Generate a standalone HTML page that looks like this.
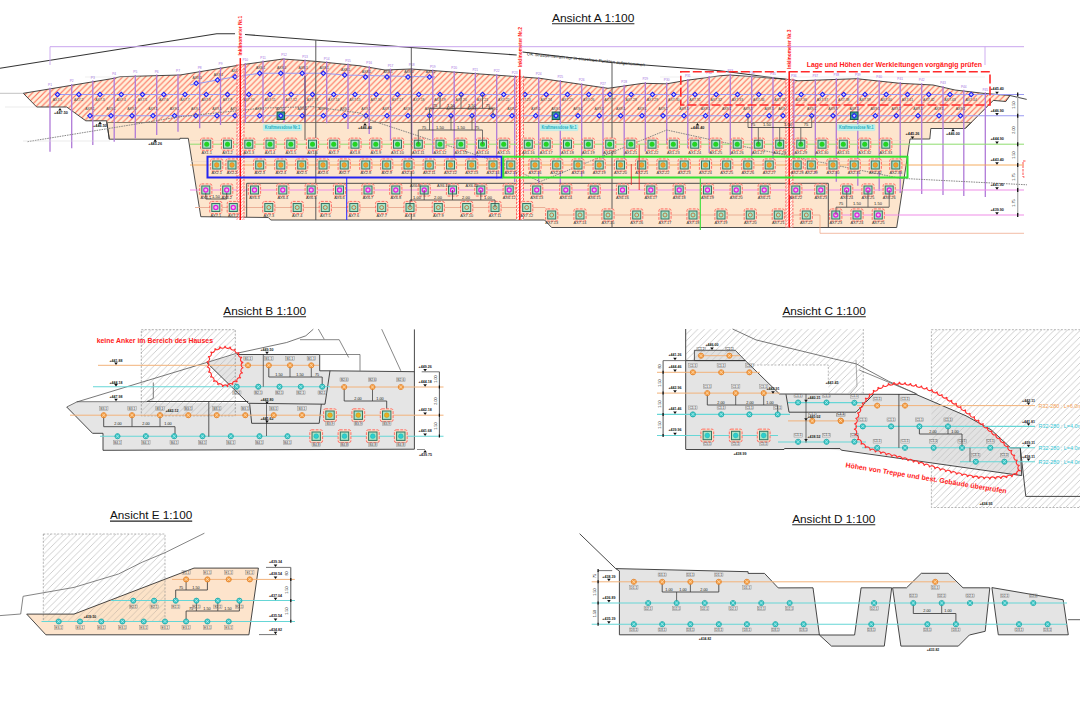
<!DOCTYPE html>
<html><head><meta charset="utf-8"><style>
html,body{margin:0;padding:0;background:#fff;width:1080px;height:720px;overflow:hidden}
svg{display:block}
</style></head><body>
<svg width="1080" height="720" viewBox="0 0 1080 720" font-family="Liberation Sans, sans-serif">
<defs>
<pattern id="hr" patternUnits="userSpaceOnUse" width="5.7" height="5.7">
<rect width="5.7" height="5.7" fill="#fef1dc"/>
<path d="M-1.4,1.4 l2.8,-2.8 M0,5.7 l5.7,-5.7 M4.3,7.1 l2.8,-2.8" stroke="#ff6c58" stroke-width="1.15"/>
</pattern>
<pattern id="hi" patternUnits="userSpaceOnUse" width="3" height="3">
<rect width="3" height="3" fill="#fff"/>
<path d="M-0.75,0.75 l1.5,-1.5 M0,3 l3,-3 M2.25,3.75 l1.5,-1.5" stroke="#ff5a5a" stroke-width="0.7"/>
</pattern>
<pattern id="hg" patternUnits="userSpaceOnUse" width="6.5" height="6.5">
<path d="M-1.6,1.6 l3.2,-3.2 M0,6.5 l6.5,-6.5 M4.9,8.1 l3.2,-3.2" stroke="#b9b9b9" stroke-width="0.7"/>
</pattern>
<pattern id="hgb" patternUnits="userSpaceOnUse" width="6.5" height="6.5">
<rect width="6.5" height="6.5" fill="#e2e2e2"/>
<path d="M-1.6,1.6 l3.2,-3.2 M0,6.5 l6.5,-6.5 M4.9,8.1 l3.2,-3.2" stroke="#bdbdbd" stroke-width="0.7"/>
</pattern>
<pattern id="hrb" patternUnits="userSpaceOnUse" width="6.5" height="6.5">
<rect width="6.5" height="6.5" fill="#fce3c8"/>
<path d="M-1.6,1.6 l3.2,-3.2 M0,6.5 l6.5,-6.5 M4.9,8.1 l3.2,-3.2" stroke="#c9b9a9" stroke-width="0.7"/>
</pattern>
</defs>
<rect width="1080" height="720" fill="#fff"/>
<text x="552.0" y="21.7" font-size="11.6" fill="#111" textLength="82.4" lengthAdjust="spacingAndGlyphs">Ansicht A 1:100</text>
<line x1="552.0" y1="23.7" x2="634.4" y2="23.7" stroke="#222" stroke-width="1.1" />
<polygon points="106.7,122.0 109.3,139.2 180.0,139.2 180.0,138.3 188.3,138.3 200.8,216.7 268.3,217.5 270.8,220.0 544.6,220.0 551.6,227.5 896.7,227.5 910.0,139.0 929.8,139.0 930.8,128.5 965.2,128.5 971.5,122.0" fill="#fde5cd" stroke="#3a3a3a" stroke-width="0.9" />
<polygon points="23.3,93.3 114.0,78.3 120.0,76.7 180.0,75.0 240.0,65.0 283.0,59.0 315.0,61.3 360.0,65.8 385.0,70.0 411.0,69.0 540.0,78.3 608.0,88.3 643.0,83.3 666.7,83.8 686.7,80.3 720.0,75.8 730.0,75.0 791.7,79.7 798.0,80.8 856.7,78.7 900.0,83.3 933.0,85.0 955.0,90.0 983.0,93.3 1010.0,95.5 1005.8,101.5 993.3,100.4 971.5,122.3 106.7,122.3 106.7,120.8 85.8,120.8 66.7,107.0 36.7,107.0" fill="url(#hr)" stroke="none" stroke-width="1" />
<polyline points="23.3,93.3 36.7,107.0 66.7,107.0 85.8,120.8 106.7,120.8 109.3,139.2" fill="none" stroke="#333" stroke-width="0.9" />
<polyline points="23.3,93.3 114.0,78.3 120.0,76.7 180.0,75.0 240.0,65.0 283.0,59.0 315.0,61.3 360.0,65.8 385.0,70.0 411.0,69.0 540.0,78.3 608.0,88.3 643.0,83.3 666.7,83.8 686.7,80.3 720.0,75.8 730.0,75.0 791.7,79.7 798.0,80.8 856.7,78.7 900.0,83.3 933.0,85.0 955.0,90.0 983.0,93.3 1010.0,95.5 1026.7,99.4" fill="none" stroke="#333" stroke-width="0.9" />
<polyline points="1010.0,95.5 1005.8,101.5 993.3,100.4 965.2,128.5" fill="none" stroke="#333" stroke-width="0.9" />
<line x1="106.7" y1="122.5" x2="971.0" y2="122.5" stroke="#8a7a6a" stroke-width="1.0" />
<line x1="0.0" y1="93.3" x2="23.3" y2="93.3" stroke="#999" stroke-width="0.6" />
<line x1="5.0" y1="107.0" x2="36.0" y2="107.0" stroke="#ddd" stroke-width="0.6" />
<polyline points="0.0,68.3 216.7,33.7 235.0,33.7" fill="none" stroke="#333" stroke-width="1.1" />
<polyline points="245.0,34.5 315.0,40.0 411.0,47.5 516.7,55.0" fill="none" stroke="#333" stroke-width="1.1" />
<polyline points="522.5,52.0 612.0,62.5 720.0,70.8 791.7,80.0" fill="none" stroke="#333" stroke-width="1.1" />
<line x1="50.0" y1="46.7" x2="1024.0" y2="46.7" stroke="#c9a6ee" stroke-width="1.0" />
<line x1="50.0" y1="46.7" x2="50.0" y2="65.0" stroke="#c9a6ee" stroke-width="0.9" />
<line x1="985.0" y1="46.7" x2="985.0" y2="65.0" stroke="#c9a6ee" stroke-width="0.9" />
<text x="0" y="0" font-size="4.4" fill="#222" transform="translate(526.7 55.2) rotate(5.4)" textLength="118.5" lengthAdjust="spacingAndGlyphs">OK Strassenterrain nur in einzelnen Punkten aufgenommen</text>
<line x1="85.0" y1="77.0" x2="140.0" y2="77.0" stroke="#ddd" stroke-width="0.5" />
<line x1="660.0" y1="77.0" x2="985.0" y2="77.0" stroke="#ddd" stroke-width="0.5" />
<polyline points="190.0,85.0 235.0,76.7 259.7,73.3 323.0,73.3 344.7,75.0 435.0,77.0" fill="none" stroke="#9a9af2" stroke-width="1.1" />
<line x1="57.0" y1="94.5" x2="1024.0" y2="94.5" stroke="#9a9af2" stroke-width="1.1" />
<line x1="88.0" y1="115.8" x2="1024.0" y2="115.8" stroke="#9a9af2" stroke-width="1.1" />
<line x1="50.0" y1="87.7" x2="50.0" y2="151.7" stroke="#b07ad8" stroke-width="1.3" />
<text x="50.0" y="85.9" font-size="3.2" fill="#a070e0" text-anchor="middle">P1</text>
<line x1="71.7" y1="84.1" x2="71.7" y2="148.3" stroke="#b07ad8" stroke-width="1.3" />
<text x="71.7" y="82.3" font-size="3.2" fill="#a070e0" text-anchor="middle">P2</text>
<line x1="92.8" y1="80.6" x2="92.8" y2="145.0" stroke="#b07ad8" stroke-width="1.3" />
<text x="92.8" y="78.8" font-size="3.2" fill="#a070e0" text-anchor="middle">P3</text>
<line x1="114.2" y1="77.0" x2="114.2" y2="141.7" stroke="#b07ad8" stroke-width="1.3" />
<text x="114.2" y="75.2" font-size="3.2" fill="#a070e0" text-anchor="middle">P4</text>
<line x1="135.3" y1="75.1" x2="135.3" y2="138.4" stroke="#b07ad8" stroke-width="1.3" />
<text x="135.3" y="73.3" font-size="3.2" fill="#a070e0" text-anchor="middle">P5</text>
<line x1="156.7" y1="74.5" x2="156.7" y2="135.0" stroke="#b07ad8" stroke-width="1.3" />
<text x="156.7" y="72.7" font-size="3.2" fill="#a070e0" text-anchor="middle">P6</text>
<line x1="178.0" y1="73.9" x2="178.0" y2="131.7" stroke="#b07ad8" stroke-width="1.3" />
<text x="178.0" y="72.1" font-size="3.2" fill="#a070e0" text-anchor="middle">P7</text>
<line x1="199.7" y1="70.5" x2="199.7" y2="128.3" stroke="#b07ad8" stroke-width="1.3" />
<text x="199.7" y="68.7" font-size="3.2" fill="#a070e0" text-anchor="middle">P8</text>
<line x1="220.5" y1="67.0" x2="220.5" y2="125.0" stroke="#b07ad8" stroke-width="1.3" />
<text x="220.5" y="65.2" font-size="3.2" fill="#a070e0" text-anchor="middle">P9</text>
<line x1="245.3" y1="63.1" x2="245.3" y2="123.0" stroke="#b07ad8" stroke-width="1.3" />
<text x="245.3" y="61.3" font-size="3.2" fill="#a070e0" text-anchor="middle">P10</text>
<line x1="263.0" y1="60.6" x2="263.0" y2="123.0" stroke="#b07ad8" stroke-width="1.3" />
<text x="263.0" y="58.8" font-size="3.2" fill="#a070e0" text-anchor="middle">P11</text>
<line x1="284.0" y1="57.9" x2="284.0" y2="123.0" stroke="#b07ad8" stroke-width="1.3" />
<text x="284.0" y="56.1" font-size="3.2" fill="#a070e0" text-anchor="middle">P12</text>
<line x1="305.0" y1="59.4" x2="305.0" y2="123.0" stroke="#b07ad8" stroke-width="1.3" />
<text x="305.0" y="57.6" font-size="3.2" fill="#a070e0" text-anchor="middle">P13</text>
<line x1="326.7" y1="61.3" x2="326.7" y2="123.2" stroke="#b07ad8" stroke-width="1.3" />
<text x="326.7" y="59.5" font-size="3.2" fill="#a070e0" text-anchor="middle">P14</text>
<line x1="348.0" y1="63.4" x2="348.0" y2="129.0" stroke="#b07ad8" stroke-width="1.3" />
<text x="348.0" y="61.6" font-size="3.2" fill="#a070e0" text-anchor="middle">P15</text>
<line x1="369.2" y1="66.1" x2="369.2" y2="134.1" stroke="#b07ad8" stroke-width="1.3" />
<text x="369.2" y="64.3" font-size="3.2" fill="#a070e0" text-anchor="middle">P16</text>
<line x1="390.5" y1="68.6" x2="390.5" y2="141.0" stroke="#b07ad8" stroke-width="1.3" />
<text x="390.5" y="66.8" font-size="3.2" fill="#a070e0" text-anchor="middle">P17</text>
<line x1="411.7" y1="67.9" x2="411.7" y2="147.5" stroke="#b07ad8" stroke-width="1.3" />
<text x="411.7" y="66.1" font-size="3.2" fill="#a070e0" text-anchor="middle">P18</text>
<line x1="432.8" y1="69.4" x2="432.8" y2="154.0" stroke="#b07ad8" stroke-width="1.3" />
<text x="432.8" y="67.6" font-size="3.2" fill="#a070e0" text-anchor="middle">P19</text>
<line x1="454.2" y1="70.9" x2="454.2" y2="160.9" stroke="#b07ad8" stroke-width="1.3" />
<text x="454.2" y="69.1" font-size="3.2" fill="#a070e0" text-anchor="middle">P20</text>
<line x1="475.3" y1="72.4" x2="475.3" y2="167.7" stroke="#b07ad8" stroke-width="1.3" />
<text x="475.3" y="70.6" font-size="3.2" fill="#a070e0" text-anchor="middle">P21</text>
<line x1="496.7" y1="74.0" x2="496.7" y2="178.8" stroke="#b07ad8" stroke-width="1.3" />
<text x="496.7" y="72.2" font-size="3.2" fill="#a070e0" text-anchor="middle">P22</text>
<line x1="514.7" y1="75.3" x2="514.7" y2="182.0" stroke="#b07ad8" stroke-width="1.3" />
<text x="514.7" y="73.5" font-size="3.2" fill="#a070e0" text-anchor="middle">P23</text>
<line x1="538.7" y1="77.0" x2="538.7" y2="186.0" stroke="#b07ad8" stroke-width="1.3" />
<text x="538.7" y="75.2" font-size="3.2" fill="#a070e0" text-anchor="middle">P24</text>
<line x1="560.3" y1="80.1" x2="560.3" y2="184.9" stroke="#b07ad8" stroke-width="1.3" />
<text x="560.3" y="78.3" font-size="3.2" fill="#a070e0" text-anchor="middle">P25</text>
<line x1="581.7" y1="83.2" x2="581.7" y2="178.3" stroke="#b07ad8" stroke-width="1.3" />
<text x="581.7" y="81.4" font-size="3.2" fill="#a070e0" text-anchor="middle">P26</text>
<line x1="603.0" y1="86.4" x2="603.0" y2="161.7" stroke="#b07ad8" stroke-width="1.3" />
<text x="603.0" y="84.6" font-size="3.2" fill="#a070e0" text-anchor="middle">P27</text>
<line x1="624.2" y1="84.8" x2="624.2" y2="158.9" stroke="#b07ad8" stroke-width="1.3" />
<text x="624.2" y="83.0" font-size="3.2" fill="#a070e0" text-anchor="middle">P28</text>
<line x1="645.3" y1="82.1" x2="645.3" y2="151.6" stroke="#b07ad8" stroke-width="1.3" />
<text x="645.3" y="80.3" font-size="3.2" fill="#a070e0" text-anchor="middle">P29</text>
<line x1="666.7" y1="82.6" x2="666.7" y2="144.3" stroke="#b07ad8" stroke-width="1.3" />
<text x="666.7" y="80.8" font-size="3.2" fill="#a070e0" text-anchor="middle">P30</text>
<line x1="687.8" y1="79.0" x2="687.8" y2="148.3" stroke="#b07ad8" stroke-width="1.3" />
<text x="687.8" y="77.2" font-size="3.2" fill="#a070e0" text-anchor="middle">P31</text>
<line x1="709.2" y1="76.1" x2="709.2" y2="153.3" stroke="#b07ad8" stroke-width="1.3" />
<text x="709.2" y="74.3" font-size="3.2" fill="#a070e0" text-anchor="middle">P32</text>
<line x1="730.3" y1="73.8" x2="730.3" y2="155.1" stroke="#b07ad8" stroke-width="1.3" />
<text x="730.3" y="72.0" font-size="3.2" fill="#a070e0" text-anchor="middle">P33</text>
<line x1="751.7" y1="75.5" x2="751.7" y2="159.9" stroke="#b07ad8" stroke-width="1.3" />
<text x="751.7" y="73.7" font-size="3.2" fill="#a070e0" text-anchor="middle">P34</text>
<line x1="773.0" y1="77.1" x2="773.0" y2="160.0" stroke="#b07ad8" stroke-width="1.3" />
<text x="773.0" y="75.3" font-size="3.2" fill="#a070e0" text-anchor="middle">P35</text>
<line x1="793.8" y1="78.9" x2="793.8" y2="166.6" stroke="#b07ad8" stroke-width="1.3" />
<text x="793.8" y="77.1" font-size="3.2" fill="#a070e0" text-anchor="middle">P36</text>
<line x1="815.3" y1="79.0" x2="815.3" y2="173.4" stroke="#b07ad8" stroke-width="1.3" />
<text x="815.3" y="77.2" font-size="3.2" fill="#a070e0" text-anchor="middle">P37</text>
<line x1="836.3" y1="78.2" x2="836.3" y2="181.8" stroke="#b07ad8" stroke-width="1.3" />
<text x="836.3" y="76.4" font-size="3.2" fill="#a070e0" text-anchor="middle">P38</text>
<line x1="857.8" y1="77.6" x2="857.8" y2="185.8" stroke="#b07ad8" stroke-width="1.3" />
<text x="857.8" y="75.8" font-size="3.2" fill="#a070e0" text-anchor="middle">P39</text>
<line x1="879.2" y1="79.9" x2="879.2" y2="191.0" stroke="#b07ad8" stroke-width="1.3" />
<text x="879.2" y="78.1" font-size="3.2" fill="#a070e0" text-anchor="middle">P40</text>
<line x1="900.2" y1="82.1" x2="900.2" y2="193.0" stroke="#b07ad8" stroke-width="1.3" />
<text x="900.2" y="80.3" font-size="3.2" fill="#a070e0" text-anchor="middle">P41</text>
<line x1="921.7" y1="83.2" x2="921.7" y2="194.0" stroke="#b07ad8" stroke-width="1.3" />
<text x="921.7" y="81.4" font-size="3.2" fill="#a070e0" text-anchor="middle">P42</text>
<line x1="943.0" y1="86.1" x2="943.0" y2="195.0" stroke="#b07ad8" stroke-width="1.3" />
<text x="943.0" y="84.3" font-size="3.2" fill="#a070e0" text-anchor="middle">P43</text>
<line x1="963.8" y1="89.8" x2="963.8" y2="196.0" stroke="#b07ad8" stroke-width="1.3" />
<text x="963.8" y="88.0" font-size="3.2" fill="#a070e0" text-anchor="middle">P44</text>
<line x1="985.3" y1="92.3" x2="985.3" y2="197.0" stroke="#b07ad8" stroke-width="1.3" />
<text x="985.3" y="90.5" font-size="3.2" fill="#a070e0" text-anchor="middle">P45</text>
<rect x="194.6" y="81.7" width="3.2" height="3.2" fill="#c8c8ff" stroke="#1e1ef5" stroke-width="1.1" transform="rotate(45 196.2 83.3)"/>
<text x="197.2" y="78.8" font-size="3.5" fill="#444" text-anchor="middle">AX8.1</text>
<rect x="215.9" y="78.4" width="3.2" height="3.2" fill="#c8c8ff" stroke="#1e1ef5" stroke-width="1.1" transform="rotate(45 217.5 80.0)"/>
<text x="218.5" y="75.5" font-size="3.5" fill="#444" text-anchor="middle">AX8.1</text>
<rect x="233.4" y="75.1" width="3.2" height="3.2" fill="#c8c8ff" stroke="#1e1ef5" stroke-width="1.1" transform="rotate(45 235.0 76.7)"/>
<text x="236.0" y="72.2" font-size="3.5" fill="#444" text-anchor="middle">AX8.1</text>
<rect x="258.1" y="71.7" width="3.2" height="3.2" fill="#c8c8ff" stroke="#1e1ef5" stroke-width="1.1" transform="rotate(45 259.7 73.3)"/>
<text x="260.7" y="68.8" font-size="3.5" fill="#444" text-anchor="middle">AX8.1</text>
<rect x="279.2" y="71.7" width="3.2" height="3.2" fill="#c8c8ff" stroke="#1e1ef5" stroke-width="1.1" transform="rotate(45 280.8 73.3)"/>
<text x="281.8" y="68.8" font-size="3.5" fill="#444" text-anchor="middle">AX8.1</text>
<rect x="300.6" y="71.7" width="3.2" height="3.2" fill="#c8c8ff" stroke="#1e1ef5" stroke-width="1.1" transform="rotate(45 302.2 73.3)"/>
<text x="303.2" y="68.8" font-size="3.5" fill="#444" text-anchor="middle">AX8.1</text>
<rect x="321.7" y="71.7" width="3.2" height="3.2" fill="#c8c8ff" stroke="#1e1ef5" stroke-width="1.1" transform="rotate(45 323.3 73.3)"/>
<text x="324.3" y="68.8" font-size="3.5" fill="#444" text-anchor="middle">AX8.1</text>
<rect x="343.1" y="73.4" width="3.2" height="3.2" fill="#c8c8ff" stroke="#1e1ef5" stroke-width="1.1" transform="rotate(45 344.7 75.0)"/>
<text x="345.7" y="70.5" font-size="3.5" fill="#444" text-anchor="middle">AX8.1</text>
<rect x="363.9" y="75.4" width="3.2" height="3.2" fill="#c8c8ff" stroke="#1e1ef5" stroke-width="1.1" transform="rotate(45 365.5 77.0)"/>
<text x="366.5" y="72.5" font-size="3.5" fill="#444" text-anchor="middle">AX8.1</text>
<rect x="385.4" y="75.4" width="3.2" height="3.2" fill="#c8c8ff" stroke="#1e1ef5" stroke-width="1.1" transform="rotate(45 387.0 77.0)"/>
<text x="388.0" y="72.5" font-size="3.5" fill="#444" text-anchor="middle">AX8.1</text>
<rect x="406.4" y="75.4" width="3.2" height="3.2" fill="#c8c8ff" stroke="#1e1ef5" stroke-width="1.1" transform="rotate(45 408.0 77.0)"/>
<text x="409.0" y="72.5" font-size="3.5" fill="#444" text-anchor="middle">AX8.1</text>
<rect x="427.9" y="75.4" width="3.2" height="3.2" fill="#c8c8ff" stroke="#1e1ef5" stroke-width="1.1" transform="rotate(45 429.5 77.0)"/>
<text x="430.5" y="72.5" font-size="3.5" fill="#444" text-anchor="middle">AX8.1</text>
<rect x="55.9" y="92.9" width="3.2" height="3.2" fill="#c8c8ff" stroke="#1e1ef5" stroke-width="1.1" transform="rotate(45 57.5 94.5)"/>
<text x="57.5" y="101.0" font-size="3.5" fill="#444" text-anchor="middle">AX7.1</text>
<rect x="77.2" y="92.9" width="3.2" height="3.2" fill="#c8c8ff" stroke="#1e1ef5" stroke-width="1.1" transform="rotate(45 78.8 94.5)"/>
<text x="78.8" y="101.0" font-size="3.5" fill="#444" text-anchor="middle">AX7.2</text>
<rect x="98.4" y="92.9" width="3.2" height="3.2" fill="#c8c8ff" stroke="#1e1ef5" stroke-width="1.1" transform="rotate(45 100.0 94.5)"/>
<text x="100.0" y="101.0" font-size="3.5" fill="#444" text-anchor="middle">AX7.3</text>
<rect x="119.7" y="92.9" width="3.2" height="3.2" fill="#c8c8ff" stroke="#1e1ef5" stroke-width="1.1" transform="rotate(45 121.2 94.5)"/>
<text x="121.2" y="101.0" font-size="3.5" fill="#444" text-anchor="middle">AX7.4</text>
<rect x="140.9" y="92.9" width="3.2" height="3.2" fill="#c8c8ff" stroke="#1e1ef5" stroke-width="1.1" transform="rotate(45 142.5 94.5)"/>
<text x="142.5" y="101.0" font-size="3.5" fill="#444" text-anchor="middle">AX7.5</text>
<rect x="162.2" y="92.9" width="3.2" height="3.2" fill="#c8c8ff" stroke="#1e1ef5" stroke-width="1.1" transform="rotate(45 163.8 94.5)"/>
<text x="163.8" y="101.0" font-size="3.5" fill="#444" text-anchor="middle">AX7.6</text>
<rect x="183.4" y="92.9" width="3.2" height="3.2" fill="#c8c8ff" stroke="#1e1ef5" stroke-width="1.1" transform="rotate(45 185.0 94.5)"/>
<text x="185.0" y="101.0" font-size="3.5" fill="#444" text-anchor="middle">AX7.7</text>
<rect x="204.7" y="92.9" width="3.2" height="3.2" fill="#c8c8ff" stroke="#1e1ef5" stroke-width="1.1" transform="rotate(45 206.2 94.5)"/>
<text x="206.2" y="101.0" font-size="3.5" fill="#444" text-anchor="middle">AX7.8</text>
<rect x="225.9" y="92.9" width="3.2" height="3.2" fill="#c8c8ff" stroke="#1e1ef5" stroke-width="1.1" transform="rotate(45 227.5 94.5)"/>
<text x="227.5" y="101.0" font-size="3.5" fill="#444" text-anchor="middle">AX7.9</text>
<rect x="247.2" y="92.9" width="3.2" height="3.2" fill="#c8c8ff" stroke="#1e1ef5" stroke-width="1.1" transform="rotate(45 248.8 94.5)"/>
<text x="248.8" y="101.0" font-size="3.5" fill="#444" text-anchor="middle">AX7.10</text>
<rect x="268.4" y="92.9" width="3.2" height="3.2" fill="#c8c8ff" stroke="#1e1ef5" stroke-width="1.1" transform="rotate(45 270.0 94.5)"/>
<text x="270.0" y="101.0" font-size="3.5" fill="#444" text-anchor="middle">AX7.11</text>
<rect x="289.6" y="92.9" width="3.2" height="3.2" fill="#c8c8ff" stroke="#1e1ef5" stroke-width="1.1" transform="rotate(45 291.2 94.5)"/>
<text x="291.2" y="101.0" font-size="3.5" fill="#444" text-anchor="middle">AX7.12</text>
<rect x="310.9" y="92.9" width="3.2" height="3.2" fill="#c8c8ff" stroke="#1e1ef5" stroke-width="1.1" transform="rotate(45 312.5 94.5)"/>
<text x="312.5" y="101.0" font-size="3.5" fill="#444" text-anchor="middle">AX7.13</text>
<rect x="332.1" y="92.9" width="3.2" height="3.2" fill="#c8c8ff" stroke="#1e1ef5" stroke-width="1.1" transform="rotate(45 333.8 94.5)"/>
<text x="333.8" y="101.0" font-size="3.5" fill="#444" text-anchor="middle">AX7.14</text>
<rect x="353.4" y="92.9" width="3.2" height="3.2" fill="#c8c8ff" stroke="#1e1ef5" stroke-width="1.1" transform="rotate(45 355.0 94.5)"/>
<text x="355.0" y="101.0" font-size="3.5" fill="#444" text-anchor="middle">AX7.15</text>
<rect x="374.6" y="92.9" width="3.2" height="3.2" fill="#c8c8ff" stroke="#1e1ef5" stroke-width="1.1" transform="rotate(45 376.2 94.5)"/>
<text x="376.2" y="101.0" font-size="3.5" fill="#444" text-anchor="middle">AX7.16</text>
<rect x="395.9" y="92.9" width="3.2" height="3.2" fill="#c8c8ff" stroke="#1e1ef5" stroke-width="1.1" transform="rotate(45 397.5 94.5)"/>
<text x="397.5" y="101.0" font-size="3.5" fill="#444" text-anchor="middle">AX7.17</text>
<rect x="417.1" y="92.9" width="3.2" height="3.2" fill="#c8c8ff" stroke="#1e1ef5" stroke-width="1.1" transform="rotate(45 418.8 94.5)"/>
<text x="418.8" y="101.0" font-size="3.5" fill="#444" text-anchor="middle">AX7.18</text>
<rect x="438.4" y="92.9" width="3.2" height="3.2" fill="#c8c8ff" stroke="#1e1ef5" stroke-width="1.1" transform="rotate(45 440.0 94.5)"/>
<text x="440.0" y="101.0" font-size="3.5" fill="#444" text-anchor="middle">AX7.19</text>
<rect x="459.6" y="92.9" width="3.2" height="3.2" fill="#c8c8ff" stroke="#1e1ef5" stroke-width="1.1" transform="rotate(45 461.2 94.5)"/>
<text x="461.2" y="101.0" font-size="3.5" fill="#444" text-anchor="middle">AX7.20</text>
<rect x="480.9" y="92.9" width="3.2" height="3.2" fill="#c8c8ff" stroke="#1e1ef5" stroke-width="1.1" transform="rotate(45 482.5 94.5)"/>
<text x="482.5" y="101.0" font-size="3.5" fill="#444" text-anchor="middle">AX7.21</text>
<rect x="502.1" y="92.9" width="3.2" height="3.2" fill="#c8c8ff" stroke="#1e1ef5" stroke-width="1.1" transform="rotate(45 503.8 94.5)"/>
<text x="503.8" y="101.0" font-size="3.5" fill="#444" text-anchor="middle">AX7.22</text>
<rect x="523.4" y="92.9" width="3.2" height="3.2" fill="#c8c8ff" stroke="#1e1ef5" stroke-width="1.1" transform="rotate(45 525.0 94.5)"/>
<text x="525.0" y="101.0" font-size="3.5" fill="#444" text-anchor="middle">AX7.23</text>
<rect x="544.6" y="92.9" width="3.2" height="3.2" fill="#c8c8ff" stroke="#1e1ef5" stroke-width="1.1" transform="rotate(45 546.2 94.5)"/>
<text x="546.2" y="101.0" font-size="3.5" fill="#444" text-anchor="middle">AX7.24</text>
<rect x="565.9" y="92.9" width="3.2" height="3.2" fill="#c8c8ff" stroke="#1e1ef5" stroke-width="1.1" transform="rotate(45 567.5 94.5)"/>
<text x="567.5" y="101.0" font-size="3.5" fill="#444" text-anchor="middle">AX7.25</text>
<rect x="587.1" y="92.9" width="3.2" height="3.2" fill="#c8c8ff" stroke="#1e1ef5" stroke-width="1.1" transform="rotate(45 588.8 94.5)"/>
<text x="588.8" y="101.0" font-size="3.5" fill="#444" text-anchor="middle">AX7.26</text>
<rect x="608.4" y="92.9" width="3.2" height="3.2" fill="#c8c8ff" stroke="#1e1ef5" stroke-width="1.1" transform="rotate(45 610.0 94.5)"/>
<text x="610.0" y="101.0" font-size="3.5" fill="#444" text-anchor="middle">AX7.27</text>
<rect x="629.6" y="92.9" width="3.2" height="3.2" fill="#c8c8ff" stroke="#1e1ef5" stroke-width="1.1" transform="rotate(45 631.2 94.5)"/>
<text x="631.2" y="101.0" font-size="3.5" fill="#444" text-anchor="middle">AX7.28</text>
<rect x="650.9" y="92.9" width="3.2" height="3.2" fill="#c8c8ff" stroke="#1e1ef5" stroke-width="1.1" transform="rotate(45 652.5 94.5)"/>
<text x="652.5" y="101.0" font-size="3.5" fill="#444" text-anchor="middle">AX7.29</text>
<rect x="672.1" y="92.9" width="3.2" height="3.2" fill="#c8c8ff" stroke="#1e1ef5" stroke-width="1.1" transform="rotate(45 673.8 94.5)"/>
<text x="673.8" y="101.0" font-size="3.5" fill="#444" text-anchor="middle">AX7.30</text>
<rect x="693.4" y="92.9" width="3.2" height="3.2" fill="#c8c8ff" stroke="#1e1ef5" stroke-width="1.1" transform="rotate(45 695.0 94.5)"/>
<text x="695.0" y="101.0" font-size="3.5" fill="#444" text-anchor="middle">AX7.31</text>
<rect x="714.6" y="92.9" width="3.2" height="3.2" fill="#c8c8ff" stroke="#1e1ef5" stroke-width="1.1" transform="rotate(45 716.2 94.5)"/>
<text x="716.2" y="101.0" font-size="3.5" fill="#444" text-anchor="middle">AX7.32</text>
<rect x="735.9" y="92.9" width="3.2" height="3.2" fill="#c8c8ff" stroke="#1e1ef5" stroke-width="1.1" transform="rotate(45 737.5 94.5)"/>
<text x="737.5" y="101.0" font-size="3.5" fill="#444" text-anchor="middle">AX7.33</text>
<rect x="757.1" y="92.9" width="3.2" height="3.2" fill="#c8c8ff" stroke="#1e1ef5" stroke-width="1.1" transform="rotate(45 758.8 94.5)"/>
<text x="758.8" y="101.0" font-size="3.5" fill="#444" text-anchor="middle">AX7.34</text>
<rect x="778.4" y="92.9" width="3.2" height="3.2" fill="#c8c8ff" stroke="#1e1ef5" stroke-width="1.1" transform="rotate(45 780.0 94.5)"/>
<text x="780.0" y="101.0" font-size="3.5" fill="#444" text-anchor="middle">AX7.35</text>
<rect x="799.6" y="92.9" width="3.2" height="3.2" fill="#c8c8ff" stroke="#1e1ef5" stroke-width="1.1" transform="rotate(45 801.2 94.5)"/>
<text x="801.2" y="101.0" font-size="3.5" fill="#444" text-anchor="middle">AX7.36</text>
<rect x="820.9" y="92.9" width="3.2" height="3.2" fill="#c8c8ff" stroke="#1e1ef5" stroke-width="1.1" transform="rotate(45 822.5 94.5)"/>
<text x="822.5" y="101.0" font-size="3.5" fill="#444" text-anchor="middle">AX7.37</text>
<rect x="842.1" y="92.9" width="3.2" height="3.2" fill="#c8c8ff" stroke="#1e1ef5" stroke-width="1.1" transform="rotate(45 843.8 94.5)"/>
<text x="843.8" y="101.0" font-size="3.5" fill="#444" text-anchor="middle">AX7.38</text>
<rect x="863.4" y="92.9" width="3.2" height="3.2" fill="#c8c8ff" stroke="#1e1ef5" stroke-width="1.1" transform="rotate(45 865.0 94.5)"/>
<text x="865.0" y="101.0" font-size="3.5" fill="#444" text-anchor="middle">AX7.39</text>
<rect x="884.6" y="92.9" width="3.2" height="3.2" fill="#c8c8ff" stroke="#1e1ef5" stroke-width="1.1" transform="rotate(45 886.2 94.5)"/>
<text x="886.2" y="101.0" font-size="3.5" fill="#444" text-anchor="middle">AX7.40</text>
<rect x="905.9" y="92.9" width="3.2" height="3.2" fill="#c8c8ff" stroke="#1e1ef5" stroke-width="1.1" transform="rotate(45 907.5 94.5)"/>
<text x="907.5" y="101.0" font-size="3.5" fill="#444" text-anchor="middle">AX7.41</text>
<rect x="927.1" y="92.9" width="3.2" height="3.2" fill="#c8c8ff" stroke="#1e1ef5" stroke-width="1.1" transform="rotate(45 928.8 94.5)"/>
<text x="928.8" y="101.0" font-size="3.5" fill="#444" text-anchor="middle">AX7.42</text>
<rect x="948.4" y="92.9" width="3.2" height="3.2" fill="#c8c8ff" stroke="#1e1ef5" stroke-width="1.1" transform="rotate(45 950.0 94.5)"/>
<text x="950.0" y="101.0" font-size="3.5" fill="#444" text-anchor="middle">AX7.43</text>
<rect x="969.6" y="92.9" width="3.2" height="3.2" fill="#c8c8ff" stroke="#1e1ef5" stroke-width="1.1" transform="rotate(45 971.2 94.5)"/>
<text x="971.2" y="101.0" font-size="3.5" fill="#444" text-anchor="middle">AX7.44</text>
<rect x="88.4" y="114.2" width="3.2" height="3.2" fill="#c8c8ff" stroke="#1e1ef5" stroke-width="1.1" transform="rotate(45 90.0 115.8)"/>
<text x="90.0" y="109.5" font-size="3.5" fill="#444" text-anchor="middle">AX9.1</text>
<rect x="109.4" y="114.2" width="3.2" height="3.2" fill="#c8c8ff" stroke="#1e1ef5" stroke-width="1.1" transform="rotate(45 111.0 115.8)"/>
<text x="111.0" y="109.5" font-size="3.5" fill="#444" text-anchor="middle">AX9.1</text>
<rect x="130.4" y="114.2" width="3.2" height="3.2" fill="#c8c8ff" stroke="#1e1ef5" stroke-width="1.1" transform="rotate(45 132.0 115.8)"/>
<text x="132.0" y="109.5" font-size="3.5" fill="#444" text-anchor="middle">AX9.1</text>
<rect x="151.4" y="114.2" width="3.2" height="3.2" fill="#c8c8ff" stroke="#1e1ef5" stroke-width="1.1" transform="rotate(45 153.0 115.8)"/>
<text x="153.0" y="109.5" font-size="3.5" fill="#444" text-anchor="middle">AX9.1</text>
<rect x="172.9" y="114.2" width="3.2" height="3.2" fill="#c8c8ff" stroke="#1e1ef5" stroke-width="1.1" transform="rotate(45 174.5 115.8)"/>
<text x="174.5" y="109.5" font-size="3.5" fill="#444" text-anchor="middle">AX9.1</text>
<rect x="194.2" y="114.2" width="3.2" height="3.2" fill="#c8c8ff" stroke="#1e1ef5" stroke-width="1.1" transform="rotate(45 195.8 115.8)"/>
<text x="195.8" y="109.5" font-size="3.5" fill="#444" text-anchor="middle">AX9.1</text>
<rect x="215.4" y="114.2" width="3.2" height="3.2" fill="#c8c8ff" stroke="#1e1ef5" stroke-width="1.1" transform="rotate(45 217.0 115.8)"/>
<text x="217.0" y="109.5" font-size="3.5" fill="#444" text-anchor="middle">AX9.1</text>
<rect x="233.4" y="114.2" width="3.2" height="3.2" fill="#c8c8ff" stroke="#1e1ef5" stroke-width="1.1" transform="rotate(45 235.0 115.8)"/>
<text x="235.0" y="109.5" font-size="3.5" fill="#444" text-anchor="middle">AX9.1</text>
<rect x="258.1" y="114.2" width="3.2" height="3.2" fill="#c8c8ff" stroke="#1e1ef5" stroke-width="1.1" transform="rotate(45 259.7 115.8)"/>
<text x="259.7" y="109.5" font-size="3.5" fill="#444" text-anchor="middle">AX9.1</text>
<rect x="277.1" y="112.0" width="7.5" height="7.5" fill="#3a9a9a" stroke="#1f5f50" stroke-width="1"/>
<rect x="279.2" y="114.2" width="3.2" height="3.2" fill="#c8c8ff" stroke="#1e1ef5" stroke-width="1.1" transform="rotate(45 280.8 115.8)"/>
<text x="280.8" y="109.5" font-size="3.5" fill="#444" text-anchor="middle">AX9.1</text>
<rect x="300.6" y="114.2" width="3.2" height="3.2" fill="#c8c8ff" stroke="#1e1ef5" stroke-width="1.1" transform="rotate(45 302.2 115.8)"/>
<text x="302.2" y="109.5" font-size="3.5" fill="#444" text-anchor="middle">AX9.1</text>
<rect x="321.7" y="114.2" width="3.2" height="3.2" fill="#c8c8ff" stroke="#1e1ef5" stroke-width="1.1" transform="rotate(45 323.3 115.8)"/>
<text x="323.3" y="109.5" font-size="3.5" fill="#444" text-anchor="middle">AX9.1</text>
<rect x="343.1" y="114.2" width="3.2" height="3.2" fill="#c8c8ff" stroke="#1e1ef5" stroke-width="1.1" transform="rotate(45 344.7 115.8)"/>
<text x="344.7" y="109.5" font-size="3.5" fill="#444" text-anchor="middle">AX9.1</text>
<rect x="364.4" y="114.2" width="3.2" height="3.2" fill="#c8c8ff" stroke="#1e1ef5" stroke-width="1.1" transform="rotate(45 366.0 115.8)"/>
<text x="366.0" y="109.5" font-size="3.5" fill="#444" text-anchor="middle">AX9.1</text>
<rect x="385.4" y="114.2" width="3.2" height="3.2" fill="#c8c8ff" stroke="#1e1ef5" stroke-width="1.1" transform="rotate(45 387.0 115.8)"/>
<text x="387.0" y="109.5" font-size="3.5" fill="#444" text-anchor="middle">AX9.1</text>
<rect x="406.4" y="114.2" width="3.2" height="3.2" fill="#c8c8ff" stroke="#1e1ef5" stroke-width="1.1" transform="rotate(45 408.0 115.8)"/>
<text x="408.0" y="109.5" font-size="3.5" fill="#444" text-anchor="middle">AX9.1</text>
<rect x="427.9" y="114.2" width="3.2" height="3.2" fill="#c8c8ff" stroke="#1e1ef5" stroke-width="1.1" transform="rotate(45 429.5 115.8)"/>
<text x="429.5" y="109.5" font-size="3.5" fill="#444" text-anchor="middle">AX9.1</text>
<rect x="449.4" y="114.2" width="3.2" height="3.2" fill="#c8c8ff" stroke="#1e1ef5" stroke-width="1.1" transform="rotate(45 451.0 115.8)"/>
<text x="451.0" y="109.5" font-size="3.5" fill="#444" text-anchor="middle">AX9.1</text>
<rect x="470.4" y="114.2" width="3.2" height="3.2" fill="#c8c8ff" stroke="#1e1ef5" stroke-width="1.1" transform="rotate(45 472.0 115.8)"/>
<text x="472.0" y="109.5" font-size="3.5" fill="#444" text-anchor="middle">AX9.1</text>
<rect x="491.4" y="114.2" width="3.2" height="3.2" fill="#c8c8ff" stroke="#1e1ef5" stroke-width="1.1" transform="rotate(45 493.0 115.8)"/>
<text x="493.0" y="109.5" font-size="3.5" fill="#444" text-anchor="middle">AX9.1</text>
<rect x="510.4" y="114.2" width="3.2" height="3.2" fill="#c8c8ff" stroke="#1e1ef5" stroke-width="1.1" transform="rotate(45 512.0 115.8)"/>
<text x="512.0" y="109.5" font-size="3.5" fill="#444" text-anchor="middle">AX9.1</text>
<rect x="534.1" y="114.2" width="3.2" height="3.2" fill="#c8c8ff" stroke="#1e1ef5" stroke-width="1.1" transform="rotate(45 535.7 115.8)"/>
<text x="535.7" y="109.5" font-size="3.5" fill="#444" text-anchor="middle">AX9.1</text>
<rect x="552.2" y="112.0" width="7.5" height="7.5" fill="#3a9a9a" stroke="#1f5f50" stroke-width="1"/>
<rect x="554.4" y="114.2" width="3.2" height="3.2" fill="#c8c8ff" stroke="#1e1ef5" stroke-width="1.1" transform="rotate(45 556.0 115.8)"/>
<text x="556.0" y="109.5" font-size="3.5" fill="#444" text-anchor="middle">AX9.1</text>
<rect x="576.4" y="114.2" width="3.2" height="3.2" fill="#c8c8ff" stroke="#1e1ef5" stroke-width="1.1" transform="rotate(45 578.0 115.8)"/>
<text x="578.0" y="109.5" font-size="3.5" fill="#444" text-anchor="middle">AX9.1</text>
<rect x="597.7" y="114.2" width="3.2" height="3.2" fill="#c8c8ff" stroke="#1e1ef5" stroke-width="1.1" transform="rotate(45 599.3 115.8)"/>
<text x="599.3" y="109.5" font-size="3.5" fill="#444" text-anchor="middle">AX9.1</text>
<rect x="619.1" y="114.2" width="3.2" height="3.2" fill="#c8c8ff" stroke="#1e1ef5" stroke-width="1.1" transform="rotate(45 620.7 115.8)"/>
<text x="620.7" y="109.5" font-size="3.5" fill="#444" text-anchor="middle">AX9.1</text>
<rect x="640.4" y="114.2" width="3.2" height="3.2" fill="#c8c8ff" stroke="#1e1ef5" stroke-width="1.1" transform="rotate(45 642.0 115.8)"/>
<text x="642.0" y="109.5" font-size="3.5" fill="#444" text-anchor="middle">AX9.1</text>
<rect x="661.4" y="114.2" width="3.2" height="3.2" fill="#c8c8ff" stroke="#1e1ef5" stroke-width="1.1" transform="rotate(45 663.0 115.8)"/>
<text x="663.0" y="109.5" font-size="3.5" fill="#444" text-anchor="middle">AX9.1</text>
<rect x="682.4" y="114.2" width="3.2" height="3.2" fill="#c8c8ff" stroke="#1e1ef5" stroke-width="1.1" transform="rotate(45 684.0 115.8)"/>
<text x="684.0" y="109.5" font-size="3.5" fill="#444" text-anchor="middle">AX9.1</text>
<rect x="703.9" y="114.2" width="3.2" height="3.2" fill="#c8c8ff" stroke="#1e1ef5" stroke-width="1.1" transform="rotate(45 705.5 115.8)"/>
<text x="705.5" y="109.5" font-size="3.5" fill="#444" text-anchor="middle">AX9.1</text>
<rect x="725.1" y="114.2" width="3.2" height="3.2" fill="#c8c8ff" stroke="#1e1ef5" stroke-width="1.1" transform="rotate(45 726.7 115.8)"/>
<text x="726.7" y="109.5" font-size="3.5" fill="#444" text-anchor="middle">AX9.1</text>
<rect x="746.4" y="114.2" width="3.2" height="3.2" fill="#c8c8ff" stroke="#1e1ef5" stroke-width="1.1" transform="rotate(45 748.0 115.8)"/>
<text x="748.0" y="109.5" font-size="3.5" fill="#444" text-anchor="middle">AX9.1</text>
<rect x="767.6" y="114.2" width="3.2" height="3.2" fill="#c8c8ff" stroke="#1e1ef5" stroke-width="1.1" transform="rotate(45 769.2 115.8)"/>
<text x="769.2" y="109.5" font-size="3.5" fill="#444" text-anchor="middle">AX9.1</text>
<rect x="781.4" y="114.2" width="3.2" height="3.2" fill="#c8c8ff" stroke="#1e1ef5" stroke-width="1.1" transform="rotate(45 783.0 115.8)"/>
<text x="783.0" y="109.5" font-size="3.5" fill="#444" text-anchor="middle">AX9.1</text>
<rect x="810.1" y="114.2" width="3.2" height="3.2" fill="#c8c8ff" stroke="#1e1ef5" stroke-width="1.1" transform="rotate(45 811.7 115.8)"/>
<text x="811.7" y="109.5" font-size="3.5" fill="#444" text-anchor="middle">AX9.1</text>
<rect x="831.4" y="114.2" width="3.2" height="3.2" fill="#c8c8ff" stroke="#1e1ef5" stroke-width="1.1" transform="rotate(45 833.0 115.8)"/>
<text x="833.0" y="109.5" font-size="3.5" fill="#444" text-anchor="middle">AX9.1</text>
<rect x="850.5" y="112.0" width="7.5" height="7.5" fill="#3a9a9a" stroke="#1f5f50" stroke-width="1"/>
<rect x="852.6" y="114.2" width="3.2" height="3.2" fill="#c8c8ff" stroke="#1e1ef5" stroke-width="1.1" transform="rotate(45 854.2 115.8)"/>
<text x="854.2" y="109.5" font-size="3.5" fill="#444" text-anchor="middle">AX9.1</text>
<rect x="873.7" y="114.2" width="3.2" height="3.2" fill="#c8c8ff" stroke="#1e1ef5" stroke-width="1.1" transform="rotate(45 875.3 115.8)"/>
<text x="875.3" y="109.5" font-size="3.5" fill="#444" text-anchor="middle">AX9.1</text>
<rect x="894.7" y="114.2" width="3.2" height="3.2" fill="#c8c8ff" stroke="#1e1ef5" stroke-width="1.1" transform="rotate(45 896.3 115.8)"/>
<text x="896.3" y="109.5" font-size="3.5" fill="#444" text-anchor="middle">AX9.1</text>
<rect x="916.4" y="114.2" width="3.2" height="3.2" fill="#c8c8ff" stroke="#1e1ef5" stroke-width="1.1" transform="rotate(45 918.0 115.8)"/>
<text x="918.0" y="109.5" font-size="3.5" fill="#444" text-anchor="middle">AX9.1</text>
<rect x="937.4" y="114.2" width="3.2" height="3.2" fill="#c8c8ff" stroke="#1e1ef5" stroke-width="1.1" transform="rotate(45 939.0 115.8)"/>
<text x="939.0" y="109.5" font-size="3.5" fill="#444" text-anchor="middle">AX9.1</text>
<rect x="958.9" y="114.2" width="3.2" height="3.2" fill="#c8c8ff" stroke="#1e1ef5" stroke-width="1.1" transform="rotate(45 960.5 115.8)"/>
<text x="960.5" y="109.5" font-size="3.5" fill="#444" text-anchor="middle">AX9.1</text>
<rect x="680.8" y="71.7" width="309.2" height="33.3" fill="none" stroke="#ff2a2a" stroke-width="1.6" stroke-dasharray="9,3"/>
<text x="806.7" y="66.8" font-size="7.8" font-weight="bold" fill="#ff2020" textLength="175.3" lengthAdjust="spacingAndGlyphs">Lage und Höhen der Werkleitungen vorgängig prüfen</text>
<polyline points="27.5,141.7 135.0,124.2 180.0,116.7 263.0,108.0 313.0,106.7 360.0,113.0 370.0,120.0 501.7,163.3 540.0,181.7 666.7,130.0 720.0,141.7 900.0,178.3 1027.0,184.8" fill="none" stroke="#7a7a7a" stroke-width="0.9" stroke-dasharray="1.6,0.9"/>
<line x1="23.0" y1="141.0" x2="110.0" y2="141.0" stroke="#ddd" stroke-width="0.6" />
<line x1="190.0" y1="144.2" x2="1024.0" y2="144.2" stroke="#8fdc6f" stroke-width="1.0" />
<line x1="190.0" y1="140.5" x2="905.0" y2="140.5" stroke="#e6d2c2" stroke-width="0.5" />
<line x1="190.0" y1="161.5" x2="905.0" y2="161.5" stroke="#e6d2c2" stroke-width="0.5" />
<line x1="190.0" y1="165.0" x2="1024.0" y2="165.0" stroke="#f3a34f" stroke-width="0.9" />
<line x1="190.0" y1="190.0" x2="1024.0" y2="190.0" stroke="#f08ee8" stroke-width="1.2" />
<polyline points="195.0,207.5 545.0,207.5 552.0,215.0" fill="none" stroke="#e8a890" stroke-width="0.9" />
<line x1="545.0" y1="215.0" x2="820.0" y2="215.0" stroke="#e8a890" stroke-width="0.9" />
<line x1="828.0" y1="215.0" x2="1024.0" y2="215.0" stroke="#f08ee8" stroke-width="1.2" />
<polyline points="820.0,215.0 820.0,233.3 1024.0,233.3" fill="none" stroke="#eea080" stroke-width="0.7" />
<polyline points="246.7,217.0 246.7,183.3 828.3,183.3 828.3,227.5" fill="none" stroke="#4a4a4a" stroke-width="1.0" />
<line x1="315.8" y1="40.0" x2="315.8" y2="220.0" stroke="#5a5a5a" stroke-width="1.0" />
<line x1="411.3" y1="47.5" x2="411.3" y2="220.0" stroke="#4a4a4a" stroke-width="0.9" />
<line x1="612.0" y1="62.5" x2="612.0" y2="227.5" stroke="#5a5a5a" stroke-width="1.0" />
<line x1="346.7" y1="177.5" x2="346.7" y2="220.0" stroke="#3030ff" stroke-width="1.1" />
<line x1="700.3" y1="177.5" x2="700.3" y2="230.0" stroke="#35e035" stroke-width="1.1" />
<rect x="236.8" y="64.0" width="7" height="156.0" fill="url(#hi)" opacity="0.55"/>
<line x1="237.0" y1="64.0" x2="237.0" y2="220.0" stroke="#ff5a5a" stroke-width="0.9" stroke-dasharray="2.5,1.2"/>
<line x1="244.0" y1="64.0" x2="244.0" y2="220.0" stroke="#ff5a5a" stroke-width="0.9" stroke-dasharray="2.5,1.2"/>
<line x1="240.3" y1="58.1" x2="240.3" y2="220.0" stroke="#ff1010" stroke-width="1.5" />
<text x="0" y="0" font-size="5.6" font-weight="bold" fill="#ff1a1a" transform="translate(242.3 55.6) rotate(-90)" textLength="39.8" lengthAdjust="spacingAndGlyphs">Inklinometer Nr.1</text>
<rect x="516.3" y="75.8" width="7" height="144.2" fill="url(#hi)" opacity="0.55"/>
<line x1="516.5" y1="75.8" x2="516.5" y2="220.0" stroke="#ff5a5a" stroke-width="0.9" stroke-dasharray="2.5,1.2"/>
<line x1="523.5" y1="75.8" x2="523.5" y2="220.0" stroke="#ff5a5a" stroke-width="0.9" stroke-dasharray="2.5,1.2"/>
<line x1="519.8" y1="69.5" x2="519.8" y2="220.0" stroke="#ff1010" stroke-width="1.5" />
<text x="0" y="0" font-size="5.6" font-weight="bold" fill="#ff1a1a" transform="translate(521.8 67.0) rotate(-90)" textLength="39.9" lengthAdjust="spacingAndGlyphs">Inklinometer Nr.2</text>
<rect x="785.7" y="78.5" width="7" height="149.0" fill="url(#hi)" opacity="0.55"/>
<line x1="785.9" y1="78.5" x2="785.9" y2="227.5" stroke="#ff5a5a" stroke-width="0.9" stroke-dasharray="2.5,1.2"/>
<line x1="792.9" y1="78.5" x2="792.9" y2="227.5" stroke="#ff5a5a" stroke-width="0.9" stroke-dasharray="2.5,1.2"/>
<line x1="789.2" y1="71.4" x2="789.2" y2="227.5" stroke="#ff1010" stroke-width="1.5" />
<text x="0" y="0" font-size="5.6" font-weight="bold" fill="#ff1a1a" transform="translate(791.2 68.9) rotate(-90)" textLength="39.3" lengthAdjust="spacingAndGlyphs">Inklinometer Nr.3</text>
<rect x="200.6" y="138.1" width="12.2" height="12.2" rx="1.8" fill="#fcdcc6" stroke="#ff6f66" stroke-width="1.0" stroke-dasharray="2.8,1.3"/>
<rect x="202.7" y="140.2" width="8.0" height="8.0" fill="#a6e6c8" stroke="#367565" stroke-width="1.0"/>
<circle cx="206.7" cy="144.2" r="2.5" fill="#22d422"/>
<text x="206.7" y="153.6" font-size="3.9" fill="#333" text-anchor="middle">AX1.1</text>
<rect x="221.4" y="138.1" width="12.2" height="12.2" rx="1.8" fill="#fcdcc6" stroke="#ff6f66" stroke-width="1.0" stroke-dasharray="2.8,1.3"/>
<rect x="223.5" y="140.2" width="8.0" height="8.0" fill="#a6e6c8" stroke="#367565" stroke-width="1.0"/>
<circle cx="227.5" cy="144.2" r="2.5" fill="#22d422"/>
<text x="227.5" y="153.6" font-size="3.9" fill="#333" text-anchor="middle">AX1.2</text>
<rect x="242.7" y="138.1" width="12.2" height="12.2" rx="1.8" fill="#fcdcc6" stroke="#ff6f66" stroke-width="1.0" stroke-dasharray="2.8,1.3"/>
<rect x="244.8" y="140.2" width="8.0" height="8.0" fill="#a6e6c8" stroke="#367565" stroke-width="1.0"/>
<circle cx="248.8" cy="144.2" r="2.5" fill="#22d422"/>
<text x="248.8" y="153.6" font-size="3.9" fill="#333" text-anchor="middle">AX1.3</text>
<rect x="263.9" y="138.1" width="12.2" height="12.2" rx="1.8" fill="#fcdcc6" stroke="#ff6f66" stroke-width="1.0" stroke-dasharray="2.8,1.3"/>
<rect x="266.0" y="140.2" width="8.0" height="8.0" fill="#a6e6c8" stroke="#367565" stroke-width="1.0"/>
<circle cx="270.0" cy="144.2" r="2.5" fill="#22d422"/>
<text x="270.0" y="153.6" font-size="3.9" fill="#333" text-anchor="middle">AX1.4</text>
<rect x="284.7" y="138.1" width="12.2" height="12.2" rx="1.8" fill="#fcdcc6" stroke="#ff6f66" stroke-width="1.0" stroke-dasharray="2.8,1.3"/>
<rect x="286.8" y="140.2" width="8.0" height="8.0" fill="#a6e6c8" stroke="#367565" stroke-width="1.0"/>
<circle cx="290.8" cy="144.2" r="2.5" fill="#22d422"/>
<text x="290.8" y="153.6" font-size="3.9" fill="#333" text-anchor="middle">AX1.5</text>
<rect x="306.4" y="138.1" width="12.2" height="12.2" rx="1.8" fill="#fcdcc6" stroke="#ff6f66" stroke-width="1.0" stroke-dasharray="2.8,1.3"/>
<rect x="308.5" y="140.2" width="8.0" height="8.0" fill="#a6e6c8" stroke="#367565" stroke-width="1.0"/>
<circle cx="312.5" cy="144.2" r="2.5" fill="#22d422"/>
<text x="312.5" y="153.6" font-size="3.9" fill="#333" text-anchor="middle">AX1.6</text>
<rect x="327.6" y="138.1" width="12.2" height="12.2" rx="1.8" fill="#fcdcc6" stroke="#ff6f66" stroke-width="1.0" stroke-dasharray="2.8,1.3"/>
<rect x="329.7" y="140.2" width="8.0" height="8.0" fill="#a6e6c8" stroke="#367565" stroke-width="1.0"/>
<circle cx="333.7" cy="144.2" r="2.5" fill="#22d422"/>
<text x="333.7" y="153.6" font-size="3.9" fill="#333" text-anchor="middle">AX1.7</text>
<rect x="348.9" y="138.1" width="12.2" height="12.2" rx="1.8" fill="#fcdcc6" stroke="#ff6f66" stroke-width="1.0" stroke-dasharray="2.8,1.3"/>
<rect x="351.0" y="140.2" width="8.0" height="8.0" fill="#a6e6c8" stroke="#367565" stroke-width="1.0"/>
<circle cx="355.0" cy="144.2" r="2.5" fill="#22d422"/>
<text x="355.0" y="153.6" font-size="3.9" fill="#333" text-anchor="middle">AX1.8</text>
<rect x="369.7" y="138.1" width="12.2" height="12.2" rx="1.8" fill="#fcdcc6" stroke="#ff6f66" stroke-width="1.0" stroke-dasharray="2.8,1.3"/>
<rect x="371.8" y="140.2" width="8.0" height="8.0" fill="#a6e6c8" stroke="#367565" stroke-width="1.0"/>
<circle cx="375.8" cy="144.2" r="2.5" fill="#22d422"/>
<text x="375.8" y="153.6" font-size="3.9" fill="#333" text-anchor="middle">AX1.9</text>
<rect x="391.4" y="138.1" width="12.2" height="12.2" rx="1.8" fill="#fcdcc6" stroke="#ff6f66" stroke-width="1.0" stroke-dasharray="2.8,1.3"/>
<rect x="393.5" y="140.2" width="8.0" height="8.0" fill="#a6e6c8" stroke="#367565" stroke-width="1.0"/>
<circle cx="397.5" cy="144.2" r="2.5" fill="#22d422"/>
<text x="397.5" y="153.6" font-size="3.9" fill="#333" text-anchor="middle">AX1.10</text>
<rect x="412.2" y="138.1" width="12.2" height="12.2" rx="1.8" fill="#fcdcc6" stroke="#ff6f66" stroke-width="1.0" stroke-dasharray="2.8,1.3"/>
<rect x="414.3" y="140.2" width="8.0" height="8.0" fill="#a6e6c8" stroke="#367565" stroke-width="1.0"/>
<circle cx="418.3" cy="144.2" r="2.5" fill="#22d422"/>
<text x="418.3" y="153.6" font-size="3.9" fill="#333" text-anchor="middle">AX1.11</text>
<rect x="433.9" y="138.1" width="12.2" height="12.2" rx="1.8" fill="#fcdcc6" stroke="#ff6f66" stroke-width="1.0" stroke-dasharray="2.8,1.3"/>
<rect x="436.0" y="140.2" width="8.0" height="8.0" fill="#a6e6c8" stroke="#367565" stroke-width="1.0"/>
<circle cx="440.0" cy="144.2" r="2.5" fill="#22d422"/>
<text x="440.0" y="153.6" font-size="3.9" fill="#333" text-anchor="middle">AX1.12</text>
<rect x="454.7" y="138.1" width="12.2" height="12.2" rx="1.8" fill="#fcdcc6" stroke="#ff6f66" stroke-width="1.0" stroke-dasharray="2.8,1.3"/>
<rect x="456.8" y="140.2" width="8.0" height="8.0" fill="#a6e6c8" stroke="#367565" stroke-width="1.0"/>
<circle cx="460.8" cy="144.2" r="2.5" fill="#22d422"/>
<text x="460.8" y="153.6" font-size="3.9" fill="#333" text-anchor="middle">AX1.13</text>
<rect x="476.4" y="138.1" width="12.2" height="12.2" rx="1.8" fill="#fcdcc6" stroke="#ff6f66" stroke-width="1.0" stroke-dasharray="2.8,1.3"/>
<rect x="478.5" y="140.2" width="8.0" height="8.0" fill="#a6e6c8" stroke="#367565" stroke-width="1.0"/>
<circle cx="482.5" cy="144.2" r="2.5" fill="#22d422"/>
<text x="482.5" y="153.6" font-size="3.9" fill="#333" text-anchor="middle">AX1.14</text>
<rect x="497.6" y="138.1" width="12.2" height="12.2" rx="1.8" fill="#fcdcc6" stroke="#ff6f66" stroke-width="1.0" stroke-dasharray="2.8,1.3"/>
<rect x="499.7" y="140.2" width="8.0" height="8.0" fill="#a6e6c8" stroke="#367565" stroke-width="1.0"/>
<circle cx="503.7" cy="144.2" r="2.5" fill="#22d422"/>
<text x="503.7" y="153.6" font-size="3.9" fill="#333" text-anchor="middle">AX1.15</text>
<rect x="522.2" y="138.1" width="12.2" height="12.2" rx="1.8" fill="#fcdcc6" stroke="#ff6f66" stroke-width="1.0" stroke-dasharray="2.8,1.3"/>
<rect x="524.3" y="140.2" width="8.0" height="8.0" fill="#a6e6c8" stroke="#367565" stroke-width="1.0"/>
<circle cx="528.3" cy="144.2" r="2.5" fill="#22d422"/>
<text x="528.3" y="153.6" font-size="3.9" fill="#333" text-anchor="middle">AX1.16</text>
<rect x="540.1" y="138.1" width="12.2" height="12.2" rx="1.8" fill="#fcdcc6" stroke="#ff6f66" stroke-width="1.0" stroke-dasharray="2.8,1.3"/>
<rect x="542.2" y="140.2" width="8.0" height="8.0" fill="#a6e6c8" stroke="#367565" stroke-width="1.0"/>
<circle cx="546.2" cy="144.2" r="2.5" fill="#22d422"/>
<text x="546.2" y="153.6" font-size="3.9" fill="#333" text-anchor="middle">AX1.17</text>
<rect x="561.4" y="138.1" width="12.2" height="12.2" rx="1.8" fill="#fcdcc6" stroke="#ff6f66" stroke-width="1.0" stroke-dasharray="2.8,1.3"/>
<rect x="563.5" y="140.2" width="8.0" height="8.0" fill="#a6e6c8" stroke="#367565" stroke-width="1.0"/>
<circle cx="567.5" cy="144.2" r="2.5" fill="#22d422"/>
<text x="567.5" y="153.6" font-size="3.9" fill="#333" text-anchor="middle">AX1.18</text>
<rect x="582.2" y="138.1" width="12.2" height="12.2" rx="1.8" fill="#fcdcc6" stroke="#ff6f66" stroke-width="1.0" stroke-dasharray="2.8,1.3"/>
<rect x="584.3" y="140.2" width="8.0" height="8.0" fill="#a6e6c8" stroke="#367565" stroke-width="1.0"/>
<circle cx="588.3" cy="144.2" r="2.5" fill="#22d422"/>
<text x="588.3" y="153.6" font-size="3.9" fill="#333" text-anchor="middle">AX1.19</text>
<rect x="603.6" y="138.1" width="12.2" height="12.2" rx="1.8" fill="#fcdcc6" stroke="#ff6f66" stroke-width="1.0" stroke-dasharray="2.8,1.3"/>
<rect x="605.7" y="140.2" width="8.0" height="8.0" fill="#a6e6c8" stroke="#367565" stroke-width="1.0"/>
<circle cx="609.7" cy="144.2" r="2.5" fill="#22d422"/>
<text x="609.7" y="153.6" font-size="3.9" fill="#333" text-anchor="middle">AX1.20</text>
<rect x="624.7" y="138.1" width="12.2" height="12.2" rx="1.8" fill="#fcdcc6" stroke="#ff6f66" stroke-width="1.0" stroke-dasharray="2.8,1.3"/>
<rect x="626.8" y="140.2" width="8.0" height="8.0" fill="#a6e6c8" stroke="#367565" stroke-width="1.0"/>
<circle cx="630.8" cy="144.2" r="2.5" fill="#22d422"/>
<text x="630.8" y="153.6" font-size="3.9" fill="#333" text-anchor="middle">AX1.21</text>
<rect x="645.9" y="138.1" width="12.2" height="12.2" rx="1.8" fill="#fcdcc6" stroke="#ff6f66" stroke-width="1.0" stroke-dasharray="2.8,1.3"/>
<rect x="648.0" y="140.2" width="8.0" height="8.0" fill="#a6e6c8" stroke="#367565" stroke-width="1.0"/>
<circle cx="652.0" cy="144.2" r="2.5" fill="#22d422"/>
<text x="652.0" y="153.6" font-size="3.9" fill="#333" text-anchor="middle">AX1.22</text>
<rect x="667.2" y="138.1" width="12.2" height="12.2" rx="1.8" fill="#fcdcc6" stroke="#ff6f66" stroke-width="1.0" stroke-dasharray="2.8,1.3"/>
<rect x="669.3" y="140.2" width="8.0" height="8.0" fill="#a6e6c8" stroke="#367565" stroke-width="1.0"/>
<circle cx="673.3" cy="144.2" r="2.5" fill="#22d422"/>
<text x="673.3" y="153.6" font-size="3.9" fill="#333" text-anchor="middle">AX1.23</text>
<rect x="688.6" y="138.1" width="12.2" height="12.2" rx="1.8" fill="#fcdcc6" stroke="#ff6f66" stroke-width="1.0" stroke-dasharray="2.8,1.3"/>
<rect x="690.7" y="140.2" width="8.0" height="8.0" fill="#a6e6c8" stroke="#367565" stroke-width="1.0"/>
<circle cx="694.7" cy="144.2" r="2.5" fill="#22d422"/>
<text x="694.7" y="153.6" font-size="3.9" fill="#333" text-anchor="middle">AX1.24</text>
<rect x="709.7" y="138.1" width="12.2" height="12.2" rx="1.8" fill="#fcdcc6" stroke="#ff6f66" stroke-width="1.0" stroke-dasharray="2.8,1.3"/>
<rect x="711.8" y="140.2" width="8.0" height="8.0" fill="#a6e6c8" stroke="#367565" stroke-width="1.0"/>
<circle cx="715.8" cy="144.2" r="2.5" fill="#22d422"/>
<text x="715.8" y="153.6" font-size="3.9" fill="#333" text-anchor="middle">AX1.25</text>
<rect x="731.1" y="138.1" width="12.2" height="12.2" rx="1.8" fill="#fcdcc6" stroke="#ff6f66" stroke-width="1.0" stroke-dasharray="2.8,1.3"/>
<rect x="733.2" y="140.2" width="8.0" height="8.0" fill="#a6e6c8" stroke="#367565" stroke-width="1.0"/>
<circle cx="737.2" cy="144.2" r="2.5" fill="#22d422"/>
<text x="737.2" y="153.6" font-size="3.9" fill="#333" text-anchor="middle">AX1.26</text>
<rect x="752.2" y="138.1" width="12.2" height="12.2" rx="1.8" fill="#fcdcc6" stroke="#ff6f66" stroke-width="1.0" stroke-dasharray="2.8,1.3"/>
<rect x="754.3" y="140.2" width="8.0" height="8.0" fill="#a6e6c8" stroke="#367565" stroke-width="1.0"/>
<circle cx="758.3" cy="144.2" r="2.5" fill="#22d422"/>
<text x="758.3" y="153.6" font-size="3.9" fill="#333" text-anchor="middle">AX1.27</text>
<rect x="773.6" y="138.1" width="12.2" height="12.2" rx="1.8" fill="#fcdcc6" stroke="#ff6f66" stroke-width="1.0" stroke-dasharray="2.8,1.3"/>
<rect x="775.7" y="140.2" width="8.0" height="8.0" fill="#a6e6c8" stroke="#367565" stroke-width="1.0"/>
<circle cx="779.7" cy="144.2" r="2.5" fill="#22d422"/>
<text x="779.7" y="153.6" font-size="3.9" fill="#333" text-anchor="middle">AX1.28</text>
<rect x="794.7" y="138.1" width="12.2" height="12.2" rx="1.8" fill="#fcdcc6" stroke="#ff6f66" stroke-width="1.0" stroke-dasharray="2.8,1.3"/>
<rect x="796.8" y="140.2" width="8.0" height="8.0" fill="#a6e6c8" stroke="#367565" stroke-width="1.0"/>
<circle cx="800.8" cy="144.2" r="2.5" fill="#22d422"/>
<text x="800.8" y="153.6" font-size="3.9" fill="#333" text-anchor="middle">AX1.29</text>
<rect x="815.9" y="138.1" width="12.2" height="12.2" rx="1.8" fill="#fcdcc6" stroke="#ff6f66" stroke-width="1.0" stroke-dasharray="2.8,1.3"/>
<rect x="818.0" y="140.2" width="8.0" height="8.0" fill="#a6e6c8" stroke="#367565" stroke-width="1.0"/>
<circle cx="822.0" cy="144.2" r="2.5" fill="#22d422"/>
<text x="822.0" y="153.6" font-size="3.9" fill="#333" text-anchor="middle">AX1.30</text>
<rect x="837.2" y="138.1" width="12.2" height="12.2" rx="1.8" fill="#fcdcc6" stroke="#ff6f66" stroke-width="1.0" stroke-dasharray="2.8,1.3"/>
<rect x="839.3" y="140.2" width="8.0" height="8.0" fill="#a6e6c8" stroke="#367565" stroke-width="1.0"/>
<circle cx="843.3" cy="144.2" r="2.5" fill="#22d422"/>
<text x="843.3" y="153.6" font-size="3.9" fill="#333" text-anchor="middle">AX1.31</text>
<rect x="858.6" y="138.1" width="12.2" height="12.2" rx="1.8" fill="#fcdcc6" stroke="#ff6f66" stroke-width="1.0" stroke-dasharray="2.8,1.3"/>
<rect x="860.7" y="140.2" width="8.0" height="8.0" fill="#a6e6c8" stroke="#367565" stroke-width="1.0"/>
<circle cx="864.7" cy="144.2" r="2.5" fill="#22d422"/>
<text x="864.7" y="153.6" font-size="3.9" fill="#333" text-anchor="middle">AX1.32</text>
<rect x="879.7" y="138.1" width="12.2" height="12.2" rx="1.8" fill="#fcdcc6" stroke="#ff6f66" stroke-width="1.0" stroke-dasharray="2.8,1.3"/>
<rect x="881.8" y="140.2" width="8.0" height="8.0" fill="#a6e6c8" stroke="#367565" stroke-width="1.0"/>
<circle cx="885.8" cy="144.2" r="2.5" fill="#22d422"/>
<text x="885.8" y="153.6" font-size="3.9" fill="#333" text-anchor="middle">AX1.33</text>
<rect x="210.6" y="158.9" width="12.2" height="12.2" rx="1.8" fill="#fcdcc6" stroke="#ff6f66" stroke-width="1.0" stroke-dasharray="2.8,1.3"/>
<rect x="212.7" y="161.0" width="8.0" height="8.0" fill="#a6e6c8" stroke="#367565" stroke-width="1.0"/>
<circle cx="216.7" cy="165.0" r="2.4" fill="#eda22a" stroke="#d2691e" stroke-width="0.4"/>
<text x="216.7" y="174.4" font-size="3.9" fill="#333" text-anchor="middle">AX2.1</text>
<rect x="225.9" y="158.9" width="12.2" height="12.2" rx="1.8" fill="#fcdcc6" stroke="#ff6f66" stroke-width="1.0" stroke-dasharray="2.8,1.3"/>
<rect x="228.0" y="161.0" width="8.0" height="8.0" fill="#a6e6c8" stroke="#367565" stroke-width="1.0"/>
<circle cx="232.0" cy="165.0" r="2.4" fill="#eda22a" stroke="#d2691e" stroke-width="0.4"/>
<text x="232.0" y="174.4" font-size="3.9" fill="#333" text-anchor="middle">AX2.2</text>
<rect x="253.6" y="158.9" width="12.2" height="12.2" rx="1.8" fill="#fcdcc6" stroke="#ff6f66" stroke-width="1.0" stroke-dasharray="2.8,1.3"/>
<rect x="255.7" y="161.0" width="8.0" height="8.0" fill="#a6e6c8" stroke="#367565" stroke-width="1.0"/>
<circle cx="259.7" cy="165.0" r="2.4" fill="#eda22a" stroke="#d2691e" stroke-width="0.4"/>
<text x="259.7" y="174.4" font-size="3.9" fill="#333" text-anchor="middle">AX2.3</text>
<rect x="274.7" y="158.9" width="12.2" height="12.2" rx="1.8" fill="#fcdcc6" stroke="#ff6f66" stroke-width="1.0" stroke-dasharray="2.8,1.3"/>
<rect x="276.8" y="161.0" width="8.0" height="8.0" fill="#a6e6c8" stroke="#367565" stroke-width="1.0"/>
<circle cx="280.8" cy="165.0" r="2.4" fill="#eda22a" stroke="#d2691e" stroke-width="0.4"/>
<text x="280.8" y="174.4" font-size="3.9" fill="#333" text-anchor="middle">AX2.4</text>
<rect x="295.6" y="158.9" width="12.2" height="12.2" rx="1.8" fill="#fcdcc6" stroke="#ff6f66" stroke-width="1.0" stroke-dasharray="2.8,1.3"/>
<rect x="297.7" y="161.0" width="8.0" height="8.0" fill="#a6e6c8" stroke="#367565" stroke-width="1.0"/>
<circle cx="301.7" cy="165.0" r="2.4" fill="#eda22a" stroke="#d2691e" stroke-width="0.4"/>
<text x="301.7" y="174.4" font-size="3.9" fill="#333" text-anchor="middle">AX2.5</text>
<rect x="316.9" y="158.9" width="12.2" height="12.2" rx="1.8" fill="#fcdcc6" stroke="#ff6f66" stroke-width="1.0" stroke-dasharray="2.8,1.3"/>
<rect x="319.0" y="161.0" width="8.0" height="8.0" fill="#a6e6c8" stroke="#367565" stroke-width="1.0"/>
<circle cx="323.0" cy="165.0" r="2.4" fill="#eda22a" stroke="#d2691e" stroke-width="0.4"/>
<text x="323.0" y="174.4" font-size="3.9" fill="#333" text-anchor="middle">AX2.6</text>
<rect x="338.1" y="158.9" width="12.2" height="12.2" rx="1.8" fill="#fcdcc6" stroke="#ff6f66" stroke-width="1.0" stroke-dasharray="2.8,1.3"/>
<rect x="340.2" y="161.0" width="8.0" height="8.0" fill="#a6e6c8" stroke="#367565" stroke-width="1.0"/>
<circle cx="344.2" cy="165.0" r="2.4" fill="#eda22a" stroke="#d2691e" stroke-width="0.4"/>
<text x="344.2" y="174.4" font-size="3.9" fill="#333" text-anchor="middle">AX2.7</text>
<rect x="359.7" y="158.9" width="12.2" height="12.2" rx="1.8" fill="#fcdcc6" stroke="#ff6f66" stroke-width="1.0" stroke-dasharray="2.8,1.3"/>
<rect x="361.8" y="161.0" width="8.0" height="8.0" fill="#a6e6c8" stroke="#367565" stroke-width="1.0"/>
<circle cx="365.8" cy="165.0" r="2.4" fill="#eda22a" stroke="#d2691e" stroke-width="0.4"/>
<text x="365.8" y="174.4" font-size="3.9" fill="#333" text-anchor="middle">AX2.8</text>
<rect x="380.6" y="158.9" width="12.2" height="12.2" rx="1.8" fill="#fcdcc6" stroke="#ff6f66" stroke-width="1.0" stroke-dasharray="2.8,1.3"/>
<rect x="382.7" y="161.0" width="8.0" height="8.0" fill="#a6e6c8" stroke="#367565" stroke-width="1.0"/>
<circle cx="386.7" cy="165.0" r="2.4" fill="#eda22a" stroke="#d2691e" stroke-width="0.4"/>
<text x="386.7" y="174.4" font-size="3.9" fill="#333" text-anchor="middle">AX2.9</text>
<rect x="401.9" y="158.9" width="12.2" height="12.2" rx="1.8" fill="#fcdcc6" stroke="#ff6f66" stroke-width="1.0" stroke-dasharray="2.8,1.3"/>
<rect x="404.0" y="161.0" width="8.0" height="8.0" fill="#a6e6c8" stroke="#367565" stroke-width="1.0"/>
<circle cx="408.0" cy="165.0" r="2.4" fill="#eda22a" stroke="#d2691e" stroke-width="0.4"/>
<text x="408.0" y="174.4" font-size="3.9" fill="#333" text-anchor="middle">AX2.10</text>
<rect x="423.1" y="158.9" width="12.2" height="12.2" rx="1.8" fill="#fcdcc6" stroke="#ff6f66" stroke-width="1.0" stroke-dasharray="2.8,1.3"/>
<rect x="425.2" y="161.0" width="8.0" height="8.0" fill="#a6e6c8" stroke="#367565" stroke-width="1.0"/>
<circle cx="429.2" cy="165.0" r="2.4" fill="#eda22a" stroke="#d2691e" stroke-width="0.4"/>
<text x="429.2" y="174.4" font-size="3.9" fill="#333" text-anchor="middle">AX2.11</text>
<rect x="444.4" y="158.9" width="12.2" height="12.2" rx="1.8" fill="#fcdcc6" stroke="#ff6f66" stroke-width="1.0" stroke-dasharray="2.8,1.3"/>
<rect x="446.5" y="161.0" width="8.0" height="8.0" fill="#a6e6c8" stroke="#367565" stroke-width="1.0"/>
<circle cx="450.5" cy="165.0" r="2.4" fill="#eda22a" stroke="#d2691e" stroke-width="0.4"/>
<text x="450.5" y="174.4" font-size="3.9" fill="#333" text-anchor="middle">AX2.12</text>
<rect x="465.6" y="158.9" width="12.2" height="12.2" rx="1.8" fill="#fcdcc6" stroke="#ff6f66" stroke-width="1.0" stroke-dasharray="2.8,1.3"/>
<rect x="467.7" y="161.0" width="8.0" height="8.0" fill="#a6e6c8" stroke="#367565" stroke-width="1.0"/>
<circle cx="471.7" cy="165.0" r="2.4" fill="#eda22a" stroke="#d2691e" stroke-width="0.4"/>
<text x="471.7" y="174.4" font-size="3.9" fill="#333" text-anchor="middle">AX2.13</text>
<rect x="486.9" y="158.9" width="12.2" height="12.2" rx="1.8" fill="#fcdcc6" stroke="#ff6f66" stroke-width="1.0" stroke-dasharray="2.8,1.3"/>
<rect x="489.0" y="161.0" width="8.0" height="8.0" fill="#a6e6c8" stroke="#367565" stroke-width="1.0"/>
<circle cx="493.0" cy="165.0" r="2.4" fill="#eda22a" stroke="#d2691e" stroke-width="0.4"/>
<text x="493.0" y="174.4" font-size="3.9" fill="#333" text-anchor="middle">AX2.14</text>
<rect x="504.7" y="158.9" width="12.2" height="12.2" rx="1.8" fill="#fcdcc6" stroke="#ff6f66" stroke-width="1.0" stroke-dasharray="2.8,1.3"/>
<rect x="506.8" y="161.0" width="8.0" height="8.0" fill="#a6e6c8" stroke="#367565" stroke-width="1.0"/>
<circle cx="510.8" cy="165.0" r="2.4" fill="#eda22a" stroke="#d2691e" stroke-width="0.4"/>
<text x="510.8" y="174.4" font-size="3.9" fill="#333" text-anchor="middle">AX2.15</text>
<rect x="528.9" y="158.9" width="12.2" height="12.2" rx="1.8" fill="#fcdcc6" stroke="#ff6f66" stroke-width="1.0" stroke-dasharray="2.8,1.3"/>
<rect x="531.0" y="161.0" width="8.0" height="8.0" fill="#a6e6c8" stroke="#367565" stroke-width="1.0"/>
<circle cx="535.0" cy="165.0" r="2.4" fill="#eda22a" stroke="#d2691e" stroke-width="0.4"/>
<text x="535.0" y="174.4" font-size="3.9" fill="#333" text-anchor="middle">AX2.16</text>
<rect x="550.6" y="158.9" width="12.2" height="12.2" rx="1.8" fill="#fcdcc6" stroke="#ff6f66" stroke-width="1.0" stroke-dasharray="2.8,1.3"/>
<rect x="552.7" y="161.0" width="8.0" height="8.0" fill="#a6e6c8" stroke="#367565" stroke-width="1.0"/>
<circle cx="556.7" cy="165.0" r="2.4" fill="#eda22a" stroke="#d2691e" stroke-width="0.4"/>
<text x="556.7" y="174.4" font-size="3.9" fill="#333" text-anchor="middle">AX2.17</text>
<rect x="571.9" y="158.9" width="12.2" height="12.2" rx="1.8" fill="#fcdcc6" stroke="#ff6f66" stroke-width="1.0" stroke-dasharray="2.8,1.3"/>
<rect x="574.0" y="161.0" width="8.0" height="8.0" fill="#a6e6c8" stroke="#367565" stroke-width="1.0"/>
<circle cx="578.0" cy="165.0" r="2.4" fill="#eda22a" stroke="#d2691e" stroke-width="0.4"/>
<text x="578.0" y="174.4" font-size="3.9" fill="#333" text-anchor="middle">AX2.18</text>
<rect x="593.1" y="158.9" width="12.2" height="12.2" rx="1.8" fill="#fcdcc6" stroke="#ff6f66" stroke-width="1.0" stroke-dasharray="2.8,1.3"/>
<rect x="595.2" y="161.0" width="8.0" height="8.0" fill="#a6e6c8" stroke="#367565" stroke-width="1.0"/>
<circle cx="599.2" cy="165.0" r="2.4" fill="#eda22a" stroke="#d2691e" stroke-width="0.4"/>
<text x="599.2" y="174.4" font-size="3.9" fill="#333" text-anchor="middle">AX2.19</text>
<rect x="614.4" y="158.9" width="12.2" height="12.2" rx="1.8" fill="#fcdcc6" stroke="#ff6f66" stroke-width="1.0" stroke-dasharray="2.8,1.3"/>
<rect x="616.5" y="161.0" width="8.0" height="8.0" fill="#a6e6c8" stroke="#367565" stroke-width="1.0"/>
<circle cx="620.5" cy="165.0" r="2.4" fill="#eda22a" stroke="#d2691e" stroke-width="0.4"/>
<text x="620.5" y="174.4" font-size="3.9" fill="#333" text-anchor="middle">AX2.20</text>
<rect x="635.6" y="158.9" width="12.2" height="12.2" rx="1.8" fill="#fcdcc6" stroke="#ff6f66" stroke-width="1.0" stroke-dasharray="2.8,1.3"/>
<rect x="637.7" y="161.0" width="8.0" height="8.0" fill="#a6e6c8" stroke="#367565" stroke-width="1.0"/>
<circle cx="641.7" cy="165.0" r="2.4" fill="#eda22a" stroke="#d2691e" stroke-width="0.4"/>
<text x="641.7" y="174.4" font-size="3.9" fill="#333" text-anchor="middle">AX2.21</text>
<rect x="656.9" y="158.9" width="12.2" height="12.2" rx="1.8" fill="#fcdcc6" stroke="#ff6f66" stroke-width="1.0" stroke-dasharray="2.8,1.3"/>
<rect x="659.0" y="161.0" width="8.0" height="8.0" fill="#a6e6c8" stroke="#367565" stroke-width="1.0"/>
<circle cx="663.0" cy="165.0" r="2.4" fill="#eda22a" stroke="#d2691e" stroke-width="0.4"/>
<text x="663.0" y="174.4" font-size="3.9" fill="#333" text-anchor="middle">AX2.22</text>
<rect x="678.1" y="158.9" width="12.2" height="12.2" rx="1.8" fill="#fcdcc6" stroke="#ff6f66" stroke-width="1.0" stroke-dasharray="2.8,1.3"/>
<rect x="680.2" y="161.0" width="8.0" height="8.0" fill="#a6e6c8" stroke="#367565" stroke-width="1.0"/>
<circle cx="684.2" cy="165.0" r="2.4" fill="#eda22a" stroke="#d2691e" stroke-width="0.4"/>
<text x="684.2" y="174.4" font-size="3.9" fill="#333" text-anchor="middle">AX2.23</text>
<rect x="699.4" y="158.9" width="12.2" height="12.2" rx="1.8" fill="#fcdcc6" stroke="#ff6f66" stroke-width="1.0" stroke-dasharray="2.8,1.3"/>
<rect x="701.5" y="161.0" width="8.0" height="8.0" fill="#a6e6c8" stroke="#367565" stroke-width="1.0"/>
<circle cx="705.5" cy="165.0" r="2.4" fill="#eda22a" stroke="#d2691e" stroke-width="0.4"/>
<text x="705.5" y="174.4" font-size="3.9" fill="#333" text-anchor="middle">AX2.24</text>
<rect x="720.6" y="158.9" width="12.2" height="12.2" rx="1.8" fill="#fcdcc6" stroke="#ff6f66" stroke-width="1.0" stroke-dasharray="2.8,1.3"/>
<rect x="722.7" y="161.0" width="8.0" height="8.0" fill="#a6e6c8" stroke="#367565" stroke-width="1.0"/>
<circle cx="726.7" cy="165.0" r="2.4" fill="#eda22a" stroke="#d2691e" stroke-width="0.4"/>
<text x="726.7" y="174.4" font-size="3.9" fill="#333" text-anchor="middle">AX2.25</text>
<rect x="741.7" y="158.9" width="12.2" height="12.2" rx="1.8" fill="#fcdcc6" stroke="#ff6f66" stroke-width="1.0" stroke-dasharray="2.8,1.3"/>
<rect x="743.8" y="161.0" width="8.0" height="8.0" fill="#a6e6c8" stroke="#367565" stroke-width="1.0"/>
<circle cx="747.8" cy="165.0" r="2.4" fill="#eda22a" stroke="#d2691e" stroke-width="0.4"/>
<text x="747.8" y="174.4" font-size="3.9" fill="#333" text-anchor="middle">AX2.26</text>
<rect x="763.1" y="158.9" width="12.2" height="12.2" rx="1.8" fill="#fcdcc6" stroke="#ff6f66" stroke-width="1.0" stroke-dasharray="2.8,1.3"/>
<rect x="765.2" y="161.0" width="8.0" height="8.0" fill="#a6e6c8" stroke="#367565" stroke-width="1.0"/>
<circle cx="769.2" cy="165.0" r="2.4" fill="#eda22a" stroke="#d2691e" stroke-width="0.4"/>
<text x="769.2" y="174.4" font-size="3.9" fill="#333" text-anchor="middle">AX2.27</text>
<rect x="791.1" y="158.9" width="12.2" height="12.2" rx="1.8" fill="#fcdcc6" stroke="#ff6f66" stroke-width="1.0" stroke-dasharray="2.8,1.3"/>
<rect x="793.2" y="161.0" width="8.0" height="8.0" fill="#a6e6c8" stroke="#367565" stroke-width="1.0"/>
<circle cx="797.2" cy="165.0" r="2.4" fill="#eda22a" stroke="#d2691e" stroke-width="0.4"/>
<text x="797.2" y="174.4" font-size="3.9" fill="#333" text-anchor="middle">AX2.28</text>
<rect x="805.2" y="158.9" width="12.2" height="12.2" rx="1.8" fill="#fcdcc6" stroke="#ff6f66" stroke-width="1.0" stroke-dasharray="2.8,1.3"/>
<rect x="807.3" y="161.0" width="8.0" height="8.0" fill="#a6e6c8" stroke="#367565" stroke-width="1.0"/>
<circle cx="811.3" cy="165.0" r="2.4" fill="#eda22a" stroke="#d2691e" stroke-width="0.4"/>
<text x="811.3" y="174.4" font-size="3.9" fill="#333" text-anchor="middle">AX2.29</text>
<rect x="826.9" y="158.9" width="12.2" height="12.2" rx="1.8" fill="#fcdcc6" stroke="#ff6f66" stroke-width="1.0" stroke-dasharray="2.8,1.3"/>
<rect x="829.0" y="161.0" width="8.0" height="8.0" fill="#a6e6c8" stroke="#367565" stroke-width="1.0"/>
<circle cx="833.0" cy="165.0" r="2.4" fill="#eda22a" stroke="#d2691e" stroke-width="0.4"/>
<text x="833.0" y="174.4" font-size="3.9" fill="#333" text-anchor="middle">AX2.30</text>
<rect x="848.1" y="158.9" width="12.2" height="12.2" rx="1.8" fill="#fcdcc6" stroke="#ff6f66" stroke-width="1.0" stroke-dasharray="2.8,1.3"/>
<rect x="850.2" y="161.0" width="8.0" height="8.0" fill="#a6e6c8" stroke="#367565" stroke-width="1.0"/>
<circle cx="854.2" cy="165.0" r="2.4" fill="#eda22a" stroke="#d2691e" stroke-width="0.4"/>
<text x="854.2" y="174.4" font-size="3.9" fill="#333" text-anchor="middle">AX2.31</text>
<rect x="869.2" y="158.9" width="12.2" height="12.2" rx="1.8" fill="#fcdcc6" stroke="#ff6f66" stroke-width="1.0" stroke-dasharray="2.8,1.3"/>
<rect x="871.3" y="161.0" width="8.0" height="8.0" fill="#a6e6c8" stroke="#367565" stroke-width="1.0"/>
<circle cx="875.3" cy="165.0" r="2.4" fill="#eda22a" stroke="#d2691e" stroke-width="0.4"/>
<text x="875.3" y="174.4" font-size="3.9" fill="#333" text-anchor="middle">AX2.32</text>
<rect x="889.7" y="158.9" width="12.2" height="12.2" rx="1.8" fill="#fcdcc6" stroke="#ff6f66" stroke-width="1.0" stroke-dasharray="2.8,1.3"/>
<rect x="891.8" y="161.0" width="8.0" height="8.0" fill="#a6e6c8" stroke="#367565" stroke-width="1.0"/>
<circle cx="895.8" cy="165.0" r="2.4" fill="#eda22a" stroke="#d2691e" stroke-width="0.4"/>
<text x="895.8" y="174.4" font-size="3.9" fill="#333" text-anchor="middle">AX2.33</text>
<rect x="199.7" y="183.9" width="12.2" height="12.2" rx="1.8" fill="#fcdcc6" stroke="#ff6f66" stroke-width="1.0" stroke-dasharray="2.8,1.3"/>
<rect x="201.8" y="186.0" width="8.0" height="8.0" fill="#a6e6c8" stroke="#367565" stroke-width="1.0"/>
<circle cx="205.8" cy="190.0" r="2.1" fill="#f4b8f0" stroke="#e020e0" stroke-width="1.2"/>
<text x="205.8" y="199.4" font-size="3.9" fill="#333" text-anchor="middle">AX6.1</text>
<rect x="220.6" y="183.9" width="12.2" height="12.2" rx="1.8" fill="#fcdcc6" stroke="#ff6f66" stroke-width="1.0" stroke-dasharray="2.8,1.3"/>
<rect x="222.7" y="186.0" width="8.0" height="8.0" fill="#a6e6c8" stroke="#367565" stroke-width="1.0"/>
<circle cx="226.7" cy="190.0" r="2.1" fill="#f4b8f0" stroke="#e020e0" stroke-width="1.2"/>
<text x="226.7" y="199.4" font-size="3.9" fill="#333" text-anchor="middle">AX6.2</text>
<rect x="248.4" y="183.9" width="12.2" height="12.2" rx="1.8" fill="#fcdcc6" stroke="#ff6f66" stroke-width="1.0" stroke-dasharray="2.8,1.3"/>
<rect x="250.5" y="186.0" width="8.0" height="8.0" fill="#a6e6c8" stroke="#367565" stroke-width="1.0"/>
<circle cx="254.5" cy="190.0" r="2.1" fill="#f4b8f0" stroke="#e020e0" stroke-width="1.2"/>
<text x="254.5" y="199.4" font-size="3.9" fill="#333" text-anchor="middle">AX6.3</text>
<rect x="276.7" y="183.9" width="12.2" height="12.2" rx="1.8" fill="#fcdcc6" stroke="#ff6f66" stroke-width="1.0" stroke-dasharray="2.8,1.3"/>
<rect x="278.8" y="186.0" width="8.0" height="8.0" fill="#a6e6c8" stroke="#367565" stroke-width="1.0"/>
<circle cx="282.8" cy="190.0" r="2.1" fill="#f4b8f0" stroke="#e020e0" stroke-width="1.2"/>
<text x="282.8" y="199.4" font-size="3.9" fill="#333" text-anchor="middle">AX6.4</text>
<rect x="305.1" y="183.9" width="12.2" height="12.2" rx="1.8" fill="#fcdcc6" stroke="#ff6f66" stroke-width="1.0" stroke-dasharray="2.8,1.3"/>
<rect x="307.2" y="186.0" width="8.0" height="8.0" fill="#a6e6c8" stroke="#367565" stroke-width="1.0"/>
<circle cx="311.2" cy="190.0" r="2.1" fill="#f4b8f0" stroke="#e020e0" stroke-width="1.2"/>
<text x="311.2" y="199.4" font-size="3.9" fill="#333" text-anchor="middle">AX6.5</text>
<rect x="333.4" y="183.9" width="12.2" height="12.2" rx="1.8" fill="#fcdcc6" stroke="#ff6f66" stroke-width="1.0" stroke-dasharray="2.8,1.3"/>
<rect x="335.5" y="186.0" width="8.0" height="8.0" fill="#a6e6c8" stroke="#367565" stroke-width="1.0"/>
<circle cx="339.5" cy="190.0" r="2.1" fill="#f4b8f0" stroke="#e020e0" stroke-width="1.2"/>
<text x="339.5" y="199.4" font-size="3.9" fill="#333" text-anchor="middle">AX6.6</text>
<rect x="361.9" y="183.9" width="12.2" height="12.2" rx="1.8" fill="#fcdcc6" stroke="#ff6f66" stroke-width="1.0" stroke-dasharray="2.8,1.3"/>
<rect x="364.0" y="186.0" width="8.0" height="8.0" fill="#a6e6c8" stroke="#367565" stroke-width="1.0"/>
<circle cx="368.0" cy="190.0" r="2.1" fill="#f4b8f0" stroke="#e020e0" stroke-width="1.2"/>
<text x="368.0" y="199.4" font-size="3.9" fill="#333" text-anchor="middle">AX6.7</text>
<rect x="389.7" y="183.9" width="12.2" height="12.2" rx="1.8" fill="#fcdcc6" stroke="#ff6f66" stroke-width="1.0" stroke-dasharray="2.8,1.3"/>
<rect x="391.8" y="186.0" width="8.0" height="8.0" fill="#a6e6c8" stroke="#367565" stroke-width="1.0"/>
<circle cx="395.8" cy="190.0" r="2.1" fill="#f4b8f0" stroke="#e020e0" stroke-width="1.2"/>
<text x="395.8" y="199.4" font-size="3.9" fill="#333" text-anchor="middle">AX6.8</text>
<rect x="418.1" y="183.9" width="12.2" height="12.2" rx="1.8" fill="#fcdcc6" stroke="#ff6f66" stroke-width="1.0" stroke-dasharray="2.8,1.3"/>
<rect x="420.2" y="186.0" width="8.0" height="8.0" fill="#a6e6c8" stroke="#367565" stroke-width="1.0"/>
<circle cx="424.2" cy="190.0" r="2.1" fill="#f4b8f0" stroke="#e020e0" stroke-width="1.2"/>
<text x="415.2" y="187.3" font-size="3.9" fill="#333" text-anchor="middle">AX6.9</text>
<rect x="446.4" y="183.9" width="12.2" height="12.2" rx="1.8" fill="#fcdcc6" stroke="#ff6f66" stroke-width="1.0" stroke-dasharray="2.8,1.3"/>
<rect x="448.5" y="186.0" width="8.0" height="8.0" fill="#a6e6c8" stroke="#367565" stroke-width="1.0"/>
<circle cx="452.5" cy="190.0" r="2.1" fill="#f4b8f0" stroke="#e020e0" stroke-width="1.2"/>
<text x="443.5" y="187.3" font-size="3.9" fill="#333" text-anchor="middle">AX6.10</text>
<rect x="474.7" y="183.9" width="12.2" height="12.2" rx="1.8" fill="#fcdcc6" stroke="#ff6f66" stroke-width="1.0" stroke-dasharray="2.8,1.3"/>
<rect x="476.8" y="186.0" width="8.0" height="8.0" fill="#a6e6c8" stroke="#367565" stroke-width="1.0"/>
<circle cx="480.8" cy="190.0" r="2.1" fill="#f4b8f0" stroke="#e020e0" stroke-width="1.2"/>
<text x="471.8" y="187.3" font-size="3.9" fill="#333" text-anchor="middle">AX6.11</text>
<rect x="503.1" y="183.9" width="12.2" height="12.2" rx="1.8" fill="#fcdcc6" stroke="#ff6f66" stroke-width="1.0" stroke-dasharray="2.8,1.3"/>
<rect x="505.2" y="186.0" width="8.0" height="8.0" fill="#a6e6c8" stroke="#367565" stroke-width="1.0"/>
<circle cx="509.2" cy="190.0" r="2.1" fill="#f4b8f0" stroke="#e020e0" stroke-width="1.2"/>
<text x="509.2" y="199.4" font-size="3.9" fill="#333" text-anchor="middle">AX6.12</text>
<rect x="530.6" y="183.9" width="12.2" height="12.2" rx="1.8" fill="#fcdcc6" stroke="#ff6f66" stroke-width="1.0" stroke-dasharray="2.8,1.3"/>
<rect x="532.7" y="186.0" width="8.0" height="8.0" fill="#a6e6c8" stroke="#367565" stroke-width="1.0"/>
<circle cx="536.7" cy="190.0" r="2.1" fill="#f4b8f0" stroke="#e020e0" stroke-width="1.2"/>
<text x="536.7" y="199.4" font-size="3.9" fill="#333" text-anchor="middle">AX6.13</text>
<rect x="559.7" y="183.9" width="12.2" height="12.2" rx="1.8" fill="#fcdcc6" stroke="#ff6f66" stroke-width="1.0" stroke-dasharray="2.8,1.3"/>
<rect x="561.8" y="186.0" width="8.0" height="8.0" fill="#a6e6c8" stroke="#367565" stroke-width="1.0"/>
<circle cx="565.8" cy="190.0" r="2.1" fill="#f4b8f0" stroke="#e020e0" stroke-width="1.2"/>
<text x="565.8" y="199.4" font-size="3.9" fill="#333" text-anchor="middle">AX6.14</text>
<rect x="588.1" y="183.9" width="12.2" height="12.2" rx="1.8" fill="#fcdcc6" stroke="#ff6f66" stroke-width="1.0" stroke-dasharray="2.8,1.3"/>
<rect x="590.2" y="186.0" width="8.0" height="8.0" fill="#a6e6c8" stroke="#367565" stroke-width="1.0"/>
<circle cx="594.2" cy="190.0" r="2.1" fill="#f4b8f0" stroke="#e020e0" stroke-width="1.2"/>
<text x="594.2" y="199.4" font-size="3.9" fill="#333" text-anchor="middle">AX6.15</text>
<rect x="616.4" y="183.9" width="12.2" height="12.2" rx="1.8" fill="#fcdcc6" stroke="#ff6f66" stroke-width="1.0" stroke-dasharray="2.8,1.3"/>
<rect x="618.5" y="186.0" width="8.0" height="8.0" fill="#a6e6c8" stroke="#367565" stroke-width="1.0"/>
<circle cx="622.5" cy="190.0" r="2.1" fill="#f4b8f0" stroke="#e020e0" stroke-width="1.2"/>
<text x="622.5" y="199.4" font-size="3.9" fill="#333" text-anchor="middle">AX6.16</text>
<rect x="644.7" y="183.9" width="12.2" height="12.2" rx="1.8" fill="#fcdcc6" stroke="#ff6f66" stroke-width="1.0" stroke-dasharray="2.8,1.3"/>
<rect x="646.8" y="186.0" width="8.0" height="8.0" fill="#a6e6c8" stroke="#367565" stroke-width="1.0"/>
<circle cx="650.8" cy="190.0" r="2.1" fill="#f4b8f0" stroke="#e020e0" stroke-width="1.2"/>
<text x="650.8" y="199.4" font-size="3.9" fill="#333" text-anchor="middle">AX6.17</text>
<rect x="673.1" y="183.9" width="12.2" height="12.2" rx="1.8" fill="#fcdcc6" stroke="#ff6f66" stroke-width="1.0" stroke-dasharray="2.8,1.3"/>
<rect x="675.2" y="186.0" width="8.0" height="8.0" fill="#a6e6c8" stroke="#367565" stroke-width="1.0"/>
<circle cx="679.2" cy="190.0" r="2.1" fill="#f4b8f0" stroke="#e020e0" stroke-width="1.2"/>
<text x="679.2" y="199.4" font-size="3.9" fill="#333" text-anchor="middle">AX6.18</text>
<rect x="701.4" y="183.9" width="12.2" height="12.2" rx="1.8" fill="#fcdcc6" stroke="#ff6f66" stroke-width="1.0" stroke-dasharray="2.8,1.3"/>
<rect x="703.5" y="186.0" width="8.0" height="8.0" fill="#a6e6c8" stroke="#367565" stroke-width="1.0"/>
<circle cx="707.5" cy="190.0" r="2.1" fill="#f4b8f0" stroke="#e020e0" stroke-width="1.2"/>
<text x="707.5" y="199.4" font-size="3.9" fill="#333" text-anchor="middle">AX6.19</text>
<rect x="730.1" y="183.9" width="12.2" height="12.2" rx="1.8" fill="#fcdcc6" stroke="#ff6f66" stroke-width="1.0" stroke-dasharray="2.8,1.3"/>
<rect x="732.2" y="186.0" width="8.0" height="8.0" fill="#a6e6c8" stroke="#367565" stroke-width="1.0"/>
<circle cx="736.2" cy="190.0" r="2.1" fill="#f4b8f0" stroke="#e020e0" stroke-width="1.2"/>
<text x="736.2" y="199.4" font-size="3.9" fill="#333" text-anchor="middle">AX6.20</text>
<rect x="758.1" y="183.9" width="12.2" height="12.2" rx="1.8" fill="#fcdcc6" stroke="#ff6f66" stroke-width="1.0" stroke-dasharray="2.8,1.3"/>
<rect x="760.2" y="186.0" width="8.0" height="8.0" fill="#a6e6c8" stroke="#367565" stroke-width="1.0"/>
<circle cx="764.2" cy="190.0" r="2.1" fill="#f4b8f0" stroke="#e020e0" stroke-width="1.2"/>
<text x="764.2" y="199.4" font-size="3.9" fill="#333" text-anchor="middle">AX6.21</text>
<rect x="789.7" y="183.9" width="12.2" height="12.2" rx="1.8" fill="#fcdcc6" stroke="#ff6f66" stroke-width="1.0" stroke-dasharray="2.8,1.3"/>
<rect x="791.8" y="186.0" width="8.0" height="8.0" fill="#a6e6c8" stroke="#367565" stroke-width="1.0"/>
<circle cx="795.8" cy="190.0" r="2.1" fill="#f4b8f0" stroke="#e020e0" stroke-width="1.2"/>
<text x="795.8" y="199.4" font-size="3.9" fill="#333" text-anchor="middle">AX6.22</text>
<rect x="814.7" y="183.9" width="12.2" height="12.2" rx="1.8" fill="#fcdcc6" stroke="#ff6f66" stroke-width="1.0" stroke-dasharray="2.8,1.3"/>
<rect x="816.8" y="186.0" width="8.0" height="8.0" fill="#a6e6c8" stroke="#367565" stroke-width="1.0"/>
<circle cx="820.8" cy="190.0" r="2.1" fill="#f4b8f0" stroke="#e020e0" stroke-width="1.2"/>
<text x="820.8" y="199.4" font-size="3.9" fill="#333" text-anchor="middle">AX6.23</text>
<rect x="840.6" y="183.9" width="12.2" height="12.2" rx="1.8" fill="#fcdcc6" stroke="#ff6f66" stroke-width="1.0" stroke-dasharray="2.8,1.3"/>
<rect x="842.7" y="186.0" width="8.0" height="8.0" fill="#a6e6c8" stroke="#367565" stroke-width="1.0"/>
<circle cx="846.7" cy="190.0" r="2.1" fill="#f4b8f0" stroke="#e020e0" stroke-width="1.2"/>
<text x="846.7" y="199.4" font-size="3.9" fill="#333" text-anchor="middle">AX6.24</text>
<rect x="861.9" y="183.9" width="12.2" height="12.2" rx="1.8" fill="#fcdcc6" stroke="#ff6f66" stroke-width="1.0" stroke-dasharray="2.8,1.3"/>
<rect x="864.0" y="186.0" width="8.0" height="8.0" fill="#a6e6c8" stroke="#367565" stroke-width="1.0"/>
<circle cx="868.0" cy="190.0" r="2.1" fill="#f4b8f0" stroke="#e020e0" stroke-width="1.2"/>
<text x="868.0" y="199.4" font-size="3.9" fill="#333" text-anchor="middle">AX6.25</text>
<rect x="883.1" y="183.9" width="12.2" height="12.2" rx="1.8" fill="#fcdcc6" stroke="#ff6f66" stroke-width="1.0" stroke-dasharray="2.8,1.3"/>
<rect x="885.2" y="186.0" width="8.0" height="8.0" fill="#a6e6c8" stroke="#367565" stroke-width="1.0"/>
<circle cx="889.2" cy="190.0" r="2.1" fill="#f4b8f0" stroke="#e020e0" stroke-width="1.2"/>
<text x="889.2" y="199.4" font-size="3.9" fill="#333" text-anchor="middle">AX6.26</text>
<rect x="209.7" y="201.4" width="12.2" height="12.2" rx="1.8" fill="#fcdcc6" stroke="#ff6f66" stroke-width="1.0" stroke-dasharray="2.8,1.3"/>
<rect x="211.8" y="203.5" width="8.0" height="8.0" fill="#a6e6c8" stroke="#367565" stroke-width="1.0"/>
<circle cx="215.8" cy="207.5" r="2.1" fill="#f4b8f0" stroke="#e020e0" stroke-width="1.2"/>
<text x="215.8" y="216.9" font-size="3.9" fill="#333" text-anchor="middle">AX7.1</text>
<rect x="227.2" y="201.4" width="12.2" height="12.2" rx="1.8" fill="#fcdcc6" stroke="#ff6f66" stroke-width="1.0" stroke-dasharray="2.8,1.3"/>
<rect x="229.3" y="203.5" width="8.0" height="8.0" fill="#a6e6c8" stroke="#367565" stroke-width="1.0"/>
<circle cx="233.3" cy="207.5" r="2.1" fill="#f4b8f0" stroke="#e020e0" stroke-width="1.2"/>
<text x="233.3" y="216.9" font-size="3.9" fill="#333" text-anchor="middle">AX7.2</text>
<rect x="262.7" y="201.4" width="12.2" height="12.2" rx="1.8" fill="#fcdcc6" stroke="#ff6f66" stroke-width="1.0" stroke-dasharray="2.8,1.3"/>
<rect x="264.8" y="203.5" width="8.0" height="8.0" fill="#a6e6c8" stroke="#367565" stroke-width="1.0"/>
<circle cx="268.8" cy="207.5" r="2" fill="none" stroke="#b8642c" stroke-width="0.8"/>
<text x="268.8" y="216.9" font-size="3.9" fill="#333" text-anchor="middle">AX7.3</text>
<rect x="291.1" y="201.4" width="12.2" height="12.2" rx="1.8" fill="#fcdcc6" stroke="#ff6f66" stroke-width="1.0" stroke-dasharray="2.8,1.3"/>
<rect x="293.2" y="203.5" width="8.0" height="8.0" fill="#a6e6c8" stroke="#367565" stroke-width="1.0"/>
<circle cx="297.2" cy="207.5" r="2" fill="none" stroke="#b8642c" stroke-width="0.8"/>
<text x="297.2" y="216.9" font-size="3.9" fill="#333" text-anchor="middle">AX7.4</text>
<rect x="319.2" y="201.4" width="12.2" height="12.2" rx="1.8" fill="#fcdcc6" stroke="#ff6f66" stroke-width="1.0" stroke-dasharray="2.8,1.3"/>
<rect x="321.3" y="203.5" width="8.0" height="8.0" fill="#a6e6c8" stroke="#367565" stroke-width="1.0"/>
<circle cx="325.3" cy="207.5" r="2" fill="none" stroke="#b8642c" stroke-width="0.8"/>
<text x="325.3" y="216.9" font-size="3.9" fill="#333" text-anchor="middle">AX7.5</text>
<rect x="347.7" y="201.4" width="12.2" height="12.2" rx="1.8" fill="#fcdcc6" stroke="#ff6f66" stroke-width="1.0" stroke-dasharray="2.8,1.3"/>
<rect x="349.8" y="203.5" width="8.0" height="8.0" fill="#a6e6c8" stroke="#367565" stroke-width="1.0"/>
<circle cx="353.8" cy="207.5" r="2" fill="none" stroke="#b8642c" stroke-width="0.8"/>
<text x="353.8" y="216.9" font-size="3.9" fill="#333" text-anchor="middle">AX7.6</text>
<rect x="375.6" y="201.4" width="12.2" height="12.2" rx="1.8" fill="#fcdcc6" stroke="#ff6f66" stroke-width="1.0" stroke-dasharray="2.8,1.3"/>
<rect x="377.7" y="203.5" width="8.0" height="8.0" fill="#a6e6c8" stroke="#367565" stroke-width="1.0"/>
<circle cx="381.7" cy="207.5" r="2" fill="none" stroke="#b8642c" stroke-width="0.8"/>
<text x="381.7" y="216.9" font-size="3.9" fill="#333" text-anchor="middle">AX7.7</text>
<rect x="403.9" y="201.4" width="12.2" height="12.2" rx="1.8" fill="#fcdcc6" stroke="#ff6f66" stroke-width="1.0" stroke-dasharray="2.8,1.3"/>
<rect x="406.0" y="203.5" width="8.0" height="8.0" fill="#a6e6c8" stroke="#367565" stroke-width="1.0"/>
<circle cx="410.0" cy="207.5" r="2" fill="none" stroke="#b8642c" stroke-width="0.8"/>
<text x="410.0" y="216.9" font-size="3.9" fill="#333" text-anchor="middle">AX7.8</text>
<rect x="432.2" y="201.4" width="12.2" height="12.2" rx="1.8" fill="#fcdcc6" stroke="#ff6f66" stroke-width="1.0" stroke-dasharray="2.8,1.3"/>
<rect x="434.3" y="203.5" width="8.0" height="8.0" fill="#a6e6c8" stroke="#367565" stroke-width="1.0"/>
<circle cx="438.3" cy="207.5" r="2" fill="none" stroke="#b8642c" stroke-width="0.8"/>
<text x="438.3" y="216.9" font-size="3.9" fill="#333" text-anchor="middle">AX7.9</text>
<rect x="460.6" y="201.4" width="12.2" height="12.2" rx="1.8" fill="#fcdcc6" stroke="#ff6f66" stroke-width="1.0" stroke-dasharray="2.8,1.3"/>
<rect x="462.7" y="203.5" width="8.0" height="8.0" fill="#a6e6c8" stroke="#367565" stroke-width="1.0"/>
<circle cx="466.7" cy="207.5" r="2" fill="none" stroke="#b8642c" stroke-width="0.8"/>
<text x="466.7" y="216.9" font-size="3.9" fill="#333" text-anchor="middle">AX7.10</text>
<rect x="488.9" y="201.4" width="12.2" height="12.2" rx="1.8" fill="#fcdcc6" stroke="#ff6f66" stroke-width="1.0" stroke-dasharray="2.8,1.3"/>
<rect x="491.0" y="203.5" width="8.0" height="8.0" fill="#a6e6c8" stroke="#367565" stroke-width="1.0"/>
<circle cx="495.0" cy="207.5" r="2" fill="none" stroke="#b8642c" stroke-width="0.8"/>
<text x="495.0" y="216.9" font-size="3.9" fill="#333" text-anchor="middle">AX7.11</text>
<rect x="520.6" y="201.4" width="12.2" height="12.2" rx="1.8" fill="#fcdcc6" stroke="#ff6f66" stroke-width="1.0" stroke-dasharray="2.8,1.3"/>
<rect x="522.7" y="203.5" width="8.0" height="8.0" fill="#a6e6c8" stroke="#367565" stroke-width="1.0"/>
<circle cx="526.7" cy="207.5" r="2" fill="none" stroke="#b8642c" stroke-width="0.8"/>
<text x="526.7" y="216.9" font-size="3.9" fill="#333" text-anchor="middle">AX7.12</text>
<rect x="545.6" y="208.9" width="12.2" height="12.2" rx="1.8" fill="#fcdcc6" stroke="#ff6f66" stroke-width="1.0" stroke-dasharray="2.8,1.3"/>
<rect x="547.7" y="211.0" width="8.0" height="8.0" fill="#a6e6c8" stroke="#367565" stroke-width="1.0"/>
<circle cx="551.7" cy="215.0" r="2" fill="none" stroke="#b8642c" stroke-width="0.8"/>
<text x="551.7" y="224.4" font-size="3.9" fill="#333" text-anchor="middle">AX7.13</text>
<rect x="573.9" y="208.9" width="12.2" height="12.2" rx="1.8" fill="#fcdcc6" stroke="#ff6f66" stroke-width="1.0" stroke-dasharray="2.8,1.3"/>
<rect x="576.0" y="211.0" width="8.0" height="8.0" fill="#a6e6c8" stroke="#367565" stroke-width="1.0"/>
<circle cx="580.0" cy="215.0" r="2" fill="none" stroke="#b8642c" stroke-width="0.8"/>
<text x="580.0" y="224.4" font-size="3.9" fill="#333" text-anchor="middle">AX7.14</text>
<rect x="601.9" y="208.9" width="12.2" height="12.2" rx="1.8" fill="#fcdcc6" stroke="#ff6f66" stroke-width="1.0" stroke-dasharray="2.8,1.3"/>
<rect x="604.0" y="211.0" width="8.0" height="8.0" fill="#a6e6c8" stroke="#367565" stroke-width="1.0"/>
<circle cx="608.0" cy="215.0" r="2" fill="none" stroke="#b8642c" stroke-width="0.8"/>
<text x="608.0" y="224.4" font-size="3.9" fill="#333" text-anchor="middle">AX7.15</text>
<rect x="630.6" y="208.9" width="12.2" height="12.2" rx="1.8" fill="#fcdcc6" stroke="#ff6f66" stroke-width="1.0" stroke-dasharray="2.8,1.3"/>
<rect x="632.7" y="211.0" width="8.0" height="8.0" fill="#a6e6c8" stroke="#367565" stroke-width="1.0"/>
<circle cx="636.7" cy="215.0" r="2" fill="none" stroke="#b8642c" stroke-width="0.8"/>
<text x="636.7" y="224.4" font-size="3.9" fill="#333" text-anchor="middle">AX7.16</text>
<rect x="658.9" y="208.9" width="12.2" height="12.2" rx="1.8" fill="#fcdcc6" stroke="#ff6f66" stroke-width="1.0" stroke-dasharray="2.8,1.3"/>
<rect x="661.0" y="211.0" width="8.0" height="8.0" fill="#a6e6c8" stroke="#367565" stroke-width="1.0"/>
<circle cx="665.0" cy="215.0" r="2" fill="none" stroke="#b8642c" stroke-width="0.8"/>
<text x="665.0" y="224.4" font-size="3.9" fill="#333" text-anchor="middle">AX7.17</text>
<rect x="686.9" y="208.9" width="12.2" height="12.2" rx="1.8" fill="#fcdcc6" stroke="#ff6f66" stroke-width="1.0" stroke-dasharray="2.8,1.3"/>
<rect x="689.0" y="211.0" width="8.0" height="8.0" fill="#a6e6c8" stroke="#367565" stroke-width="1.0"/>
<circle cx="693.0" cy="215.0" r="2" fill="none" stroke="#b8642c" stroke-width="0.8"/>
<text x="693.0" y="224.4" font-size="3.9" fill="#333" text-anchor="middle">AX7.18</text>
<rect x="714.9" y="208.9" width="12.2" height="12.2" rx="1.8" fill="#fcdcc6" stroke="#ff6f66" stroke-width="1.0" stroke-dasharray="2.8,1.3"/>
<rect x="717.0" y="211.0" width="8.0" height="8.0" fill="#a6e6c8" stroke="#367565" stroke-width="1.0"/>
<circle cx="721.0" cy="215.0" r="2" fill="none" stroke="#b8642c" stroke-width="0.8"/>
<text x="721.0" y="224.4" font-size="3.9" fill="#333" text-anchor="middle">AX7.19</text>
<rect x="744.2" y="208.9" width="12.2" height="12.2" rx="1.8" fill="#fcdcc6" stroke="#ff6f66" stroke-width="1.0" stroke-dasharray="2.8,1.3"/>
<rect x="746.3" y="211.0" width="8.0" height="8.0" fill="#a6e6c8" stroke="#367565" stroke-width="1.0"/>
<circle cx="750.3" cy="215.0" r="2" fill="none" stroke="#b8642c" stroke-width="0.8"/>
<text x="750.3" y="224.4" font-size="3.9" fill="#333" text-anchor="middle">AX7.20</text>
<rect x="772.2" y="208.9" width="12.2" height="12.2" rx="1.8" fill="#fcdcc6" stroke="#ff6f66" stroke-width="1.0" stroke-dasharray="2.8,1.3"/>
<rect x="774.3" y="211.0" width="8.0" height="8.0" fill="#a6e6c8" stroke="#367565" stroke-width="1.0"/>
<circle cx="778.3" cy="215.0" r="2" fill="none" stroke="#b8642c" stroke-width="0.8"/>
<text x="778.3" y="224.4" font-size="3.9" fill="#333" text-anchor="middle">AX7.21</text>
<rect x="800.2" y="208.9" width="12.2" height="12.2" rx="1.8" fill="#fcdcc6" stroke="#ff6f66" stroke-width="1.0" stroke-dasharray="2.8,1.3"/>
<rect x="802.3" y="211.0" width="8.0" height="8.0" fill="#a6e6c8" stroke="#367565" stroke-width="1.0"/>
<circle cx="806.3" cy="215.0" r="2" fill="none" stroke="#b8642c" stroke-width="0.8"/>
<text x="806.3" y="224.4" font-size="3.9" fill="#333" text-anchor="middle">AX7.22</text>
<rect x="829.7" y="208.9" width="12.2" height="12.2" rx="1.8" fill="#fcdcc6" stroke="#ff6f66" stroke-width="1.0" stroke-dasharray="2.8,1.3"/>
<rect x="831.8" y="211.0" width="8.0" height="8.0" fill="#a6e6c8" stroke="#367565" stroke-width="1.0"/>
<circle cx="835.8" cy="215.0" r="2.1" fill="#f4b8f0" stroke="#e020e0" stroke-width="1.2"/>
<text x="835.8" y="224.4" font-size="3.9" fill="#333" text-anchor="middle">AX7.23</text>
<rect x="850.9" y="208.9" width="12.2" height="12.2" rx="1.8" fill="#fcdcc6" stroke="#ff6f66" stroke-width="1.0" stroke-dasharray="2.8,1.3"/>
<rect x="853.0" y="211.0" width="8.0" height="8.0" fill="#a6e6c8" stroke="#367565" stroke-width="1.0"/>
<circle cx="857.0" cy="215.0" r="2.1" fill="#f4b8f0" stroke="#e020e0" stroke-width="1.2"/>
<text x="857.0" y="224.4" font-size="3.9" fill="#333" text-anchor="middle">AX7.24</text>
<rect x="872.2" y="208.9" width="12.2" height="12.2" rx="1.8" fill="#fcdcc6" stroke="#ff6f66" stroke-width="1.0" stroke-dasharray="2.8,1.3"/>
<rect x="874.3" y="211.0" width="8.0" height="8.0" fill="#a6e6c8" stroke="#367565" stroke-width="1.0"/>
<circle cx="878.3" cy="215.0" r="2.1" fill="#f4b8f0" stroke="#e020e0" stroke-width="1.2"/>
<text x="878.3" y="224.4" font-size="3.9" fill="#333" text-anchor="middle">AX7.25</text>
<rect x="207.5" y="156.7" width="294.2" height="20.8" fill="none" stroke="#2424f0" stroke-width="2"/>
<rect x="503.3" y="156.7" width="404.2" height="20.8" fill="none" stroke="#33e033" stroke-width="2"/>
<rect x="263.3" y="124.4" width="38.4" height="6.2" rx="0.8" fill="#bff2ee" stroke="#a8ecea" stroke-width="0.5"/>
<text x="264.8" y="129.3" font-size="4.6" font-weight="bold" fill="#1aaabb" textLength="35.4" lengthAdjust="spacingAndGlyphs">Kraftmessdose Nr.1</text>
<rect x="540.0" y="124.4" width="38.0" height="6.2" rx="0.8" fill="#bff2ee" stroke="#a8ecea" stroke-width="0.5"/>
<text x="541.5" y="129.3" font-size="4.6" font-weight="bold" fill="#1aaabb" textLength="35.0" lengthAdjust="spacingAndGlyphs">Kraftmessdose Nr.1</text>
<rect x="837.5" y="124.4" width="37.5" height="6.2" rx="0.8" fill="#bff2ee" stroke="#a8ecea" stroke-width="0.5"/>
<text x="839.0" y="129.3" font-size="4.6" font-weight="bold" fill="#1aaabb" textLength="34.5" lengthAdjust="spacingAndGlyphs">Kraftmessdose Nr.1</text>
<line x1="429.5" y1="108.3" x2="493.0" y2="108.3" stroke="#333" stroke-width="0.8" />
<line x1="440.0" y1="94.5" x2="440.0" y2="108.3" stroke="#555" stroke-width="0.8" />
<line x1="461.0" y1="94.5" x2="461.0" y2="108.3" stroke="#555" stroke-width="0.8" />
<line x1="482.5" y1="94.5" x2="482.5" y2="108.3" stroke="#555" stroke-width="0.8" />
<line x1="429.5" y1="108.3" x2="429.5" y2="115.8" stroke="#555" stroke-width="0.8" />
<line x1="493.0" y1="108.3" x2="493.0" y2="115.8" stroke="#555" stroke-width="0.8" />
<text x="435.0" y="106.8" font-size="4" fill="#222" text-anchor="middle">75</text>
<text x="451.0" y="106.8" font-size="4" fill="#222" text-anchor="middle">1.50</text>
<text x="472.0" y="106.8" font-size="4" fill="#222" text-anchor="middle">1.50</text>
<text x="488.0" y="106.8" font-size="4" fill="#222" text-anchor="middle">75</text>
<line x1="418.3" y1="130.0" x2="482.5" y2="130.0" stroke="#333" stroke-width="0.8" />
<line x1="429.5" y1="115.8" x2="429.5" y2="130.0" stroke="#555" stroke-width="0.8" />
<line x1="451.0" y1="115.8" x2="451.0" y2="130.0" stroke="#555" stroke-width="0.8" />
<line x1="472.0" y1="115.8" x2="472.0" y2="130.0" stroke="#555" stroke-width="0.8" />
<line x1="418.3" y1="130.0" x2="418.3" y2="144.2" stroke="#555" stroke-width="0.8" />
<line x1="482.5" y1="130.0" x2="482.5" y2="144.2" stroke="#555" stroke-width="0.8" />
<text x="424.0" y="128.5" font-size="4" fill="#222" text-anchor="middle">75</text>
<text x="440.0" y="128.5" font-size="4" fill="#222" text-anchor="middle">1.50</text>
<text x="461.0" y="128.5" font-size="4" fill="#222" text-anchor="middle">1.50</text>
<text x="477.0" y="128.5" font-size="4" fill="#222" text-anchor="middle">75</text>
<line x1="748.0" y1="127.5" x2="811.7" y2="127.5" stroke="#333" stroke-width="0.8" />
<line x1="758.3" y1="144.2" x2="758.3" y2="127.5" stroke="#555" stroke-width="0.8" />
<line x1="779.7" y1="144.2" x2="779.7" y2="127.5" stroke="#555" stroke-width="0.8" />
<line x1="800.8" y1="144.2" x2="800.8" y2="127.5" stroke="#555" stroke-width="0.8" />
<line x1="748.0" y1="127.5" x2="748.0" y2="115.8" stroke="#555" stroke-width="0.8" />
<line x1="811.7" y1="127.5" x2="811.7" y2="115.8" stroke="#555" stroke-width="0.8" />
<text x="753.0" y="126.0" font-size="4" fill="#222" text-anchor="middle">75</text>
<text x="767.0" y="126.0" font-size="4" fill="#222" text-anchor="middle">1.50</text>
<text x="788.0" y="126.0" font-size="4" fill="#222" text-anchor="middle">1.50</text>
<text x="806.0" y="126.0" font-size="4" fill="#222" text-anchor="middle">75</text>
<line x1="410.0" y1="200.0" x2="495.0" y2="200.0" stroke="#333" stroke-width="0.8" />
<line x1="424.2" y1="190.0" x2="424.2" y2="200.0" stroke="#444" stroke-width="0.8" />
<line x1="452.5" y1="190.0" x2="452.5" y2="200.0" stroke="#444" stroke-width="0.8" />
<line x1="480.8" y1="190.0" x2="480.8" y2="200.0" stroke="#444" stroke-width="0.8" />
<line x1="410.0" y1="200.0" x2="410.0" y2="207.5" stroke="#444" stroke-width="0.8" />
<line x1="495.0" y1="200.0" x2="495.0" y2="207.5" stroke="#444" stroke-width="0.8" />
<text x="417.0" y="198.5" font-size="4" fill="#222" text-anchor="middle">1.00</text>
<text x="438.0" y="198.5" font-size="4" fill="#222" text-anchor="middle">2.00</text>
<text x="466.0" y="198.5" font-size="4" fill="#222" text-anchor="middle">2.00</text>
<text x="488.0" y="198.5" font-size="4" fill="#222" text-anchor="middle">1.00</text>
<line x1="205.8" y1="199.0" x2="226.7" y2="199.0" stroke="#222" stroke-width="0.7" />
<line x1="205.8" y1="199.0" x2="205.8" y2="193.0" stroke="#222" stroke-width="0.6" />
<line x1="226.7" y1="199.0" x2="226.7" y2="193.0" stroke="#222" stroke-width="0.6" />
<text x="216.0" y="197.5" font-size="4" fill="#222" text-anchor="middle">1.50</text>
<line x1="836.0" y1="207.2" x2="889.0" y2="207.2" stroke="#333" stroke-width="0.8" />
<line x1="846.7" y1="190.0" x2="846.7" y2="207.2" stroke="#555" stroke-width="0.8" />
<line x1="868.0" y1="190.0" x2="868.0" y2="207.2" stroke="#555" stroke-width="0.8" />
<line x1="889.2" y1="190.0" x2="889.2" y2="207.2" stroke="#555" stroke-width="0.8" />
<line x1="836.0" y1="207.2" x2="836.0" y2="215.0" stroke="#555" stroke-width="0.8" />
<text x="841.0" y="205.0" font-size="4" fill="#222" text-anchor="middle">75</text>
<text x="857.0" y="205.0" font-size="4" fill="#222" text-anchor="middle">1.50</text>
<text x="878.0" y="205.0" font-size="4" fill="#222" text-anchor="middle">1.50</text>
<line x1="305.0" y1="76.0" x2="305.0" y2="140.0" stroke="#222" stroke-width="0.7" />
<line x1="639.2" y1="144.7" x2="639.2" y2="190.0" stroke="#e02020" stroke-width="0.8" />
<line x1="631.3" y1="164.0" x2="631.3" y2="185.0" stroke="#e02020" stroke-width="0.8" />
<line x1="1017.7" y1="95.2" x2="1017.7" y2="215.0" stroke="#b0b0b0" stroke-width="1.3" />
<line x1="1017.7" y1="92.5" x2="1017.7" y2="96.5" stroke="#111" stroke-width="1.3" />
<line x1="1017.7" y1="113.8" x2="1017.7" y2="117.8" stroke="#111" stroke-width="1.3" />
<line x1="1017.7" y1="142.2" x2="1017.7" y2="146.2" stroke="#111" stroke-width="1.3" />
<line x1="1017.7" y1="163.0" x2="1017.7" y2="167.0" stroke="#111" stroke-width="1.3" />
<line x1="1017.7" y1="188.0" x2="1017.7" y2="192.0" stroke="#111" stroke-width="1.3" />
<line x1="1017.7" y1="213.0" x2="1017.7" y2="217.0" stroke="#111" stroke-width="1.3" />
<text x="0" y="0" font-size="3.8" fill="#222" transform="translate(1014.5 105.0) rotate(-90)" text-anchor="middle">1.50</text>
<text x="0" y="0" font-size="3.8" fill="#222" transform="translate(1014.5 130.0) rotate(-90)" text-anchor="middle">2.00</text>
<text x="0" y="0" font-size="3.8" fill="#222" transform="translate(1014.5 155.0) rotate(-90)" text-anchor="middle">1.50</text>
<text x="0" y="0" font-size="3.8" fill="#222" transform="translate(1014.5 177.0) rotate(-90)" text-anchor="middle">1.75</text>
<text x="0" y="0" font-size="3.8" fill="#222" transform="translate(1014.5 203.0) rotate(-90)" text-anchor="middle">1.75</text>
<polyline points="1025.5,161.0 1023.0,161.0 1023.0,177.0 1025.5,177.0" fill="none" stroke="#ff3a3a" stroke-width="0.9" stroke-dasharray="2.5,1"/>
<text x="997.2" y="90.3" font-size="3.7" font-weight="bold" fill="#222" text-anchor="middle">+445.40</text>
<polygon points="995.2,91.7 998.8,91.7 997.0,94.2" fill="#111"/>
<text x="997.2" y="111.6" font-size="3.7" font-weight="bold" fill="#222" text-anchor="middle">+446.90</text>
<polygon points="995.2,113.0 998.8,113.0 997.0,115.5" fill="#111"/>
<text x="997.2" y="140.0" font-size="3.7" font-weight="bold" fill="#222" text-anchor="middle">+444.90</text>
<polygon points="995.2,141.4 998.8,141.4 997.0,143.9" fill="#111"/>
<text x="997.2" y="160.8" font-size="3.7" font-weight="bold" fill="#222" text-anchor="middle">+443.40</text>
<polygon points="995.2,162.2 998.8,162.2 997.0,164.7" fill="#111"/>
<text x="997.2" y="185.8" font-size="3.7" font-weight="bold" fill="#222" text-anchor="middle">+441.90</text>
<polygon points="995.2,187.2 998.8,187.2 997.0,189.7" fill="#111"/>
<text x="997.2" y="210.8" font-size="3.7" font-weight="bold" fill="#222" text-anchor="middle">+439.90</text>
<polygon points="995.2,212.2 998.8,212.2 997.0,214.7" fill="#111"/>
<text x="61.0" y="113.5" font-size="3.8" fill="#222" text-anchor="middle" font-weight="bold">+447.50</text>
<text x="100.0" y="127.0" font-size="3.8" fill="#222" text-anchor="middle" font-weight="bold">+446.50</text>
<text x="155.2" y="144.5" font-size="3.8" fill="#222" text-anchor="middle" font-weight="bold">+445.26</text>
<text x="365.0" y="129.0" font-size="3.8" fill="#222" text-anchor="middle" font-weight="bold">+446.40</text>
<text x="697.5" y="129.0" font-size="3.8" fill="#222" text-anchor="middle" font-weight="bold">+446.40</text>
<text x="912.5" y="134.5" font-size="3.8" fill="#222" text-anchor="middle" font-weight="bold">+445.26</text>
<text x="953.0" y="135.0" font-size="3.8" fill="#222" text-anchor="middle" font-weight="bold">+446.00</text>
<polygon points="58.2,110.5 61.8,110.5 60.0,108.0" fill="#111"/>
<polygon points="98.2,124.0 101.8,124.0 100.0,121.5" fill="#111"/>
<polygon points="153.4,141.7 157.0,141.7 155.2,139.2" fill="#111"/>
<polygon points="363.2,125.5 366.8,125.5 365.0,123.0" fill="#111"/>
<polygon points="695.7,125.5 699.3,125.5 697.5,123.0" fill="#111"/>
<polygon points="951.2,131.3 954.8,131.3 953.0,128.8" fill="#111"/>
<polygon points="910.7,136.5 914.3,136.5 912.5,139.0" fill="#111"/>
<text x="223.3" y="314.8" font-size="11.6" fill="#111" textLength="82.8" lengthAdjust="spacingAndGlyphs">Ansicht B 1:100</text>
<line x1="223.3" y1="316.8" x2="306.1" y2="316.8" stroke="#222" stroke-width="1.1" />
<polygon points="66.7,407.0 76.7,402.0 248.3,403.3 206.7,362.5 236.7,354.5 319.7,354.5 319.7,370.8 414.4,371.7 414.4,449.2 103.0,450.3 103.0,433.3 92.5,433.3" fill="#e5e5e5" stroke="none" stroke-width="1" />
<rect x="141.3" y="329.7" width="94" height="86.1" fill="url(#hg)" stroke="#777" stroke-width="0.6" stroke-dasharray="2,1.5"/>
<polyline points="66.7,407.0 92.5,433.3 103.0,433.3 103.0,450.3 414.4,449.2 414.4,329.4" fill="none" stroke="#333" stroke-width="0.9" />
<polyline points="66.7,407.0 76.7,402.0 206.7,362.5 236.7,353.3 286.7,342.5 305.8,335.8 313.3,329.2" fill="none" stroke="#555" stroke-width="0.8" />
<polyline points="76.7,401.7 146.7,401.7 153.3,398.3 153.3,382.5" fill="none" stroke="#444" stroke-width="0.7" />
<line x1="146.7" y1="401.5" x2="248.3" y2="401.5" stroke="#333" stroke-width="0.9" />
<polyline points="206.7,362.5 248.3,403.3 325.0,404.2 330.0,370.8 414.4,371.7" fill="none" stroke="#333" stroke-width="0.9" />
<polyline points="236.7,354.5 319.7,354.5 319.7,370.8 330.0,370.8" fill="none" stroke="#333" stroke-width="0.9" />
<polyline points="249.7,404.2 251.7,423.3 319.2,423.3 321.3,404.2" fill="none" stroke="#333" stroke-width="0.9" />
<polyline points="300.0,339.7 339.2,339.7 348.7,357.5" fill="none" stroke="#555" stroke-width="0.7" />
<polyline points="318.3,329.0 324.2,339.2" fill="none" stroke="#555" stroke-width="0.7" />
<polyline points="320.0,354.5 360.0,354.5 360.0,370.8" fill="none" stroke="#555" stroke-width="0.7" />
<polyline points="381.7,329.2 400.8,370.8" fill="none" stroke="#555" stroke-width="0.7" />
<line x1="98.0" y1="365.3" x2="319.0" y2="365.3" stroke="#f2b27a" stroke-width="1.0" />
<line x1="93.0" y1="386.7" x2="330.0" y2="386.7" stroke="#66d6d6" stroke-width="1.1" />
<line x1="330.0" y1="387.0" x2="443.5" y2="387.0" stroke="#f2b27a" stroke-width="1.0" />
<line x1="70.0" y1="415.2" x2="443.5" y2="415.2" stroke="#f2b27a" stroke-width="1.0" />
<line x1="100.0" y1="436.2" x2="443.5" y2="436.2" stroke="#66d6d6" stroke-width="1.1" />
<path d="M206.70 361.70 A2.75 2.75 0 0 0 208.03 356.48 A2.74 2.74 0 0 0 210.57 351.76 A2.73 2.73 0 0 0 214.74 348.40 A2.74 2.74 0 0 0 219.77 346.48 A2.74 2.74 0 0 0 225.09 345.70 A2.74 2.74 0 0 0 230.37 346.67 A2.74 2.74 0 0 0 235.23 348.97 A2.74 2.74 0 0 0 239.24 352.54 A2.74 2.74 0 0 0 242.03 357.13 A2.74 2.74 0 0 0 243.30 362.34 A2.75 2.75 0 0 0 243.32 367.73 A2.75 2.75 0 0 0 242.80 373.09 A2.73 2.73 0 0 0 240.92 378.11 A2.74 2.74 0 0 0 237.27 382.05 A2.74 2.74 0 0 0 232.63 384.74 A2.74 2.74 0 0 0 227.75 387.02 A2.65 2.65 0 0 0 222.56 387.01 A2.75 2.75 0 0 0 217.63 384.85 A2.74 2.74 0 0 0 213.29 381.69 A2.74 2.74 0 0 0 210.33 377.20 A2.75 2.75 0 0 0 208.26 372.23 A2.75 2.75 0 0 0 206.72 367.07 A2.74 2.74 0 0 0 206.70 361.70" fill="none" stroke="#ff3030" stroke-width="1.1"/>
<text x="96.7" y="343.3" font-size="7.2" font-weight="bold" fill="#ff2020" textLength="116.3" lengthAdjust="spacingAndGlyphs">keine Anker im Bereich des Hauses</text>
<line x1="439.4" y1="371.8" x2="439.4" y2="436.1" stroke="#444" stroke-width="0.9" />
<line x1="208.8" y1="401.7" x2="208.8" y2="436.7" stroke="#333" stroke-width="0.8" />
<line x1="263.3" y1="354.5" x2="263.3" y2="386.7" stroke="#333" stroke-width="0.7" />
<line x1="266.5" y1="404.2" x2="266.5" y2="436.0" stroke="#333" stroke-width="0.7" />
<polyline points="103.7,415.0 103.7,426.7 175.0,426.7 175.0,436.0" fill="none" stroke="#444" stroke-width="0.9" />
<line x1="132.0" y1="415.0" x2="132.0" y2="426.7" stroke="#444" stroke-width="0.8" />
<line x1="160.0" y1="415.0" x2="160.0" y2="426.7" stroke="#444" stroke-width="0.8" />
<text x="118.0" y="425.0" font-size="3.8" fill="#222" text-anchor="middle">2.00</text>
<text x="146.0" y="425.0" font-size="3.8" fill="#222" text-anchor="middle">2.00</text>
<text x="168.0" y="425.0" font-size="3.8" fill="#222" text-anchor="middle">1.00</text>
<polyline points="268.8,365.3 268.8,377.0 322.2,377.0 322.2,386.7" fill="none" stroke="#444" stroke-width="0.9" />
<line x1="290.0" y1="365.3" x2="290.0" y2="377.0" stroke="#444" stroke-width="0.8" />
<line x1="311.3" y1="365.3" x2="311.3" y2="377.0" stroke="#444" stroke-width="0.8" />
<text x="279.0" y="375.5" font-size="3.8" fill="#222" text-anchor="middle">1.50</text>
<text x="300.0" y="375.5" font-size="3.8" fill="#222" text-anchor="middle">1.50</text>
<text x="317.0" y="375.5" font-size="3.8" fill="#222" text-anchor="middle">75</text>
<polyline points="344.2,387.0 344.2,401.0 386.7,401.0 386.7,415.0" fill="none" stroke="#444" stroke-width="0.9" />
<line x1="372.5" y1="387.0" x2="372.5" y2="401.0" stroke="#444" stroke-width="0.8" />
<text x="358.0" y="399.5" font-size="3.8" fill="#222" text-anchor="middle">2.00</text>
<text x="380.0" y="399.5" font-size="3.8" fill="#222" text-anchor="middle">1.00</text>
<text x="116.0" y="362.3" font-size="3.6" fill="#222" text-anchor="middle" font-weight="bold">+441.88</text>
<text x="116.0" y="383.5" font-size="3.6" fill="#222" text-anchor="middle" font-weight="bold">+444.18</text>
<text x="116.0" y="398.0" font-size="3.6" fill="#222" text-anchor="middle" font-weight="bold">+447.98</text>
<text x="267.0" y="350.8" font-size="3.6" fill="#222" text-anchor="middle" font-weight="bold">+449.50</text>
<text x="267.0" y="400.5" font-size="3.6" fill="#222" text-anchor="middle" font-weight="bold">+442.80</text>
<text x="267.0" y="419.5" font-size="3.6" fill="#222" text-anchor="middle" font-weight="bold">+441.62</text>
<text x="425.1" y="367.6" font-size="3.6" fill="#222" text-anchor="middle" font-weight="bold">+449.26</text>
<text x="425.1" y="383.0" font-size="3.6" fill="#222" text-anchor="middle" font-weight="bold">+444.18</text>
<text x="425.1" y="411.0" font-size="3.6" fill="#222" text-anchor="middle" font-weight="bold">+442.18</text>
<text x="425.1" y="432.0" font-size="3.6" fill="#222" text-anchor="middle" font-weight="bold">+441.68</text>
<text x="425.5" y="455.5" font-size="3.6" fill="#222" text-anchor="middle" font-weight="bold">+439.75</text>
<text x="172.0" y="412.0" font-size="3.6" fill="#222" text-anchor="middle" font-weight="bold">+442.12</text>
<polygon points="114.2,362.5 117.8,362.5 116.0,365.0" fill="#111"/>
<polygon points="114.2,383.9 117.8,383.9 116.0,386.4" fill="#111"/>
<polygon points="114.2,398.7 117.8,398.7 116.0,401.2" fill="#111"/>
<polygon points="265.2,351.7 268.8,351.7 267.0,354.2" fill="#111"/>
<polygon points="265.2,401.4 268.8,401.4 267.0,403.9" fill="#111"/>
<polygon points="265.2,420.5 268.8,420.5 267.0,423.0" fill="#111"/>
<polygon points="423.3,369.0 426.9,369.0 425.1,371.5" fill="#111"/>
<polygon points="423.3,384.2 426.9,384.2 425.1,386.7" fill="#111"/>
<polygon points="423.3,412.4 426.9,412.4 425.1,414.9" fill="#111"/>
<polygon points="423.3,433.4 426.9,433.4 425.1,435.9" fill="#111"/>
<polygon points="423.3,452.5 426.9,452.5 425.1,450.0" fill="#111"/>
<line x1="417.0" y1="449.5" x2="425.0" y2="449.5" stroke="#555" stroke-width="0.7" />
<line x1="421.7" y1="371.8" x2="439.4" y2="371.8" stroke="#555" stroke-width="0.8" />
<line x1="439.4" y1="385.5" x2="439.4" y2="388.5" stroke="#111" stroke-width="1.2" />
<line x1="439.4" y1="413.7" x2="439.4" y2="416.7" stroke="#111" stroke-width="1.2" />
<line x1="439.4" y1="434.6" x2="439.4" y2="437.6" stroke="#111" stroke-width="1.2" />
<text x="0" y="0" font-size="3.8" fill="#222" transform="translate(437 379.0) rotate(-90)" text-anchor="middle">1.00</text>
<text x="0" y="0" font-size="3.8" fill="#222" transform="translate(437 401.0) rotate(-90)" text-anchor="middle">2.00</text>
<text x="0" y="0" font-size="3.8" fill="#222" transform="translate(437 426.0) rotate(-90)" text-anchor="middle">1.50</text>
<circle cx="248.0" cy="365.3" r="2.6" fill="#f5a24a" stroke="#e07a20" stroke-width="0.7"/>
<path d="M246.2 363.5l3.6 3.6M249.8 363.5l-3.6 3.6" stroke="#fff3e0" stroke-width="0.5"/>
<rect x="243.8" y="356.4" width="8.5" height="3.9" fill="none" stroke="#888" stroke-width="0.4"/>
<text x="248.0" y="359.5" font-size="3.4" fill="#444" text-anchor="middle">B1.1</text>
<circle cx="268.8" cy="365.3" r="2.6" fill="#f5a24a" stroke="#e07a20" stroke-width="0.7"/>
<path d="M267.0 363.5l3.6 3.6M270.6 363.5l-3.6 3.6" stroke="#fff3e0" stroke-width="0.5"/>
<rect x="264.6" y="356.4" width="8.5" height="3.9" fill="none" stroke="#888" stroke-width="0.4"/>
<text x="268.8" y="359.5" font-size="3.4" fill="#444" text-anchor="middle">B1.1</text>
<circle cx="290.0" cy="365.3" r="2.6" fill="#f5a24a" stroke="#e07a20" stroke-width="0.7"/>
<path d="M288.2 363.5l3.6 3.6M291.8 363.5l-3.6 3.6" stroke="#fff3e0" stroke-width="0.5"/>
<rect x="285.8" y="356.4" width="8.5" height="3.9" fill="none" stroke="#888" stroke-width="0.4"/>
<text x="290.0" y="359.5" font-size="3.4" fill="#444" text-anchor="middle">B1.1</text>
<circle cx="311.3" cy="365.3" r="2.6" fill="#f5a24a" stroke="#e07a20" stroke-width="0.7"/>
<path d="M309.5 363.5l3.6 3.6M313.1 363.5l-3.6 3.6" stroke="#fff3e0" stroke-width="0.5"/>
<rect x="307.1" y="356.4" width="8.5" height="3.9" fill="none" stroke="#888" stroke-width="0.4"/>
<text x="311.3" y="359.5" font-size="3.4" fill="#444" text-anchor="middle">B1.1</text>
<circle cx="236.7" cy="386.7" r="2.6" fill="#3cc6c6" stroke="#18a0a0" stroke-width="0.7"/>
<path d="M234.9 384.9l3.6 3.6M238.5 384.9l-3.6 3.6" stroke="#e0ffff" stroke-width="0.5"/>
<rect x="232.5" y="390.9" width="8.5" height="3.9" fill="none" stroke="#888" stroke-width="0.4"/>
<text x="236.7" y="394.0" font-size="3.4" fill="#444" text-anchor="middle">B2.1</text>
<circle cx="258.3" cy="386.7" r="2.6" fill="#3cc6c6" stroke="#18a0a0" stroke-width="0.7"/>
<path d="M256.5 384.9l3.6 3.6M260.1 384.9l-3.6 3.6" stroke="#e0ffff" stroke-width="0.5"/>
<rect x="254.1" y="390.9" width="8.5" height="3.9" fill="none" stroke="#888" stroke-width="0.4"/>
<text x="258.3" y="394.0" font-size="3.4" fill="#444" text-anchor="middle">B2.1</text>
<circle cx="279.5" cy="386.7" r="2.6" fill="#3cc6c6" stroke="#18a0a0" stroke-width="0.7"/>
<path d="M277.7 384.9l3.6 3.6M281.3 384.9l-3.6 3.6" stroke="#e0ffff" stroke-width="0.5"/>
<rect x="275.3" y="390.9" width="8.5" height="3.9" fill="none" stroke="#888" stroke-width="0.4"/>
<text x="279.5" y="394.0" font-size="3.4" fill="#444" text-anchor="middle">B2.1</text>
<circle cx="300.8" cy="386.7" r="2.6" fill="#3cc6c6" stroke="#18a0a0" stroke-width="0.7"/>
<path d="M299.0 384.9l3.6 3.6M302.6 384.9l-3.6 3.6" stroke="#e0ffff" stroke-width="0.5"/>
<rect x="296.6" y="390.9" width="8.5" height="3.9" fill="none" stroke="#888" stroke-width="0.4"/>
<text x="300.8" y="394.0" font-size="3.4" fill="#444" text-anchor="middle">B2.1</text>
<circle cx="322.2" cy="386.7" r="2.6" fill="#3cc6c6" stroke="#18a0a0" stroke-width="0.7"/>
<path d="M320.4 384.9l3.6 3.6M324.0 384.9l-3.6 3.6" stroke="#e0ffff" stroke-width="0.5"/>
<rect x="318.0" y="390.9" width="8.5" height="3.9" fill="none" stroke="#888" stroke-width="0.4"/>
<text x="322.2" y="394.0" font-size="3.4" fill="#444" text-anchor="middle">B2.1</text>
<circle cx="344.2" cy="387.0" r="2.6" fill="#f5a24a" stroke="#e07a20" stroke-width="0.7"/>
<path d="M342.4 385.2l3.6 3.6M346.0 385.2l-3.6 3.6" stroke="#fff3e0" stroke-width="0.5"/>
<rect x="340.0" y="377.9" width="8.5" height="3.9" fill="none" stroke="#888" stroke-width="0.4"/>
<text x="344.2" y="381.0" font-size="3.4" fill="#444" text-anchor="middle">B2.6</text>
<circle cx="372.5" cy="387.0" r="2.6" fill="#f5a24a" stroke="#e07a20" stroke-width="0.7"/>
<path d="M370.7 385.2l3.6 3.6M374.3 385.2l-3.6 3.6" stroke="#fff3e0" stroke-width="0.5"/>
<rect x="368.3" y="377.9" width="8.5" height="3.9" fill="none" stroke="#888" stroke-width="0.4"/>
<text x="372.5" y="381.0" font-size="3.4" fill="#444" text-anchor="middle">B2.6</text>
<circle cx="400.8" cy="387.0" r="2.6" fill="#f5a24a" stroke="#e07a20" stroke-width="0.7"/>
<path d="M399.0 385.2l3.6 3.6M402.6 385.2l-3.6 3.6" stroke="#fff3e0" stroke-width="0.5"/>
<rect x="396.6" y="377.9" width="8.5" height="3.9" fill="none" stroke="#888" stroke-width="0.4"/>
<text x="400.8" y="381.0" font-size="3.4" fill="#444" text-anchor="middle">B2.6</text>
<circle cx="103.7" cy="415.2" r="2.6" fill="#f5a24a" stroke="#e07a20" stroke-width="0.7"/>
<path d="M101.9 413.4l3.6 3.6M105.5 413.4l-3.6 3.6" stroke="#fff3e0" stroke-width="0.5"/>
<rect x="99.5" y="406.4" width="8.5" height="3.9" fill="none" stroke="#888" stroke-width="0.4"/>
<text x="103.7" y="409.5" font-size="3.4" fill="#444" text-anchor="middle">B3.1</text>
<circle cx="132.0" cy="415.2" r="2.6" fill="#f5a24a" stroke="#e07a20" stroke-width="0.7"/>
<path d="M130.2 413.4l3.6 3.6M133.8 413.4l-3.6 3.6" stroke="#fff3e0" stroke-width="0.5"/>
<rect x="127.8" y="406.4" width="8.5" height="3.9" fill="none" stroke="#888" stroke-width="0.4"/>
<text x="132.0" y="409.5" font-size="3.4" fill="#444" text-anchor="middle">B3.1</text>
<circle cx="160.0" cy="415.2" r="2.6" fill="#f5a24a" stroke="#e07a20" stroke-width="0.7"/>
<path d="M158.2 413.4l3.6 3.6M161.8 413.4l-3.6 3.6" stroke="#fff3e0" stroke-width="0.5"/>
<rect x="155.8" y="406.4" width="8.5" height="3.9" fill="none" stroke="#888" stroke-width="0.4"/>
<text x="160.0" y="409.5" font-size="3.4" fill="#444" text-anchor="middle">B3.1</text>
<circle cx="188.3" cy="415.2" r="2.6" fill="#f5a24a" stroke="#e07a20" stroke-width="0.7"/>
<path d="M186.5 413.4l3.6 3.6M190.1 413.4l-3.6 3.6" stroke="#fff3e0" stroke-width="0.5"/>
<rect x="184.1" y="406.4" width="8.5" height="3.9" fill="none" stroke="#888" stroke-width="0.4"/>
<text x="188.3" y="409.5" font-size="3.4" fill="#444" text-anchor="middle">B3.1</text>
<circle cx="216.7" cy="415.2" r="2.6" fill="#f5a24a" stroke="#e07a20" stroke-width="0.7"/>
<path d="M214.9 413.4l3.6 3.6M218.5 413.4l-3.6 3.6" stroke="#fff3e0" stroke-width="0.5"/>
<rect x="212.5" y="406.4" width="8.5" height="3.9" fill="none" stroke="#888" stroke-width="0.4"/>
<text x="216.7" y="409.5" font-size="3.4" fill="#444" text-anchor="middle">B3.1</text>
<circle cx="245.3" cy="415.2" r="2.6" fill="#f5a24a" stroke="#e07a20" stroke-width="0.7"/>
<path d="M243.5 413.4l3.6 3.6M247.1 413.4l-3.6 3.6" stroke="#fff3e0" stroke-width="0.5"/>
<rect x="241.1" y="406.4" width="8.5" height="3.9" fill="none" stroke="#888" stroke-width="0.4"/>
<text x="245.3" y="409.5" font-size="3.4" fill="#444" text-anchor="middle">B3.1</text>
<circle cx="273.7" cy="415.2" r="2.6" fill="#f5a24a" stroke="#e07a20" stroke-width="0.7"/>
<path d="M271.9 413.4l3.6 3.6M275.5 413.4l-3.6 3.6" stroke="#fff3e0" stroke-width="0.5"/>
<rect x="269.5" y="406.4" width="8.5" height="3.9" fill="none" stroke="#888" stroke-width="0.4"/>
<text x="273.7" y="409.5" font-size="3.4" fill="#444" text-anchor="middle">B3.1</text>
<circle cx="302.0" cy="415.2" r="2.6" fill="#f5a24a" stroke="#e07a20" stroke-width="0.7"/>
<path d="M300.2 413.4l3.6 3.6M303.8 413.4l-3.6 3.6" stroke="#fff3e0" stroke-width="0.5"/>
<rect x="297.8" y="406.4" width="8.5" height="3.9" fill="none" stroke="#888" stroke-width="0.4"/>
<text x="302.0" y="409.5" font-size="3.4" fill="#444" text-anchor="middle">B3.1</text>
<rect x="323.6" y="408.8" width="12.8" height="12.8" rx="1.8" fill="#fcdcc6" stroke="#ff6f66" stroke-width="1.0" stroke-dasharray="2.8,1.3"/>
<rect x="325.8" y="411.0" width="8.4" height="8.4" fill="#a6e6c8" stroke="#367565" stroke-width="1.0"/>
<circle cx="330.0" cy="415.2" r="2.4" fill="#e8b020" stroke="#c08010" stroke-width="0.4"/>
<rect x="325.8" y="421.4" width="8.5" height="3.9" fill="none" stroke="#888" stroke-width="0.4"/>
<text x="330.0" y="424.5" font-size="3.4" fill="#444" text-anchor="middle">B3.9</text>
<rect x="351.9" y="408.8" width="12.8" height="12.8" rx="1.8" fill="#fcdcc6" stroke="#ff6f66" stroke-width="1.0" stroke-dasharray="2.8,1.3"/>
<rect x="354.1" y="411.0" width="8.4" height="8.4" fill="#a6e6c8" stroke="#367565" stroke-width="1.0"/>
<circle cx="358.3" cy="415.2" r="2.4" fill="#e8b020" stroke="#c08010" stroke-width="0.4"/>
<rect x="354.1" y="421.4" width="8.5" height="3.9" fill="none" stroke="#888" stroke-width="0.4"/>
<text x="358.3" y="424.5" font-size="3.4" fill="#444" text-anchor="middle">B3.9</text>
<rect x="380.3" y="408.8" width="12.8" height="12.8" rx="1.8" fill="#fcdcc6" stroke="#ff6f66" stroke-width="1.0" stroke-dasharray="2.8,1.3"/>
<rect x="382.5" y="411.0" width="8.4" height="8.4" fill="#a6e6c8" stroke="#367565" stroke-width="1.0"/>
<circle cx="386.7" cy="415.2" r="2.4" fill="#e8b020" stroke="#c08010" stroke-width="0.4"/>
<rect x="382.5" y="421.4" width="8.5" height="3.9" fill="none" stroke="#888" stroke-width="0.4"/>
<text x="386.7" y="424.5" font-size="3.4" fill="#444" text-anchor="middle">B3.9</text>
<circle cx="117.5" cy="436.2" r="2.6" fill="#3cc6c6" stroke="#18a0a0" stroke-width="0.7"/>
<path d="M115.7 434.4l3.6 3.6M119.3 434.4l-3.6 3.6" stroke="#e0ffff" stroke-width="0.5"/>
<rect x="113.3" y="440.4" width="8.5" height="3.9" fill="none" stroke="#888" stroke-width="0.4"/>
<text x="117.5" y="443.5" font-size="3.4" fill="#444" text-anchor="middle">B4.1</text>
<circle cx="145.8" cy="436.2" r="2.6" fill="#3cc6c6" stroke="#18a0a0" stroke-width="0.7"/>
<path d="M144.0 434.4l3.6 3.6M147.6 434.4l-3.6 3.6" stroke="#e0ffff" stroke-width="0.5"/>
<rect x="141.6" y="440.4" width="8.5" height="3.9" fill="none" stroke="#888" stroke-width="0.4"/>
<text x="145.8" y="443.5" font-size="3.4" fill="#444" text-anchor="middle">B4.1</text>
<circle cx="174.2" cy="436.2" r="2.6" fill="#3cc6c6" stroke="#18a0a0" stroke-width="0.7"/>
<path d="M172.4 434.4l3.6 3.6M176.0 434.4l-3.6 3.6" stroke="#e0ffff" stroke-width="0.5"/>
<rect x="170.0" y="440.4" width="8.5" height="3.9" fill="none" stroke="#888" stroke-width="0.4"/>
<text x="174.2" y="443.5" font-size="3.4" fill="#444" text-anchor="middle">B4.1</text>
<circle cx="202.5" cy="436.2" r="2.6" fill="#3cc6c6" stroke="#18a0a0" stroke-width="0.7"/>
<path d="M200.7 434.4l3.6 3.6M204.3 434.4l-3.6 3.6" stroke="#e0ffff" stroke-width="0.5"/>
<rect x="198.3" y="440.4" width="8.5" height="3.9" fill="none" stroke="#888" stroke-width="0.4"/>
<text x="202.5" y="443.5" font-size="3.4" fill="#444" text-anchor="middle">B4.1</text>
<circle cx="230.8" cy="436.2" r="2.6" fill="#3cc6c6" stroke="#18a0a0" stroke-width="0.7"/>
<path d="M229.0 434.4l3.6 3.6M232.6 434.4l-3.6 3.6" stroke="#e0ffff" stroke-width="0.5"/>
<rect x="226.6" y="440.4" width="8.5" height="3.9" fill="none" stroke="#888" stroke-width="0.4"/>
<text x="230.8" y="443.5" font-size="3.4" fill="#444" text-anchor="middle">B4.1</text>
<circle cx="259.5" cy="436.2" r="2.6" fill="#3cc6c6" stroke="#18a0a0" stroke-width="0.7"/>
<path d="M257.7 434.4l3.6 3.6M261.3 434.4l-3.6 3.6" stroke="#e0ffff" stroke-width="0.5"/>
<rect x="255.3" y="440.4" width="8.5" height="3.9" fill="none" stroke="#888" stroke-width="0.4"/>
<text x="259.5" y="443.5" font-size="3.4" fill="#444" text-anchor="middle">B4.1</text>
<circle cx="287.5" cy="436.2" r="2.6" fill="#3cc6c6" stroke="#18a0a0" stroke-width="0.7"/>
<path d="M285.7 434.4l3.6 3.6M289.3 434.4l-3.6 3.6" stroke="#e0ffff" stroke-width="0.5"/>
<rect x="283.3" y="440.4" width="8.5" height="3.9" fill="none" stroke="#888" stroke-width="0.4"/>
<text x="287.5" y="443.5" font-size="3.4" fill="#444" text-anchor="middle">B4.1</text>
<rect x="309.8" y="429.8" width="12.8" height="12.8" rx="1.8" fill="#fcdcc6" stroke="#ff6f66" stroke-width="1.0" stroke-dasharray="2.8,1.3"/>
<rect x="312.0" y="432.0" width="8.4" height="8.4" fill="#a6e6c8" stroke="#367565" stroke-width="1.0"/>
<circle cx="316.2" cy="436.2" r="2.4" fill="#2ccfcf" stroke="#1aa" stroke-width="0.4"/>
<rect x="312.0" y="442.4" width="8.5" height="3.9" fill="none" stroke="#888" stroke-width="0.4"/>
<text x="316.2" y="445.5" font-size="3.4" fill="#444" text-anchor="middle">B4.8</text>
<rect x="338.1" y="429.8" width="12.8" height="12.8" rx="1.8" fill="#fcdcc6" stroke="#ff6f66" stroke-width="1.0" stroke-dasharray="2.8,1.3"/>
<rect x="340.3" y="432.0" width="8.4" height="8.4" fill="#a6e6c8" stroke="#367565" stroke-width="1.0"/>
<circle cx="344.5" cy="436.2" r="2.4" fill="#2ccfcf" stroke="#1aa" stroke-width="0.4"/>
<rect x="340.3" y="442.4" width="8.5" height="3.9" fill="none" stroke="#888" stroke-width="0.4"/>
<text x="344.5" y="445.5" font-size="3.4" fill="#444" text-anchor="middle">B4.8</text>
<rect x="366.4" y="429.8" width="12.8" height="12.8" rx="1.8" fill="#fcdcc6" stroke="#ff6f66" stroke-width="1.0" stroke-dasharray="2.8,1.3"/>
<rect x="368.6" y="432.0" width="8.4" height="8.4" fill="#a6e6c8" stroke="#367565" stroke-width="1.0"/>
<circle cx="372.8" cy="436.2" r="2.4" fill="#2ccfcf" stroke="#1aa" stroke-width="0.4"/>
<rect x="368.6" y="442.4" width="8.5" height="3.9" fill="none" stroke="#888" stroke-width="0.4"/>
<text x="372.8" y="445.5" font-size="3.4" fill="#444" text-anchor="middle">B4.8</text>
<rect x="394.4" y="429.8" width="12.8" height="12.8" rx="1.8" fill="#fcdcc6" stroke="#ff6f66" stroke-width="1.0" stroke-dasharray="2.8,1.3"/>
<rect x="396.6" y="432.0" width="8.4" height="8.4" fill="#a6e6c8" stroke="#367565" stroke-width="1.0"/>
<circle cx="400.8" cy="436.2" r="2.4" fill="#2ccfcf" stroke="#1aa" stroke-width="0.4"/>
<rect x="396.6" y="442.4" width="8.5" height="3.9" fill="none" stroke="#888" stroke-width="0.4"/>
<text x="400.8" y="445.5" font-size="3.4" fill="#444" text-anchor="middle">B4.8</text>
<text x="782.4" y="314.8" font-size="11.6" fill="#111" textLength="83.4" lengthAdjust="spacingAndGlyphs">Ansicht C 1:100</text>
<line x1="782.4" y1="316.8" x2="865.8" y2="316.8" stroke="#222" stroke-width="1.1" />
<polygon points="685.7,329 863.3,329 863.3,393.6 828.3,393.6 828.3,365 745,365 685.7,360.6" fill="url(#hg)"/>
<polyline points="863.3,329.0 863.3,393.6" fill="none" stroke="#888" stroke-width="0.6" stroke-dasharray="2,1.5"/>
<polyline points="725.4,365.0 828.3,365.0 828.3,385.0" fill="none" stroke="#888" stroke-width="0.6" stroke-dasharray="2,1.5"/>
<rect x="931.4" y="329.7" width="160" height="177.8" fill="url(#hg)" stroke="#888" stroke-width="0.6" stroke-dasharray="2,1.5"/>
<polygon points="685.7,360.6 745.3,360.6 779.5,394.0 916.0,394.4 966.0,415.8 991.0,429.7 1010.6,447.8 1020.3,447.8 1021.7,475.6 860.0,452.0 830.0,449.5 686.0,449.5" fill="#e4e4e4" stroke="none" stroke-width="1" />
<polygon points="694.4,350.3 735.3,350.3 745.3,360.6 694.4,360.6" fill="url(#hgb)" stroke="#333" stroke-width="0.8"/>
<polygon points="931.4,460 1021.7,475.6 1020.3,447.8 1010.6,447.8 991,429.7 966,415.8 931.4,401" fill="url(#hgb)"/>
<line x1="685.7" y1="329.0" x2="685.7" y2="449.5" stroke="#444" stroke-width="1.0" />
<polyline points="685.7,360.6 745.3,360.6 779.5,394.0 916.0,394.4 966.0,415.8 991.0,429.7 1010.6,447.8 1020.3,447.8 1021.7,475.6" fill="none" stroke="#333" stroke-width="0.9" />
<polyline points="686.0,449.5 784.0,449.5 784.6,448.5 840.0,448.5 841.4,450.2 1021.7,475.6" fill="none" stroke="#333" stroke-width="0.9" />
<polyline points="1020.3,447.8 1025.8,496.4 1080.0,496.4" fill="none" stroke="#333" stroke-width="0.9" />
<polyline points="786.0,394.4 789.0,412.2 856.0,412.2 873.5,394.4" fill="none" stroke="#333" stroke-width="0.9" />
<polyline points="732.6,329.0 756.0,339.9 785.0,347.0 833.7,358.8 856.4,363.9 888.3,381.1 917.5,394.4" fill="none" stroke="#555" stroke-width="0.8" />
<polyline points="859.2,370.0 916.1,393.6" fill="none" stroke="#555" stroke-width="0.7" />
<polyline points="856.0,360.0 857.0,386.0 850.0,394.0" fill="none" stroke="#777" stroke-width="0.6" />
<line x1="657.0" y1="372.3" x2="760.0" y2="372.3" stroke="#f2b27a" stroke-width="1.0" />
<line x1="700.0" y1="355.7" x2="740.0" y2="355.7" stroke="#f2b27a" stroke-width="1.0" />
<line x1="657.0" y1="393.1" x2="780.0" y2="393.1" stroke="#f2b27a" stroke-width="1.0" />
<line x1="657.0" y1="414.4" x2="790.0" y2="414.4" stroke="#66d6d6" stroke-width="1.1" />
<line x1="657.0" y1="435.5" x2="778.0" y2="435.5" stroke="#66d6d6" stroke-width="1.1" />
<line x1="778.0" y1="442.0" x2="866.0" y2="442.0" stroke="#66d6d6" stroke-width="1.1" />
<line x1="788.0" y1="402.6" x2="866.0" y2="402.6" stroke="#66d6d6" stroke-width="1.1" />
<line x1="788.0" y1="420.9" x2="856.0" y2="420.9" stroke="#f2b27a" stroke-width="1.0" />
<line x1="857.0" y1="405.6" x2="1035.0" y2="405.6" stroke="#f2b27a" stroke-width="1.0" />
<line x1="855.0" y1="426.4" x2="1035.0" y2="426.4" stroke="#66d6d6" stroke-width="1.1" />
<line x1="862.0" y1="447.8" x2="1035.0" y2="447.8" stroke="#66d6d6" stroke-width="1.1" />
<line x1="960.0" y1="461.7" x2="1035.0" y2="461.7" stroke="#66d6d6" stroke-width="1.1" />
<text x="1038.6" y="407.5" font-size="5.4" fill="#f5a050">R32-280 ; L=6.0m</text>
<text x="1038.6" y="428.3" font-size="5.4" fill="#33c8d8">R32-280 ; L=4.0m</text>
<text x="1038.6" y="449.7" font-size="5.4" fill="#33c8d8">R32-280 ; L=4.0m</text>
<text x="1038.6" y="463.6" font-size="5.4" fill="#33c8d8">R32-280 ; L=4.0m</text>
<text x="1028.5" y="402.0" font-size="3.6" fill="#222" text-anchor="middle" font-weight="bold">+442.11</text>
<polygon points="1026.7,402.5 1030.3,402.5 1028.5,405.0" fill="#111"/>
<text x="1028.5" y="422.8" font-size="3.6" fill="#222" text-anchor="middle" font-weight="bold">+441.81</text>
<polygon points="1026.7,423.3 1030.3,423.3 1028.5,425.8" fill="#111"/>
<text x="1028.5" y="444.2" font-size="3.6" fill="#222" text-anchor="middle" font-weight="bold">+439.11</text>
<polygon points="1026.7,444.7 1030.3,444.7 1028.5,447.2" fill="#111"/>
<text x="1028.5" y="458.1" font-size="3.6" fill="#222" text-anchor="middle" font-weight="bold">+438.11</text>
<polygon points="1026.7,458.6 1030.3,458.6 1028.5,461.1" fill="#111"/>
<text x="675.0" y="356.0" font-size="3.6" fill="#222" text-anchor="middle" font-weight="bold">+441.26</text>
<text x="675.0" y="367.8" font-size="3.6" fill="#222" text-anchor="middle" font-weight="bold">+444.46</text>
<text x="675.0" y="388.6" font-size="3.6" fill="#222" text-anchor="middle" font-weight="bold">+442.96</text>
<text x="675.0" y="409.7" font-size="3.6" fill="#222" text-anchor="middle" font-weight="bold">+441.46</text>
<text x="675.0" y="431.0" font-size="3.6" fill="#222" text-anchor="middle" font-weight="bold">+439.96</text>
<text x="712.0" y="346.0" font-size="3.6" fill="#222" text-anchor="middle" font-weight="bold">+446.00</text>
<text x="773.0" y="389.5" font-size="3.6" fill="#222" text-anchor="middle" font-weight="bold">+442.91</text>
<text x="814.0" y="399.0" font-size="3.6" fill="#222" text-anchor="middle" font-weight="bold">+440.31</text>
<text x="814.0" y="417.5" font-size="3.6" fill="#222" text-anchor="middle" font-weight="bold">+441.02</text>
<text x="814.0" y="438.0" font-size="3.6" fill="#222" text-anchor="middle" font-weight="bold">+438.52</text>
<text x="832.0" y="384.0" font-size="3.6" fill="#222" text-anchor="middle" font-weight="bold">+441.45</text>
<text x="740.0" y="455.0" font-size="3.6" fill="#222" text-anchor="middle" font-weight="bold">+438.99</text>
<text x="986.0" y="504.5" font-size="3.6" fill="#222" text-anchor="middle" font-weight="bold">+434.95</text>
<path d="M853.90 429.30 A2.86 2.86 0 0 0 854.32 423.71 A2.86 2.86 0 0 0 855.53 418.22 A2.86 2.86 0 0 0 857.23 412.87 A2.86 2.86 0 0 0 859.33 407.66 A2.86 2.86 0 0 0 861.92 402.68 A2.86 2.86 0 0 0 865.17 398.10 A2.86 2.86 0 0 0 868.90 393.90 A2.86 2.86 0 0 0 873.10 390.18 A2.86 2.86 0 0 0 877.83 387.15 A2.86 2.86 0 0 0 882.98 384.91 A2.86 2.86 0 0 0 888.35 383.28 A2.86 2.86 0 0 0 893.86 382.21 A2.86 2.86 0 0 0 899.46 381.85 A2.86 2.86 0 0 0 905.06 382.29 A2.87 2.87 0 0 0 910.60 383.23 A2.87 2.87 0 0 0 916.11 384.34 A2.87 2.87 0 0 0 921.57 385.65 A2.86 2.86 0 0 0 926.95 387.27 A2.86 2.86 0 0 0 932.21 389.24 A2.86 2.86 0 0 0 937.31 391.60 A2.87 2.87 0 0 0 942.24 394.29 A2.87 2.87 0 0 0 947.07 397.16 A2.87 2.87 0 0 0 951.84 400.13 A2.87 2.87 0 0 0 956.53 403.21 A2.87 2.87 0 0 0 961.15 406.42 A2.87 2.87 0 0 0 965.70 409.71 A2.87 2.87 0 0 0 970.21 413.06 A2.87 2.87 0 0 0 974.66 416.49 A2.87 2.87 0 0 0 979.06 419.99 A2.87 2.87 0 0 0 983.42 423.53 A2.87 2.87 0 0 0 987.75 427.11 A2.87 2.87 0 0 0 992.07 430.70 A2.87 2.87 0 0 0 996.37 434.32 A2.87 2.87 0 0 0 1000.57 438.06 A2.87 2.87 0 0 0 1004.59 441.98 A2.87 2.87 0 0 0 1008.51 446.00 A2.86 2.86 0 0 0 1012.08 450.33 A2.86 2.86 0 0 0 1015.02 455.12 A2.86 2.86 0 0 0 1017.56 460.13 A2.86 2.86 0 0 0 1019.67 465.33 A2.85 2.85 0 0 0 1020.61 470.83 A2.74 2.74 0 0 0 1017.40 475.14 A2.86 2.86 0 0 0 1012.10 476.96 A2.86 2.86 0 0 0 1006.61 478.13 A2.86 2.86 0 0 0 1001.03 478.76 A2.87 2.87 0 0 0 995.42 479.12 A2.87 2.87 0 0 0 989.81 479.29 A2.87 2.87 0 0 0 984.19 479.24 A2.86 2.86 0 0 0 978.59 478.81 A2.87 2.87 0 0 0 973.03 478.00 A2.87 2.87 0 0 0 967.50 477.00 A2.87 2.87 0 0 0 962.00 475.85 A2.87 2.87 0 0 0 956.52 474.59 A2.87 2.87 0 0 0 951.07 473.26 A2.87 2.87 0 0 0 945.62 471.88 A2.87 2.87 0 0 0 940.19 470.44 A2.87 2.87 0 0 0 934.79 468.89 A2.87 2.87 0 0 0 929.41 467.26 A2.87 2.87 0 0 0 924.05 465.60 A2.87 2.87 0 0 0 918.67 463.96 A2.87 2.87 0 0 0 913.27 462.40 A2.87 2.87 0 0 0 907.85 460.91 A2.87 2.87 0 0 0 902.42 459.48 A2.87 2.87 0 0 0 896.99 458.06 A2.87 2.87 0 0 0 891.55 456.63 A2.87 2.87 0 0 0 886.13 455.15 A2.87 2.87 0 0 0 880.70 453.72 A2.87 2.87 0 0 0 875.26 452.32 A2.86 2.86 0 0 0 869.92 450.57 A2.86 2.86 0 0 0 864.98 447.92 A2.86 2.86 0 0 0 860.71 444.28 A2.86 2.86 0 0 0 857.25 439.87 A2.86 2.86 0 0 0 854.81 434.83 A2.86 2.86 0 0 0 853.90 429.30" fill="none" stroke="#ff3030" stroke-width="1.15"/>
<text x="0" y="0" font-size="7" font-weight="bold" fill="#ff2020" transform="translate(845.3 467.2) rotate(9.3)" textLength="163" lengthAdjust="spacingAndGlyphs">Höhen von Treppe und best. Gebäude überprüfen</text>
<line x1="663.1" y1="360.6" x2="663.1" y2="435.5" stroke="#444" stroke-width="0.9" />
<line x1="663.1" y1="360.6" x2="686.0" y2="360.6" stroke="#555" stroke-width="0.8" />
<line x1="663.1" y1="370.8" x2="663.1" y2="373.8" stroke="#111" stroke-width="1.2" />
<line x1="663.1" y1="391.6" x2="663.1" y2="394.6" stroke="#111" stroke-width="1.2" />
<line x1="663.1" y1="412.9" x2="663.1" y2="415.9" stroke="#111" stroke-width="1.2" />
<line x1="663.1" y1="434.0" x2="663.1" y2="437.0" stroke="#111" stroke-width="1.2" />
<text x="0" y="0" font-size="3.8" fill="#222" transform="translate(660.5 366.5) rotate(-90)" text-anchor="middle">80</text>
<text x="0" y="0" font-size="3.8" fill="#222" transform="translate(660.5 383.0) rotate(-90)" text-anchor="middle">1.50</text>
<text x="0" y="0" font-size="3.8" fill="#222" transform="translate(660.5 404.0) rotate(-90)" text-anchor="middle">1.50</text>
<text x="0" y="0" font-size="3.8" fill="#222" transform="translate(660.5 425.0) rotate(-90)" text-anchor="middle">1.50</text>
<polygon points="673.2,357.8 676.8,357.8 675.0,360.3" fill="#111"/>
<polygon points="673.2,369.5 676.8,369.5 675.0,372.0" fill="#111"/>
<polygon points="673.2,390.3 676.8,390.3 675.0,392.8" fill="#111"/>
<polygon points="673.2,411.6 676.8,411.6 675.0,414.1" fill="#111"/>
<polygon points="673.2,432.7 676.8,432.7 675.0,435.2" fill="#111"/>
<polygon points="710.2,347.5 713.8,347.5 712.0,350.0" fill="#111"/>
<polygon points="771.2,391.2 774.8,391.2 773.0,393.7" fill="#111"/>
<polygon points="804.2,399.7 807.8,399.7 806.0,402.2" fill="#111"/>
<polygon points="804.2,418.2 807.8,418.2 806.0,420.7" fill="#111"/>
<polygon points="804.2,439.0 807.8,439.0 806.0,441.5" fill="#111"/>
<line x1="898.9" y1="394.0" x2="898.9" y2="447.8" stroke="#333" stroke-width="0.8" />
<line x1="806.0" y1="394.0" x2="806.0" y2="442.7" stroke="#333" stroke-width="0.7" />
<polyline points="707.3,393.1 707.3,405.0 777.7,405.0 777.7,414.4" fill="none" stroke="#444" stroke-width="0.9" />
<line x1="735.7" y1="393.1" x2="735.7" y2="405.0" stroke="#444" stroke-width="0.8" />
<line x1="763.7" y1="393.1" x2="763.7" y2="405.0" stroke="#444" stroke-width="0.8" />
<text x="721.0" y="403.5" font-size="3.8" fill="#222" text-anchor="middle">2.00</text>
<text x="750.0" y="403.5" font-size="3.8" fill="#222" text-anchor="middle">2.00</text>
<text x="770.0" y="403.5" font-size="3.8" fill="#222" text-anchor="middle">1.00</text>
<polyline points="919.4,426.4 919.4,434.0 962.0,434.0 962.0,447.8" fill="none" stroke="#444" stroke-width="0.9" />
<line x1="948.0" y1="426.4" x2="948.0" y2="434.0" stroke="#444" stroke-width="0.8" />
<text x="933.0" y="432.5" font-size="3.8" fill="#222" text-anchor="middle">2.00</text>
<text x="955.0" y="432.5" font-size="3.8" fill="#222" text-anchor="middle">1.00</text>
<line x1="970.0" y1="447.8" x2="970.0" y2="461.7" stroke="#333" stroke-width="0.7" />
<circle cx="701.0" cy="355.7" r="2.6" fill="#f5a24a" stroke="#e07a20" stroke-width="0.7"/>
<path d="M699.2 353.9l3.6 3.6M702.8 353.9l-3.6 3.6" stroke="#fff3e0" stroke-width="0.5"/>
<rect x="696.9" y="347.2" width="8.3" height="3.8" fill="none" stroke="#888" stroke-width="0.4"/>
<text x="701.0" y="350.2" font-size="3.3" fill="#444" text-anchor="middle">C1.1</text>
<circle cx="729.4" cy="355.7" r="2.6" fill="#f5a24a" stroke="#e07a20" stroke-width="0.7"/>
<path d="M727.6 353.9l3.6 3.6M731.2 353.9l-3.6 3.6" stroke="#fff3e0" stroke-width="0.5"/>
<rect x="725.3" y="347.2" width="8.3" height="3.8" fill="none" stroke="#888" stroke-width="0.4"/>
<text x="729.4" y="350.2" font-size="3.3" fill="#444" text-anchor="middle">C1.1</text>
<circle cx="692.9" cy="372.3" r="2.6" fill="#f5a24a" stroke="#e07a20" stroke-width="0.7"/>
<path d="M691.1 370.5l3.6 3.6M694.7 370.5l-3.6 3.6" stroke="#fff3e0" stroke-width="0.5"/>
<rect x="688.8" y="363.8" width="8.3" height="3.8" fill="none" stroke="#888" stroke-width="0.4"/>
<text x="692.9" y="366.8" font-size="3.3" fill="#444" text-anchor="middle">C1.1</text>
<circle cx="721.2" cy="372.3" r="2.6" fill="#f5a24a" stroke="#e07a20" stroke-width="0.7"/>
<path d="M719.4 370.5l3.6 3.6M723.0 370.5l-3.6 3.6" stroke="#fff3e0" stroke-width="0.5"/>
<rect x="717.1" y="363.8" width="8.3" height="3.8" fill="none" stroke="#888" stroke-width="0.4"/>
<text x="721.2" y="366.8" font-size="3.3" fill="#444" text-anchor="middle">C1.1</text>
<circle cx="749.4" cy="372.3" r="2.6" fill="#f5a24a" stroke="#e07a20" stroke-width="0.7"/>
<path d="M747.6 370.5l3.6 3.6M751.2 370.5l-3.6 3.6" stroke="#fff3e0" stroke-width="0.5"/>
<rect x="745.3" y="363.8" width="8.3" height="3.8" fill="none" stroke="#888" stroke-width="0.4"/>
<text x="749.4" y="366.8" font-size="3.3" fill="#444" text-anchor="middle">C1.1</text>
<circle cx="707.3" cy="393.1" r="2.6" fill="#f5a24a" stroke="#e07a20" stroke-width="0.7"/>
<path d="M705.5 391.3l3.6 3.6M709.1 391.3l-3.6 3.6" stroke="#fff3e0" stroke-width="0.5"/>
<rect x="703.2" y="384.6" width="8.3" height="3.8" fill="none" stroke="#888" stroke-width="0.4"/>
<text x="707.3" y="387.6" font-size="3.3" fill="#444" text-anchor="middle">C1.1</text>
<circle cx="735.7" cy="393.1" r="2.6" fill="#f5a24a" stroke="#e07a20" stroke-width="0.7"/>
<path d="M733.9 391.3l3.6 3.6M737.5 391.3l-3.6 3.6" stroke="#fff3e0" stroke-width="0.5"/>
<rect x="731.6" y="384.6" width="8.3" height="3.8" fill="none" stroke="#888" stroke-width="0.4"/>
<text x="735.7" y="387.6" font-size="3.3" fill="#444" text-anchor="middle">C1.1</text>
<circle cx="763.7" cy="393.1" r="2.6" fill="#f5a24a" stroke="#e07a20" stroke-width="0.7"/>
<path d="M761.9 391.3l3.6 3.6M765.5 391.3l-3.6 3.6" stroke="#fff3e0" stroke-width="0.5"/>
<rect x="759.6" y="384.6" width="8.3" height="3.8" fill="none" stroke="#888" stroke-width="0.4"/>
<text x="763.7" y="387.6" font-size="3.3" fill="#444" text-anchor="middle">C1.1</text>
<circle cx="692.9" cy="414.4" r="2.6" fill="#3cc6c6" stroke="#18a0a0" stroke-width="0.7"/>
<path d="M691.1 412.6l3.6 3.6M694.7 412.6l-3.6 3.6" stroke="#e0ffff" stroke-width="0.5"/>
<rect x="688.8" y="405.9" width="8.3" height="3.8" fill="none" stroke="#888" stroke-width="0.4"/>
<text x="692.9" y="408.9" font-size="3.3" fill="#444" text-anchor="middle">C1.1</text>
<circle cx="721.2" cy="414.4" r="2.6" fill="#3cc6c6" stroke="#18a0a0" stroke-width="0.7"/>
<path d="M719.4 412.6l3.6 3.6M723.0 412.6l-3.6 3.6" stroke="#e0ffff" stroke-width="0.5"/>
<rect x="717.1" y="405.9" width="8.3" height="3.8" fill="none" stroke="#888" stroke-width="0.4"/>
<text x="721.2" y="408.9" font-size="3.3" fill="#444" text-anchor="middle">C1.1</text>
<circle cx="749.4" cy="414.4" r="2.6" fill="#3cc6c6" stroke="#18a0a0" stroke-width="0.7"/>
<path d="M747.6 412.6l3.6 3.6M751.2 412.6l-3.6 3.6" stroke="#e0ffff" stroke-width="0.5"/>
<rect x="745.3" y="405.9" width="8.3" height="3.8" fill="none" stroke="#888" stroke-width="0.4"/>
<text x="749.4" y="408.9" font-size="3.3" fill="#444" text-anchor="middle">C1.1</text>
<circle cx="777.7" cy="414.4" r="2.6" fill="#3cc6c6" stroke="#18a0a0" stroke-width="0.7"/>
<path d="M775.9 412.6l3.6 3.6M779.5 412.6l-3.6 3.6" stroke="#e0ffff" stroke-width="0.5"/>
<rect x="773.6" y="405.9" width="8.3" height="3.8" fill="none" stroke="#888" stroke-width="0.4"/>
<text x="777.7" y="408.9" font-size="3.3" fill="#444" text-anchor="middle">C1.1</text>
<circle cx="798.1" cy="402.5" r="2.6" fill="#3cc6c6" stroke="#18a0a0" stroke-width="0.7"/>
<path d="M796.3 400.7l3.6 3.6M799.9 400.7l-3.6 3.6" stroke="#e0ffff" stroke-width="0.5"/>
<rect x="794.0" y="394.0" width="8.3" height="3.8" fill="none" stroke="#888" stroke-width="0.4"/>
<text x="798.1" y="397.0" font-size="3.3" fill="#444" text-anchor="middle">C1.1</text>
<circle cx="826.5" cy="402.5" r="2.6" fill="#3cc6c6" stroke="#18a0a0" stroke-width="0.7"/>
<path d="M824.7 400.7l3.6 3.6M828.3 400.7l-3.6 3.6" stroke="#e0ffff" stroke-width="0.5"/>
<rect x="822.4" y="394.0" width="8.3" height="3.8" fill="none" stroke="#888" stroke-width="0.4"/>
<text x="826.5" y="397.0" font-size="3.3" fill="#444" text-anchor="middle">C1.1</text>
<circle cx="812.3" cy="420.9" r="2.6" fill="#f5a24a" stroke="#e07a20" stroke-width="0.7"/>
<path d="M810.5 419.1l3.6 3.6M814.1 419.1l-3.6 3.6" stroke="#fff3e0" stroke-width="0.5"/>
<rect x="808.2" y="412.4" width="8.3" height="3.8" fill="none" stroke="#888" stroke-width="0.4"/>
<text x="812.3" y="415.4" font-size="3.3" fill="#444" text-anchor="middle">C1.1</text>
<circle cx="840.9" cy="420.9" r="2.6" fill="#f5a24a" stroke="#e07a20" stroke-width="0.7"/>
<path d="M839.1 419.1l3.6 3.6M842.7 419.1l-3.6 3.6" stroke="#fff3e0" stroke-width="0.5"/>
<rect x="836.8" y="412.4" width="8.3" height="3.8" fill="none" stroke="#888" stroke-width="0.4"/>
<text x="840.9" y="415.4" font-size="3.3" fill="#444" text-anchor="middle">C1.1</text>
<circle cx="798.1" cy="441.8" r="2.6" fill="#3cc6c6" stroke="#18a0a0" stroke-width="0.7"/>
<path d="M796.3 440.0l3.6 3.6M799.9 440.0l-3.6 3.6" stroke="#e0ffff" stroke-width="0.5"/>
<rect x="794.0" y="433.3" width="8.3" height="3.8" fill="none" stroke="#888" stroke-width="0.4"/>
<text x="798.1" y="436.3" font-size="3.3" fill="#444" text-anchor="middle">C1.1</text>
<circle cx="826.5" cy="441.8" r="2.6" fill="#3cc6c6" stroke="#18a0a0" stroke-width="0.7"/>
<path d="M824.7 440.0l3.6 3.6M828.3 440.0l-3.6 3.6" stroke="#e0ffff" stroke-width="0.5"/>
<rect x="822.4" y="433.3" width="8.3" height="3.8" fill="none" stroke="#888" stroke-width="0.4"/>
<text x="826.5" y="436.3" font-size="3.3" fill="#444" text-anchor="middle">C1.1</text>
<circle cx="877.2" cy="405.6" r="2.6" fill="#f5a24a" stroke="#e07a20" stroke-width="0.7"/>
<path d="M875.4 403.8l3.6 3.6M879.0 403.8l-3.6 3.6" stroke="#fff3e0" stroke-width="0.5"/>
<rect x="873.1" y="397.1" width="8.3" height="3.8" fill="none" stroke="#888" stroke-width="0.4"/>
<text x="877.2" y="400.1" font-size="3.3" fill="#444" text-anchor="middle">C1.1</text>
<circle cx="905.0" cy="405.6" r="2.6" fill="#f5a24a" stroke="#e07a20" stroke-width="0.7"/>
<path d="M903.2 403.8l3.6 3.6M906.8 403.8l-3.6 3.6" stroke="#fff3e0" stroke-width="0.5"/>
<rect x="900.9" y="397.1" width="8.3" height="3.8" fill="none" stroke="#888" stroke-width="0.4"/>
<text x="905.0" y="400.1" font-size="3.3" fill="#444" text-anchor="middle">C1.1</text>
<circle cx="854.4" cy="402.8" r="2.6" fill="#3cc6c6" stroke="#18a0a0" stroke-width="0.7"/>
<path d="M852.6 401.0l3.6 3.6M856.2 401.0l-3.6 3.6" stroke="#e0ffff" stroke-width="0.5"/>
<rect x="850.3" y="394.3" width="8.3" height="3.8" fill="none" stroke="#888" stroke-width="0.4"/>
<text x="854.4" y="397.3" font-size="3.3" fill="#444" text-anchor="middle">C1.1</text>
<circle cx="862.8" cy="426.4" r="2.6" fill="#3cc6c6" stroke="#18a0a0" stroke-width="0.7"/>
<path d="M861.0 424.6l3.6 3.6M864.6 424.6l-3.6 3.6" stroke="#e0ffff" stroke-width="0.5"/>
<rect x="858.7" y="417.9" width="8.3" height="3.8" fill="none" stroke="#888" stroke-width="0.4"/>
<text x="862.8" y="420.9" font-size="3.3" fill="#444" text-anchor="middle">C1.1</text>
<circle cx="891.1" cy="426.4" r="2.6" fill="#3cc6c6" stroke="#18a0a0" stroke-width="0.7"/>
<path d="M889.3 424.6l3.6 3.6M892.9 424.6l-3.6 3.6" stroke="#e0ffff" stroke-width="0.5"/>
<rect x="887.0" y="417.9" width="8.3" height="3.8" fill="none" stroke="#888" stroke-width="0.4"/>
<text x="891.1" y="420.9" font-size="3.3" fill="#444" text-anchor="middle">C1.1</text>
<circle cx="919.4" cy="426.4" r="2.6" fill="#3cc6c6" stroke="#18a0a0" stroke-width="0.7"/>
<path d="M917.6 424.6l3.6 3.6M921.2 424.6l-3.6 3.6" stroke="#e0ffff" stroke-width="0.5"/>
<rect x="915.3" y="417.9" width="8.3" height="3.8" fill="none" stroke="#888" stroke-width="0.4"/>
<text x="919.4" y="420.9" font-size="3.3" fill="#444" text-anchor="middle">C1.1</text>
<circle cx="948.0" cy="426.4" r="2.6" fill="#3cc6c6" stroke="#18a0a0" stroke-width="0.7"/>
<path d="M946.2 424.6l3.6 3.6M949.8 424.6l-3.6 3.6" stroke="#e0ffff" stroke-width="0.5"/>
<rect x="943.9" y="417.9" width="8.3" height="3.8" fill="none" stroke="#888" stroke-width="0.4"/>
<text x="948.0" y="420.9" font-size="3.3" fill="#444" text-anchor="middle">C1.1</text>
<circle cx="840.6" cy="420.6" r="2.6" fill="#f5a24a" stroke="#e07a20" stroke-width="0.7"/>
<path d="M838.8 418.8l3.6 3.6M842.4 418.8l-3.6 3.6" stroke="#fff3e0" stroke-width="0.5"/>
<rect x="836.5" y="412.1" width="8.3" height="3.8" fill="none" stroke="#888" stroke-width="0.4"/>
<text x="840.6" y="415.1" font-size="3.3" fill="#444" text-anchor="middle">C1.1</text>
<circle cx="854.4" cy="441.7" r="2.6" fill="#3cc6c6" stroke="#18a0a0" stroke-width="0.7"/>
<path d="M852.6 439.9l3.6 3.6M856.2 439.9l-3.6 3.6" stroke="#e0ffff" stroke-width="0.5"/>
<rect x="850.3" y="433.2" width="8.3" height="3.8" fill="none" stroke="#888" stroke-width="0.4"/>
<text x="854.4" y="436.2" font-size="3.3" fill="#444" text-anchor="middle">C1.1</text>
<circle cx="877.2" cy="447.8" r="2.6" fill="#3cc6c6" stroke="#18a0a0" stroke-width="0.7"/>
<path d="M875.4 446.0l3.6 3.6M879.0 446.0l-3.6 3.6" stroke="#e0ffff" stroke-width="0.5"/>
<rect x="873.1" y="439.3" width="8.3" height="3.8" fill="none" stroke="#888" stroke-width="0.4"/>
<text x="877.2" y="442.3" font-size="3.3" fill="#444" text-anchor="middle">C1.1</text>
<circle cx="905.0" cy="447.8" r="2.6" fill="#3cc6c6" stroke="#18a0a0" stroke-width="0.7"/>
<path d="M903.2 446.0l3.6 3.6M906.8 446.0l-3.6 3.6" stroke="#e0ffff" stroke-width="0.5"/>
<rect x="900.9" y="439.3" width="8.3" height="3.8" fill="none" stroke="#888" stroke-width="0.4"/>
<text x="905.0" y="442.3" font-size="3.3" fill="#444" text-anchor="middle">C1.1</text>
<circle cx="933.6" cy="447.8" r="2.6" fill="#3cc6c6" stroke="#18a0a0" stroke-width="0.7"/>
<path d="M931.8 446.0l3.6 3.6M935.4 446.0l-3.6 3.6" stroke="#e0ffff" stroke-width="0.5"/>
<rect x="929.5" y="439.3" width="8.3" height="3.8" fill="none" stroke="#888" stroke-width="0.4"/>
<text x="933.6" y="442.3" font-size="3.3" fill="#444" text-anchor="middle">C1.1</text>
<circle cx="962.0" cy="447.8" r="2.6" fill="#3cc6c6" stroke="#18a0a0" stroke-width="0.7"/>
<path d="M960.2 446.0l3.6 3.6M963.8 446.0l-3.6 3.6" stroke="#e0ffff" stroke-width="0.5"/>
<rect x="957.9" y="439.3" width="8.3" height="3.8" fill="none" stroke="#888" stroke-width="0.4"/>
<text x="962.0" y="442.3" font-size="3.3" fill="#444" text-anchor="middle">C1.1</text>
<circle cx="990.3" cy="447.8" r="2.6" fill="#3cc6c6" stroke="#18a0a0" stroke-width="0.7"/>
<path d="M988.5 446.0l3.6 3.6M992.1 446.0l-3.6 3.6" stroke="#e0ffff" stroke-width="0.5"/>
<rect x="986.2" y="439.3" width="8.3" height="3.8" fill="none" stroke="#888" stroke-width="0.4"/>
<text x="990.3" y="442.3" font-size="3.3" fill="#444" text-anchor="middle">C1.1</text>
<circle cx="975.8" cy="461.7" r="2.6" fill="#3cc6c6" stroke="#18a0a0" stroke-width="0.7"/>
<path d="M974.0 459.9l3.6 3.6M977.6 459.9l-3.6 3.6" stroke="#e0ffff" stroke-width="0.5"/>
<rect x="971.7" y="453.2" width="8.3" height="3.8" fill="none" stroke="#888" stroke-width="0.4"/>
<text x="975.8" y="456.2" font-size="3.3" fill="#444" text-anchor="middle">C1.1</text>
<circle cx="1004.4" cy="461.7" r="2.6" fill="#3cc6c6" stroke="#18a0a0" stroke-width="0.7"/>
<path d="M1002.6 459.9l3.6 3.6M1006.2 459.9l-3.6 3.6" stroke="#e0ffff" stroke-width="0.5"/>
<rect x="1000.3" y="453.2" width="8.3" height="3.8" fill="none" stroke="#888" stroke-width="0.4"/>
<text x="1004.4" y="456.2" font-size="3.3" fill="#444" text-anchor="middle">C1.1</text>
<rect x="700.9" y="429.1" width="12.8" height="12.8" rx="1.8" fill="#fcdcc6" stroke="#ff6f66" stroke-width="1.0" stroke-dasharray="2.8,1.3"/>
<rect x="703.1" y="431.3" width="8.4" height="8.4" fill="#a6e6c8" stroke="#367565" stroke-width="1.0"/>
<circle cx="707.3" cy="435.5" r="2.4" fill="#2ccfcf" stroke="#1aa" stroke-width="0.4"/>
<rect x="703.2" y="442.0" width="8.3" height="3.8" fill="none" stroke="#888" stroke-width="0.4"/>
<text x="707.3" y="445.0" font-size="3.3" fill="#444" text-anchor="middle">C5.1</text>
<rect x="729.3" y="429.1" width="12.8" height="12.8" rx="1.8" fill="#fcdcc6" stroke="#ff6f66" stroke-width="1.0" stroke-dasharray="2.8,1.3"/>
<rect x="731.5" y="431.3" width="8.4" height="8.4" fill="#a6e6c8" stroke="#367565" stroke-width="1.0"/>
<circle cx="735.7" cy="435.5" r="2.4" fill="#2ccfcf" stroke="#1aa" stroke-width="0.4"/>
<rect x="731.6" y="442.0" width="8.3" height="3.8" fill="none" stroke="#888" stroke-width="0.4"/>
<text x="735.7" y="445.0" font-size="3.3" fill="#444" text-anchor="middle">C5.1</text>
<rect x="757.3" y="429.1" width="12.8" height="12.8" rx="1.8" fill="#fcdcc6" stroke="#ff6f66" stroke-width="1.0" stroke-dasharray="2.8,1.3"/>
<rect x="759.5" y="431.3" width="8.4" height="8.4" fill="#a6e6c8" stroke="#367565" stroke-width="1.0"/>
<circle cx="763.7" cy="435.5" r="2.4" fill="#2ccfcf" stroke="#1aa" stroke-width="0.4"/>
<rect x="759.6" y="442.0" width="8.3" height="3.8" fill="none" stroke="#888" stroke-width="0.4"/>
<text x="763.7" y="445.0" font-size="3.3" fill="#444" text-anchor="middle">C5.1</text>
<text x="110.0" y="519.1" font-size="11.6" fill="#111" textLength="82.2" lengthAdjust="spacingAndGlyphs">Ansicht E 1:100</text>
<line x1="110.0" y1="521.1" x2="192.2" y2="521.1" stroke="#222" stroke-width="1.1" />
<polygon points="26.7,614.1 74.0,614.1 194.0,568.1 258.4,568.1 248.9,634.8 45.9,634.8" fill="#fde4cc" stroke="none" stroke-width="1" />
<polygon points="43.3,534 165,534 165,621.5 43.3,621.5" fill="url(#hg)"/>
<polygon points="43.3,614.1 74,614.1 165,579.2 165,621.5 43.3,621.5" fill="url(#hrb)"/>
<rect x="43.3" y="534" width="121.7" height="87.5" fill="none" stroke="#888" stroke-width="0.6" stroke-dasharray="2,1.5"/>
<polygon points="26.7,614.1 74.0,614.1 194.0,568.1 258.4,568.1 248.9,634.8 45.9,634.8" fill="none" stroke="#333" stroke-width="0.9" />
<polyline points="0.0,615.6 20.7,614.0 23.1,596.3 74.0,587.4 118.5,574.0 142.2,562.2 165.0,552.7 204.4,533.2" fill="none" stroke="#666" stroke-width="0.8" />
<line x1="172.0" y1="579.4" x2="294.8" y2="579.4" stroke="#f2b27a" stroke-width="1.0" />
<line x1="111.0" y1="600.5" x2="295.0" y2="600.5" stroke="#66d6d6" stroke-width="1.1" />
<line x1="41.5" y1="621.5" x2="295.0" y2="621.5" stroke="#66d6d6" stroke-width="1.1" />
<line x1="290.8" y1="567.4" x2="290.8" y2="621.1" stroke="#444" stroke-width="0.9" />
<line x1="266.0" y1="567.4" x2="290.8" y2="567.4" stroke="#666" stroke-width="0.9" />
<line x1="259.0" y1="634.6" x2="277.0" y2="634.6" stroke="#666" stroke-width="0.9" />
<line x1="290.8" y1="577.9" x2="290.8" y2="580.9" stroke="#111" stroke-width="1.2" />
<line x1="290.8" y1="599.0" x2="290.8" y2="602.0" stroke="#111" stroke-width="1.2" />
<line x1="290.8" y1="619.8" x2="290.8" y2="622.8" stroke="#111" stroke-width="1.2" />
<text x="0" y="0" font-size="3.8" fill="#222" transform="translate(288 573.5) rotate(-90)" text-anchor="middle">80</text>
<text x="0" y="0" font-size="3.8" fill="#222" transform="translate(288 590.0) rotate(-90)" text-anchor="middle">1.50</text>
<text x="0" y="0" font-size="3.8" fill="#222" transform="translate(288 611.0) rotate(-90)" text-anchor="middle">1.50</text>
<text x="275.5" y="563.4" font-size="3.6" fill="#222" text-anchor="middle" font-weight="bold">+439.34</text>
<polygon points="273.7,564.6 277.3,564.6 275.5,567.1" fill="#111"/>
<text x="275.5" y="575.4" font-size="3.6" fill="#222" text-anchor="middle" font-weight="bold">+438.54</text>
<polygon points="273.7,576.6 277.3,576.6 275.5,579.1" fill="#111"/>
<text x="275.5" y="596.5" font-size="3.6" fill="#222" text-anchor="middle" font-weight="bold">+437.04</text>
<polygon points="273.7,597.7 277.3,597.7 275.5,600.2" fill="#111"/>
<text x="275.5" y="617.3" font-size="3.6" fill="#222" text-anchor="middle" font-weight="bold">+435.54</text>
<polygon points="273.7,618.5 277.3,618.5 275.5,621.0" fill="#111"/>
<text x="275.5" y="630.6" font-size="3.6" fill="#222" text-anchor="middle" font-weight="bold">+434.82</text>
<polygon points="273.7,631.8 277.3,631.8 275.5,634.3" fill="#111"/>
<polyline points="175.7,600.7 175.7,590.0 207.4,590.0 207.4,579.4" fill="none" stroke="#444" stroke-width="0.9" />
<line x1="186.1" y1="579.4" x2="186.1" y2="590.0" stroke="#444" stroke-width="0.8" />
<text x="181.0" y="588.5" font-size="3.8" fill="#222" text-anchor="middle">75</text>
<text x="196.0" y="588.5" font-size="3.8" fill="#222" text-anchor="middle">1.50</text>
<polyline points="186.1,621.5 186.1,611.0 239.4,611.0 239.4,600.7" fill="none" stroke="#444" stroke-width="0.9" />
<line x1="196.4" y1="600.7" x2="196.4" y2="611.0" stroke="#444" stroke-width="0.8" />
<line x1="217.8" y1="600.7" x2="217.8" y2="611.0" stroke="#444" stroke-width="0.8" />
<text x="191.0" y="609.5" font-size="3.8" fill="#222" text-anchor="middle">75</text>
<text x="207.0" y="609.5" font-size="3.8" fill="#222" text-anchor="middle">1.50</text>
<text x="228.0" y="609.5" font-size="3.8" fill="#222" text-anchor="middle">1.50</text>
<text x="90.0" y="618.0" font-size="3.4" fill="#222" text-anchor="middle" font-weight="bold">+439.50</text>
<circle cx="186.1" cy="579.4" r="2.6" fill="#f5a24a" stroke="#e07a20" stroke-width="0.7"/>
<path d="M184.3 577.6l3.6 3.6M187.9 577.6l-3.6 3.6" stroke="#fff3e0" stroke-width="0.5"/>
<rect x="182.0" y="570.5" width="8.3" height="3.8" fill="none" stroke="#888" stroke-width="0.4"/>
<text x="186.1" y="573.5" font-size="3.3" fill="#444" text-anchor="middle">E1.1</text>
<circle cx="207.4" cy="579.4" r="2.6" fill="#f5a24a" stroke="#e07a20" stroke-width="0.7"/>
<path d="M205.6 577.6l3.6 3.6M209.2 577.6l-3.6 3.6" stroke="#fff3e0" stroke-width="0.5"/>
<rect x="203.3" y="570.5" width="8.3" height="3.8" fill="none" stroke="#888" stroke-width="0.4"/>
<text x="207.4" y="573.5" font-size="3.3" fill="#444" text-anchor="middle">E1.1</text>
<circle cx="228.7" cy="579.4" r="2.6" fill="#f5a24a" stroke="#e07a20" stroke-width="0.7"/>
<path d="M226.9 577.6l3.6 3.6M230.5 577.6l-3.6 3.6" stroke="#fff3e0" stroke-width="0.5"/>
<rect x="224.6" y="570.5" width="8.3" height="3.8" fill="none" stroke="#888" stroke-width="0.4"/>
<text x="228.7" y="573.5" font-size="3.3" fill="#444" text-anchor="middle">E1.1</text>
<circle cx="249.8" cy="579.4" r="2.6" fill="#f5a24a" stroke="#e07a20" stroke-width="0.7"/>
<path d="M248.0 577.6l3.6 3.6M251.6 577.6l-3.6 3.6" stroke="#fff3e0" stroke-width="0.5"/>
<rect x="245.7" y="570.5" width="8.3" height="3.8" fill="none" stroke="#888" stroke-width="0.4"/>
<text x="249.8" y="573.5" font-size="3.3" fill="#444" text-anchor="middle">E1.1</text>
<circle cx="133.3" cy="600.7" r="2.6" fill="#3cc6c6" stroke="#18a0a0" stroke-width="0.7"/>
<path d="M131.5 598.9l3.6 3.6M135.1 598.9l-3.6 3.6" stroke="#e0ffff" stroke-width="0.5"/>
<rect x="129.2" y="605.0" width="8.3" height="3.8" fill="none" stroke="#888" stroke-width="0.4"/>
<text x="133.3" y="608.0" font-size="3.3" fill="#444" text-anchor="middle">E2.1</text>
<circle cx="154.1" cy="600.7" r="2.6" fill="#3cc6c6" stroke="#18a0a0" stroke-width="0.7"/>
<path d="M152.3 598.9l3.6 3.6M155.9 598.9l-3.6 3.6" stroke="#e0ffff" stroke-width="0.5"/>
<rect x="150.0" y="605.0" width="8.3" height="3.8" fill="none" stroke="#888" stroke-width="0.4"/>
<text x="154.1" y="608.0" font-size="3.3" fill="#444" text-anchor="middle">E2.1</text>
<circle cx="175.7" cy="600.7" r="2.6" fill="#3cc6c6" stroke="#18a0a0" stroke-width="0.7"/>
<path d="M173.9 598.9l3.6 3.6M177.5 598.9l-3.6 3.6" stroke="#e0ffff" stroke-width="0.5"/>
<rect x="171.6" y="605.0" width="8.3" height="3.8" fill="none" stroke="#888" stroke-width="0.4"/>
<text x="175.7" y="608.0" font-size="3.3" fill="#444" text-anchor="middle">E2.1</text>
<circle cx="196.4" cy="600.7" r="2.6" fill="#3cc6c6" stroke="#18a0a0" stroke-width="0.7"/>
<path d="M194.6 598.9l3.6 3.6M198.2 598.9l-3.6 3.6" stroke="#e0ffff" stroke-width="0.5"/>
<rect x="192.3" y="605.0" width="8.3" height="3.8" fill="none" stroke="#888" stroke-width="0.4"/>
<text x="196.4" y="608.0" font-size="3.3" fill="#444" text-anchor="middle">E2.1</text>
<circle cx="217.8" cy="600.7" r="2.6" fill="#3cc6c6" stroke="#18a0a0" stroke-width="0.7"/>
<path d="M216.0 598.9l3.6 3.6M219.6 598.9l-3.6 3.6" stroke="#e0ffff" stroke-width="0.5"/>
<rect x="213.7" y="605.0" width="8.3" height="3.8" fill="none" stroke="#888" stroke-width="0.4"/>
<text x="217.8" y="608.0" font-size="3.3" fill="#444" text-anchor="middle">E2.1</text>
<circle cx="239.4" cy="600.7" r="2.6" fill="#3cc6c6" stroke="#18a0a0" stroke-width="0.7"/>
<path d="M237.6 598.9l3.6 3.6M241.2 598.9l-3.6 3.6" stroke="#e0ffff" stroke-width="0.5"/>
<rect x="235.3" y="605.0" width="8.3" height="3.8" fill="none" stroke="#888" stroke-width="0.4"/>
<text x="239.4" y="608.0" font-size="3.3" fill="#444" text-anchor="middle">E2.1</text>
<circle cx="58.7" cy="621.5" r="2.6" fill="#3cc6c6" stroke="#18a0a0" stroke-width="0.7"/>
<path d="M56.9 619.7l3.6 3.6M60.5 619.7l-3.6 3.6" stroke="#e0ffff" stroke-width="0.5"/>
<rect x="54.6" y="625.8" width="8.3" height="3.8" fill="none" stroke="#888" stroke-width="0.4"/>
<text x="58.7" y="628.8" font-size="3.3" fill="#444" text-anchor="middle">E3.1</text>
<circle cx="80.0" cy="621.5" r="2.6" fill="#3cc6c6" stroke="#18a0a0" stroke-width="0.7"/>
<path d="M78.2 619.7l3.6 3.6M81.8 619.7l-3.6 3.6" stroke="#e0ffff" stroke-width="0.5"/>
<rect x="75.9" y="625.8" width="8.3" height="3.8" fill="none" stroke="#888" stroke-width="0.4"/>
<text x="80.0" y="628.8" font-size="3.3" fill="#444" text-anchor="middle">E3.1</text>
<circle cx="101.3" cy="621.5" r="2.6" fill="#3cc6c6" stroke="#18a0a0" stroke-width="0.7"/>
<path d="M99.5 619.7l3.6 3.6M103.1 619.7l-3.6 3.6" stroke="#e0ffff" stroke-width="0.5"/>
<rect x="97.2" y="625.8" width="8.3" height="3.8" fill="none" stroke="#888" stroke-width="0.4"/>
<text x="101.3" y="628.8" font-size="3.3" fill="#444" text-anchor="middle">E3.1</text>
<circle cx="122.4" cy="621.5" r="2.6" fill="#3cc6c6" stroke="#18a0a0" stroke-width="0.7"/>
<path d="M120.6 619.7l3.6 3.6M124.2 619.7l-3.6 3.6" stroke="#e0ffff" stroke-width="0.5"/>
<rect x="118.3" y="625.8" width="8.3" height="3.8" fill="none" stroke="#888" stroke-width="0.4"/>
<text x="122.4" y="628.8" font-size="3.3" fill="#444" text-anchor="middle">E3.1</text>
<circle cx="143.7" cy="621.5" r="2.6" fill="#3cc6c6" stroke="#18a0a0" stroke-width="0.7"/>
<path d="M141.9 619.7l3.6 3.6M145.5 619.7l-3.6 3.6" stroke="#e0ffff" stroke-width="0.5"/>
<rect x="139.6" y="625.8" width="8.3" height="3.8" fill="none" stroke="#888" stroke-width="0.4"/>
<text x="143.7" y="628.8" font-size="3.3" fill="#444" text-anchor="middle">E3.1</text>
<circle cx="165.0" cy="621.5" r="2.6" fill="#3cc6c6" stroke="#18a0a0" stroke-width="0.7"/>
<path d="M163.2 619.7l3.6 3.6M166.8 619.7l-3.6 3.6" stroke="#e0ffff" stroke-width="0.5"/>
<rect x="160.9" y="625.8" width="8.3" height="3.8" fill="none" stroke="#888" stroke-width="0.4"/>
<text x="165.0" y="628.8" font-size="3.3" fill="#444" text-anchor="middle">E3.1</text>
<circle cx="186.1" cy="621.5" r="2.6" fill="#3cc6c6" stroke="#18a0a0" stroke-width="0.7"/>
<path d="M184.3 619.7l3.6 3.6M187.9 619.7l-3.6 3.6" stroke="#e0ffff" stroke-width="0.5"/>
<rect x="182.0" y="625.8" width="8.3" height="3.8" fill="none" stroke="#888" stroke-width="0.4"/>
<text x="186.1" y="628.8" font-size="3.3" fill="#444" text-anchor="middle">E3.1</text>
<circle cx="207.4" cy="621.5" r="2.6" fill="#3cc6c6" stroke="#18a0a0" stroke-width="0.7"/>
<path d="M205.6 619.7l3.6 3.6M209.2 619.7l-3.6 3.6" stroke="#e0ffff" stroke-width="0.5"/>
<rect x="203.3" y="625.8" width="8.3" height="3.8" fill="none" stroke="#888" stroke-width="0.4"/>
<text x="207.4" y="628.8" font-size="3.3" fill="#444" text-anchor="middle">E3.1</text>
<circle cx="228.7" cy="621.5" r="2.6" fill="#3cc6c6" stroke="#18a0a0" stroke-width="0.7"/>
<path d="M226.9 619.7l3.6 3.6M230.5 619.7l-3.6 3.6" stroke="#e0ffff" stroke-width="0.5"/>
<rect x="224.6" y="625.8" width="8.3" height="3.8" fill="none" stroke="#888" stroke-width="0.4"/>
<text x="228.7" y="628.8" font-size="3.3" fill="#444" text-anchor="middle">E3.1</text>
<text x="792.2" y="522.8" font-size="11.6" fill="#111" textLength="83.1" lengthAdjust="spacingAndGlyphs">Ansicht D 1:100</text>
<line x1="792.2" y1="524.8" x2="875.3" y2="524.8" stroke="#222" stroke-width="1.1" />
<polygon points="615.7,568.6 748.1,571.7 748.1,573.4 764.5,573.4 778.2,587.9 813.0,587.8 819.4,635.0 854.6,635.0 861.1,587.8 891.7,587.8 884.3,646.1 831.5,646.1 819.4,635.0 819.2,634.8 619.4,634.8 619.4,571.0" fill="#e4e4e4" stroke="#333" stroke-width="0.9" />
<polygon points="892.6,587.8 906.5,587.8 921.3,573.3 948.1,573.3 963.0,587.8 989.8,587.8 985.2,631.3 969.4,635.0 958.3,646.1 900.9,646.1" fill="#e4e4e4" stroke="#333" stroke-width="0.9" />
<polygon points="991.9,587.6 1063.2,599.8 1068.3,634.8 998.3,634.8" fill="#e4e4e4" stroke="#333" stroke-width="0.9" />
<line x1="1068.0" y1="619.7" x2="1080.0" y2="619.7" stroke="#333" stroke-width="0.8" />
<line x1="579.6" y1="533.7" x2="615.7" y2="568.6" stroke="#333" stroke-width="0.9" />
<line x1="591.7" y1="581.8" x2="955.6" y2="581.8" stroke="#f2b27a" stroke-width="1.0" />
<line x1="591.7" y1="603.0" x2="1067.0" y2="603.0" stroke="#66d6d6" stroke-width="1.1" />
<line x1="591.7" y1="624.2" x2="1067.0" y2="624.2" stroke="#66d6d6" stroke-width="1.1" />
<line x1="598.1" y1="570.6" x2="598.1" y2="624.0" stroke="#444" stroke-width="0.9" />
<line x1="598.1" y1="570.6" x2="612.2" y2="570.6" stroke="#666" stroke-width="0.9" />
<line x1="598.1" y1="569.1" x2="598.1" y2="572.1" stroke="#111" stroke-width="1.2" />
<line x1="598.1" y1="580.3" x2="598.1" y2="583.3" stroke="#111" stroke-width="1.2" />
<line x1="598.1" y1="601.5" x2="598.1" y2="604.5" stroke="#111" stroke-width="1.2" />
<line x1="598.1" y1="622.7" x2="598.1" y2="625.7" stroke="#111" stroke-width="1.2" />
<text x="0" y="0" font-size="3.8" fill="#222" transform="translate(595.5 576.0) rotate(-90)" text-anchor="middle">75</text>
<text x="0" y="0" font-size="3.8" fill="#222" transform="translate(595.5 592.0) rotate(-90)" text-anchor="middle">1.50</text>
<text x="0" y="0" font-size="3.8" fill="#222" transform="translate(595.5 613.5) rotate(-90)" text-anchor="middle">1.50</text>
<text x="608.9" y="577.6" font-size="3.6" fill="#222" text-anchor="middle" font-weight="bold">+438.39</text>
<polygon points="607.1,578.8 610.7,578.8 608.9,581.3" fill="#111"/>
<text x="608.9" y="598.8" font-size="3.6" fill="#222" text-anchor="middle" font-weight="bold">+436.89</text>
<polygon points="607.1,600.0 610.7,600.0 608.9,602.5" fill="#111"/>
<text x="608.9" y="620.0" font-size="3.6" fill="#222" text-anchor="middle" font-weight="bold">+435.39</text>
<polygon points="607.1,621.2 610.7,621.2 608.9,623.7" fill="#111"/>
<text x="705.0" y="640.0" font-size="3.4" fill="#222" text-anchor="middle" font-weight="bold">+434.82</text>
<text x="933.0" y="651.0" font-size="3.4" fill="#222" text-anchor="middle" font-weight="bold">+433.82</text>
<polyline points="662.2,581.8 662.2,592.0 718.8,592.0 718.8,581.8" fill="none" stroke="#444" stroke-width="0.9" />
<line x1="676.6" y1="592.0" x2="676.6" y2="603.0" stroke="#444" stroke-width="0.8" />
<line x1="690.4" y1="581.8" x2="690.4" y2="592.0" stroke="#444" stroke-width="0.8" />
<text x="669.0" y="590.5" font-size="3.8" fill="#222" text-anchor="middle">1.00</text>
<text x="683.0" y="590.5" font-size="3.8" fill="#222" text-anchor="middle">1.00</text>
<text x="704.0" y="590.5" font-size="3.8" fill="#222" text-anchor="middle">2.00</text>
<polyline points="913.3,603.0 913.3,613.5 955.9,613.5 955.9,624.2" fill="none" stroke="#444" stroke-width="0.9" />
<line x1="941.7" y1="603.0" x2="941.7" y2="613.5" stroke="#444" stroke-width="0.8" />
<text x="927.0" y="612.0" font-size="3.8" fill="#222" text-anchor="middle">2.00</text>
<text x="948.0" y="612.0" font-size="3.8" fill="#222" text-anchor="middle">1.00</text>
<circle cx="633.8" cy="581.8" r="2.6" fill="#f5a24a" stroke="#e07a20" stroke-width="0.7"/>
<path d="M632.0 580.0l3.6 3.6M635.6 580.0l-3.6 3.6" stroke="#fff3e0" stroke-width="0.5"/>
<rect x="629.7" y="585.5" width="8.3" height="3.8" fill="none" stroke="#888" stroke-width="0.4"/>
<text x="633.8" y="588.5" font-size="3.3" fill="#444" text-anchor="middle">D1.1</text>
<circle cx="662.2" cy="581.8" r="2.6" fill="#f5a24a" stroke="#e07a20" stroke-width="0.7"/>
<path d="M660.4 580.0l3.6 3.6M664.0 580.0l-3.6 3.6" stroke="#fff3e0" stroke-width="0.5"/>
<rect x="658.1" y="573.0" width="8.3" height="3.8" fill="none" stroke="#888" stroke-width="0.4"/>
<text x="662.2" y="576.0" font-size="3.3" fill="#444" text-anchor="middle">D1.1</text>
<circle cx="690.4" cy="581.8" r="2.6" fill="#f5a24a" stroke="#e07a20" stroke-width="0.7"/>
<path d="M688.6 580.0l3.6 3.6M692.2 580.0l-3.6 3.6" stroke="#fff3e0" stroke-width="0.5"/>
<rect x="686.3" y="573.0" width="8.3" height="3.8" fill="none" stroke="#888" stroke-width="0.4"/>
<text x="690.4" y="576.0" font-size="3.3" fill="#444" text-anchor="middle">D1.1</text>
<circle cx="718.8" cy="581.8" r="2.6" fill="#f5a24a" stroke="#e07a20" stroke-width="0.7"/>
<path d="M717.0 580.0l3.6 3.6M720.6 580.0l-3.6 3.6" stroke="#fff3e0" stroke-width="0.5"/>
<rect x="714.7" y="573.0" width="8.3" height="3.8" fill="none" stroke="#888" stroke-width="0.4"/>
<text x="718.8" y="576.0" font-size="3.3" fill="#444" text-anchor="middle">D1.1</text>
<circle cx="746.9" cy="581.8" r="2.6" fill="#f5a24a" stroke="#e07a20" stroke-width="0.7"/>
<path d="M745.1 580.0l3.6 3.6M748.7 580.0l-3.6 3.6" stroke="#fff3e0" stroke-width="0.5"/>
<rect x="742.8" y="585.5" width="8.3" height="3.8" fill="none" stroke="#888" stroke-width="0.4"/>
<text x="746.9" y="588.5" font-size="3.3" fill="#444" text-anchor="middle">D1.1</text>
<circle cx="935.2" cy="581.8" r="2.6" fill="#f5a24a" stroke="#e07a20" stroke-width="0.7"/>
<path d="M933.4 580.0l3.6 3.6M937.0 580.0l-3.6 3.6" stroke="#fff3e0" stroke-width="0.5"/>
<rect x="931.1" y="585.5" width="8.3" height="3.8" fill="none" stroke="#888" stroke-width="0.4"/>
<text x="935.2" y="588.5" font-size="3.3" fill="#444" text-anchor="middle">D1.1</text>
<circle cx="648.2" cy="603.0" r="2.6" fill="#3cc6c6" stroke="#18a0a0" stroke-width="0.7"/>
<path d="M646.4 601.2l3.6 3.6M650.0 601.2l-3.6 3.6" stroke="#e0ffff" stroke-width="0.5"/>
<rect x="644.1" y="606.5" width="8.3" height="3.8" fill="none" stroke="#888" stroke-width="0.4"/>
<text x="648.2" y="609.5" font-size="3.3" fill="#444" text-anchor="middle">D2.1</text>
<circle cx="676.6" cy="603.0" r="2.6" fill="#3cc6c6" stroke="#18a0a0" stroke-width="0.7"/>
<path d="M674.8 601.2l3.6 3.6M678.4 601.2l-3.6 3.6" stroke="#e0ffff" stroke-width="0.5"/>
<rect x="672.5" y="606.5" width="8.3" height="3.8" fill="none" stroke="#888" stroke-width="0.4"/>
<text x="676.6" y="609.5" font-size="3.3" fill="#444" text-anchor="middle">D2.1</text>
<circle cx="704.7" cy="603.0" r="2.6" fill="#3cc6c6" stroke="#18a0a0" stroke-width="0.7"/>
<path d="M702.9 601.2l3.6 3.6M706.5 601.2l-3.6 3.6" stroke="#e0ffff" stroke-width="0.5"/>
<rect x="700.6" y="606.5" width="8.3" height="3.8" fill="none" stroke="#888" stroke-width="0.4"/>
<text x="704.7" y="609.5" font-size="3.3" fill="#444" text-anchor="middle">D2.1</text>
<circle cx="733.0" cy="603.0" r="2.6" fill="#3cc6c6" stroke="#18a0a0" stroke-width="0.7"/>
<path d="M731.2 601.2l3.6 3.6M734.8 601.2l-3.6 3.6" stroke="#e0ffff" stroke-width="0.5"/>
<rect x="728.9" y="606.5" width="8.3" height="3.8" fill="none" stroke="#888" stroke-width="0.4"/>
<text x="733.0" y="609.5" font-size="3.3" fill="#444" text-anchor="middle">D2.1</text>
<circle cx="761.3" cy="603.0" r="2.6" fill="#3cc6c6" stroke="#18a0a0" stroke-width="0.7"/>
<path d="M759.5 601.2l3.6 3.6M763.1 601.2l-3.6 3.6" stroke="#e0ffff" stroke-width="0.5"/>
<rect x="757.2" y="606.5" width="8.3" height="3.8" fill="none" stroke="#888" stroke-width="0.4"/>
<text x="761.3" y="609.5" font-size="3.3" fill="#444" text-anchor="middle">D2.1</text>
<circle cx="789.6" cy="603.0" r="2.6" fill="#3cc6c6" stroke="#18a0a0" stroke-width="0.7"/>
<path d="M787.8 601.2l3.6 3.6M791.4 601.2l-3.6 3.6" stroke="#e0ffff" stroke-width="0.5"/>
<rect x="785.5" y="606.5" width="8.3" height="3.8" fill="none" stroke="#888" stroke-width="0.4"/>
<text x="789.6" y="609.5" font-size="3.3" fill="#444" text-anchor="middle">D2.1</text>
<circle cx="874.1" cy="603.0" r="2.6" fill="#3cc6c6" stroke="#18a0a0" stroke-width="0.7"/>
<path d="M872.3 601.2l3.6 3.6M875.9 601.2l-3.6 3.6" stroke="#e0ffff" stroke-width="0.5"/>
<rect x="870.0" y="606.5" width="8.3" height="3.8" fill="none" stroke="#888" stroke-width="0.4"/>
<text x="874.1" y="609.5" font-size="3.3" fill="#444" text-anchor="middle">D2.1</text>
<circle cx="913.3" cy="603.0" r="2.6" fill="#3cc6c6" stroke="#18a0a0" stroke-width="0.7"/>
<path d="M911.5 601.2l3.6 3.6M915.1 601.2l-3.6 3.6" stroke="#e0ffff" stroke-width="0.5"/>
<rect x="909.2" y="594.0" width="8.3" height="3.8" fill="none" stroke="#888" stroke-width="0.4"/>
<text x="913.3" y="597.0" font-size="3.3" fill="#444" text-anchor="middle">D2.1</text>
<circle cx="941.7" cy="603.0" r="2.6" fill="#3cc6c6" stroke="#18a0a0" stroke-width="0.7"/>
<path d="M939.9 601.2l3.6 3.6M943.5 601.2l-3.6 3.6" stroke="#e0ffff" stroke-width="0.5"/>
<rect x="937.6" y="594.0" width="8.3" height="3.8" fill="none" stroke="#888" stroke-width="0.4"/>
<text x="941.7" y="597.0" font-size="3.3" fill="#444" text-anchor="middle">D2.1</text>
<circle cx="970.0" cy="603.0" r="2.6" fill="#3cc6c6" stroke="#18a0a0" stroke-width="0.7"/>
<path d="M968.2 601.2l3.6 3.6M971.8 601.2l-3.6 3.6" stroke="#e0ffff" stroke-width="0.5"/>
<rect x="965.9" y="594.0" width="8.3" height="3.8" fill="none" stroke="#888" stroke-width="0.4"/>
<text x="970.0" y="597.0" font-size="3.3" fill="#444" text-anchor="middle">D2.1</text>
<circle cx="1004.8" cy="603.0" r="2.6" fill="#3cc6c6" stroke="#18a0a0" stroke-width="0.7"/>
<path d="M1003.0 601.2l3.6 3.6M1006.6 601.2l-3.6 3.6" stroke="#e0ffff" stroke-width="0.5"/>
<rect x="1000.7" y="594.0" width="8.3" height="3.8" fill="none" stroke="#888" stroke-width="0.4"/>
<text x="1004.8" y="597.0" font-size="3.3" fill="#444" text-anchor="middle">D2.1</text>
<circle cx="1033.3" cy="603.0" r="2.6" fill="#3cc6c6" stroke="#18a0a0" stroke-width="0.7"/>
<path d="M1031.5 601.2l3.6 3.6M1035.1 601.2l-3.6 3.6" stroke="#e0ffff" stroke-width="0.5"/>
<rect x="1029.2" y="594.0" width="8.3" height="3.8" fill="none" stroke="#888" stroke-width="0.4"/>
<text x="1033.3" y="597.0" font-size="3.3" fill="#444" text-anchor="middle">D2.1</text>
<circle cx="633.8" cy="624.2" r="2.6" fill="#3cc6c6" stroke="#18a0a0" stroke-width="0.7"/>
<path d="M632.0 622.4l3.6 3.6M635.6 622.4l-3.6 3.6" stroke="#e0ffff" stroke-width="0.5"/>
<rect x="629.7" y="628.0" width="8.3" height="3.8" fill="none" stroke="#888" stroke-width="0.4"/>
<text x="633.8" y="631.0" font-size="3.3" fill="#444" text-anchor="middle">D3.1</text>
<circle cx="662.2" cy="624.2" r="2.6" fill="#3cc6c6" stroke="#18a0a0" stroke-width="0.7"/>
<path d="M660.4 622.4l3.6 3.6M664.0 622.4l-3.6 3.6" stroke="#e0ffff" stroke-width="0.5"/>
<rect x="658.1" y="628.0" width="8.3" height="3.8" fill="none" stroke="#888" stroke-width="0.4"/>
<text x="662.2" y="631.0" font-size="3.3" fill="#444" text-anchor="middle">D3.1</text>
<circle cx="690.4" cy="624.2" r="2.6" fill="#3cc6c6" stroke="#18a0a0" stroke-width="0.7"/>
<path d="M688.6 622.4l3.6 3.6M692.2 622.4l-3.6 3.6" stroke="#e0ffff" stroke-width="0.5"/>
<rect x="686.3" y="628.0" width="8.3" height="3.8" fill="none" stroke="#888" stroke-width="0.4"/>
<text x="690.4" y="631.0" font-size="3.3" fill="#444" text-anchor="middle">D3.1</text>
<circle cx="718.8" cy="624.2" r="2.6" fill="#3cc6c6" stroke="#18a0a0" stroke-width="0.7"/>
<path d="M717.0 622.4l3.6 3.6M720.6 622.4l-3.6 3.6" stroke="#e0ffff" stroke-width="0.5"/>
<rect x="714.7" y="628.0" width="8.3" height="3.8" fill="none" stroke="#888" stroke-width="0.4"/>
<text x="718.8" y="631.0" font-size="3.3" fill="#444" text-anchor="middle">D3.1</text>
<circle cx="746.9" cy="624.2" r="2.6" fill="#3cc6c6" stroke="#18a0a0" stroke-width="0.7"/>
<path d="M745.1 622.4l3.6 3.6M748.7 622.4l-3.6 3.6" stroke="#e0ffff" stroke-width="0.5"/>
<rect x="742.8" y="628.0" width="8.3" height="3.8" fill="none" stroke="#888" stroke-width="0.4"/>
<text x="746.9" y="631.0" font-size="3.3" fill="#444" text-anchor="middle">D3.1</text>
<circle cx="775.4" cy="624.2" r="2.6" fill="#3cc6c6" stroke="#18a0a0" stroke-width="0.7"/>
<path d="M773.6 622.4l3.6 3.6M777.2 622.4l-3.6 3.6" stroke="#e0ffff" stroke-width="0.5"/>
<rect x="771.3" y="628.0" width="8.3" height="3.8" fill="none" stroke="#888" stroke-width="0.4"/>
<text x="775.4" y="631.0" font-size="3.3" fill="#444" text-anchor="middle">D3.1</text>
<circle cx="803.6" cy="624.2" r="2.6" fill="#3cc6c6" stroke="#18a0a0" stroke-width="0.7"/>
<path d="M801.8 622.4l3.6 3.6M805.4 622.4l-3.6 3.6" stroke="#e0ffff" stroke-width="0.5"/>
<rect x="799.5" y="628.0" width="8.3" height="3.8" fill="none" stroke="#888" stroke-width="0.4"/>
<text x="803.6" y="631.0" font-size="3.3" fill="#444" text-anchor="middle">D3.1</text>
<circle cx="871.3" cy="624.2" r="2.6" fill="#3cc6c6" stroke="#18a0a0" stroke-width="0.7"/>
<path d="M869.5 622.4l3.6 3.6M873.1 622.4l-3.6 3.6" stroke="#e0ffff" stroke-width="0.5"/>
<rect x="867.2" y="628.0" width="8.3" height="3.8" fill="none" stroke="#888" stroke-width="0.4"/>
<text x="871.3" y="631.0" font-size="3.3" fill="#444" text-anchor="middle">D3.1</text>
<circle cx="927.4" cy="624.2" r="2.6" fill="#3cc6c6" stroke="#18a0a0" stroke-width="0.7"/>
<path d="M925.6 622.4l3.6 3.6M929.2 622.4l-3.6 3.6" stroke="#e0ffff" stroke-width="0.5"/>
<rect x="923.3" y="628.0" width="8.3" height="3.8" fill="none" stroke="#888" stroke-width="0.4"/>
<text x="927.4" y="631.0" font-size="3.3" fill="#444" text-anchor="middle">D3.1</text>
<circle cx="955.9" cy="624.2" r="2.6" fill="#3cc6c6" stroke="#18a0a0" stroke-width="0.7"/>
<path d="M954.1 622.4l3.6 3.6M957.7 622.4l-3.6 3.6" stroke="#e0ffff" stroke-width="0.5"/>
<rect x="951.8" y="628.0" width="8.3" height="3.8" fill="none" stroke="#888" stroke-width="0.4"/>
<text x="955.9" y="631.0" font-size="3.3" fill="#444" text-anchor="middle">D3.1</text>
<circle cx="1019.0" cy="624.2" r="2.6" fill="#3cc6c6" stroke="#18a0a0" stroke-width="0.7"/>
<path d="M1017.2 622.4l3.6 3.6M1020.8 622.4l-3.6 3.6" stroke="#e0ffff" stroke-width="0.5"/>
<rect x="1014.9" y="628.0" width="8.3" height="3.8" fill="none" stroke="#888" stroke-width="0.4"/>
<text x="1019.0" y="631.0" font-size="3.3" fill="#444" text-anchor="middle">D3.1</text>
<circle cx="1047.6" cy="624.2" r="2.6" fill="#3cc6c6" stroke="#18a0a0" stroke-width="0.7"/>
<path d="M1045.8 622.4l3.6 3.6M1049.4 622.4l-3.6 3.6" stroke="#e0ffff" stroke-width="0.5"/>
<rect x="1043.5" y="628.0" width="8.3" height="3.8" fill="none" stroke="#888" stroke-width="0.4"/>
<text x="1047.6" y="631.0" font-size="3.3" fill="#444" text-anchor="middle">D3.1</text>
</svg>
</body></html>
